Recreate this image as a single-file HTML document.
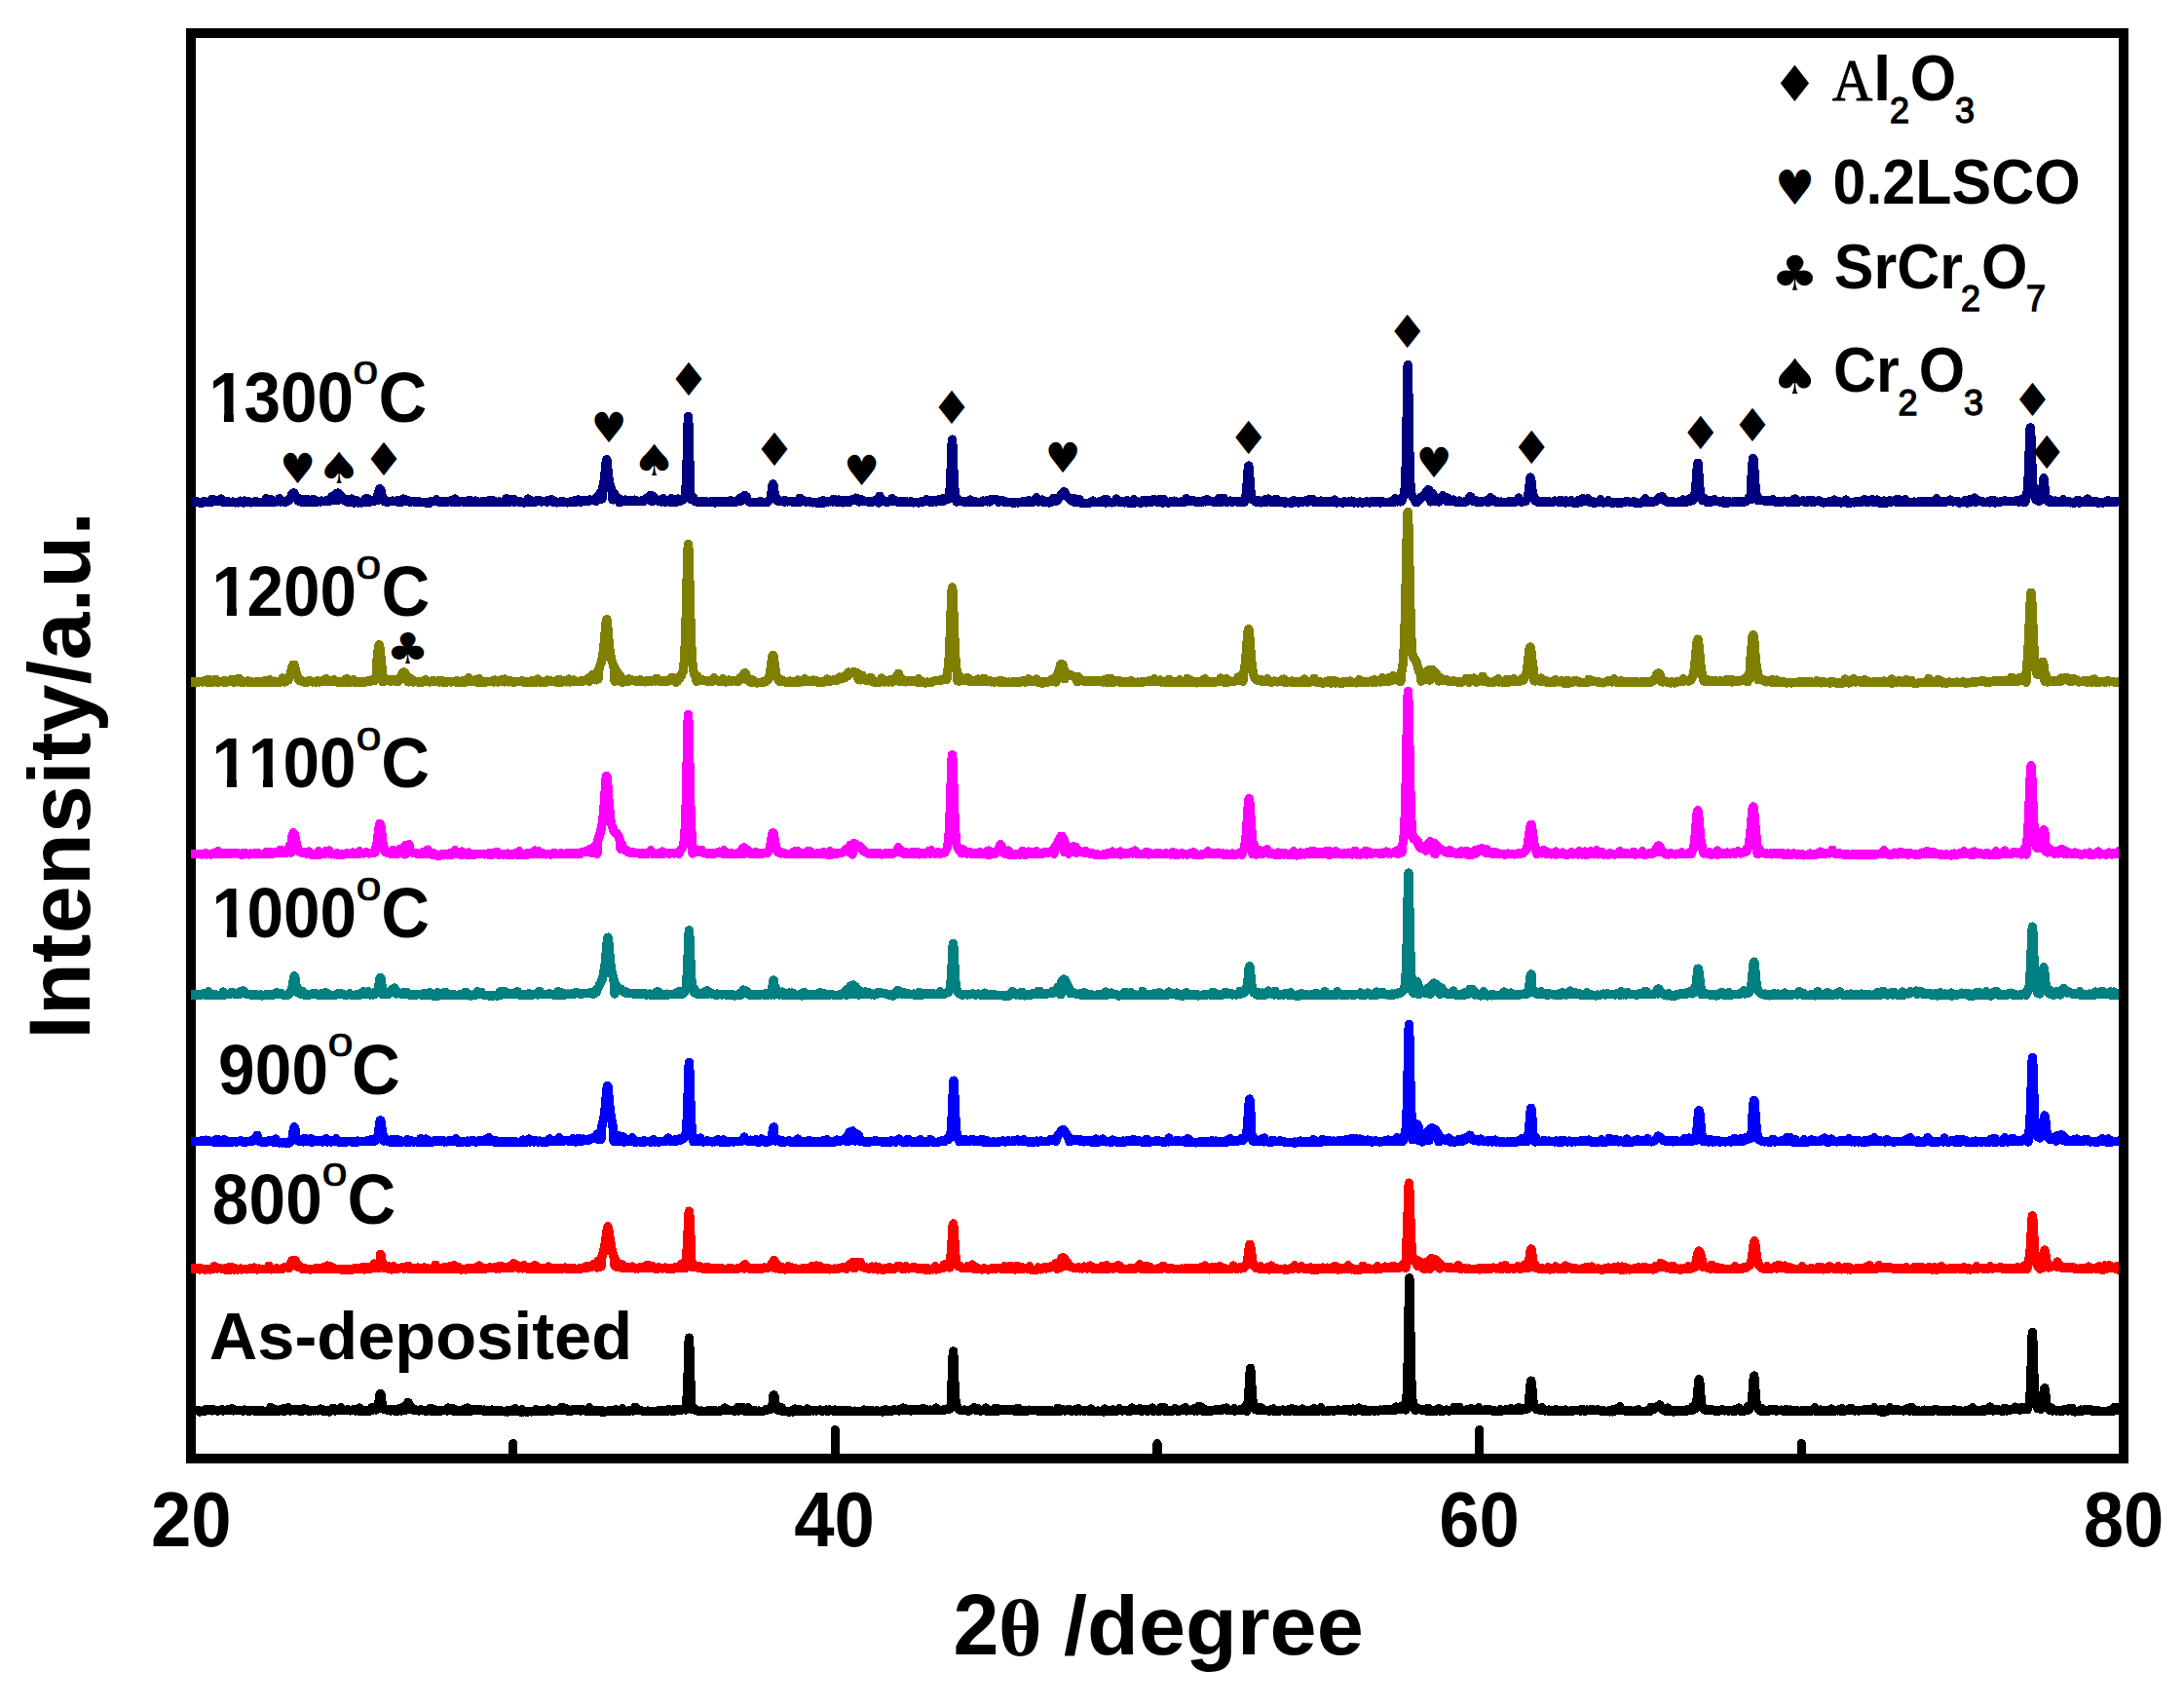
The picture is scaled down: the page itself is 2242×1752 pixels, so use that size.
<!DOCTYPE html>
<html lang="en"><head><meta charset="utf-8">
<title>XRD patterns</title>
<style>
html,body{margin:0;padding:0;background:#fff;}
body{width:2242px;height:1752px;overflow:hidden;}
svg{display:block;}
text{font-family:"Liberation Sans",sans-serif;font-weight:700;fill:#000;}
.sym{font-family:"DejaVu Sans",sans-serif;font-weight:400;font-size:100px;}
.reg{font-weight:400;}
.ser{font-family:"Liberation Serif",serif;font-weight:700;}
.serA{font-family:"Liberation Serif",serif;font-weight:400;font-size:57.2px;stroke:#000;stroke-width:0.9px;}
.lab{font-size:69px;}
.sup{font-size:39.7px;font-weight:400;stroke:#000;stroke-width:0.7px;}
.leg{font-size:61px;}
.sub{font-size:33.75px;font-weight:400;stroke:#000;stroke-width:1.3px;}
.bigO{font-size:62.6px;}
.tick{font-size:76px;text-anchor:middle;}
.ttl{font-size:87px;}
.ytl{font-size:88px;letter-spacing:0.3px;}
</style></head><body>
<svg width="2242" height="1752" viewBox="0 0 2242 1752">
<rect width="2242" height="1752" fill="#fff"/>
<g shape-rendering="crispEdges">
<path d="M2180,1497 L196,1497 L196,34 L2180,34" fill="none" stroke="#000" stroke-width="10" stroke-linejoin="miter"/>
<line x1="526.7" y1="1481.6" x2="526.7" y2="1495" stroke="#000" stroke-width="9.2" stroke-linecap="round"/>
<line x1="857.3" y1="1467.6" x2="857.3" y2="1495" stroke="#000" stroke-width="9.2" stroke-linecap="round"/>
<line x1="1188.0" y1="1481.6" x2="1188.0" y2="1495" stroke="#000" stroke-width="9.2" stroke-linecap="round"/>
<line x1="1518.7" y1="1467.6" x2="1518.7" y2="1495" stroke="#000" stroke-width="9.2" stroke-linecap="round"/>
<line x1="1849.3" y1="1481.6" x2="1849.3" y2="1495" stroke="#000" stroke-width="9.2" stroke-linecap="round"/>
</g>
<g id="curves" shape-rendering="crispEdges">
<path d="M196,1447.8 197,1447.8 198,1447.8 199,1447.8 200,1447.8 201,1447.8 202,1447.8 203,1447.8 204,1447.8 205,1448.9 206,1448.3 207,1448.6 208,1448.5 209,1448.3 210,1446.9 211,1448.1 212,1446.4 213,1446.7 214,1447.8 215,1447.2 216,1446.7 217,1446.6 218,1447.9 219,1446.8 220,1447.6 221,1447.7 222,1447.7 223,1448.1 224,1447.9 225,1447.9 226,1447.6 227,1447.6 228,1446.9 229,1447.9 230,1447.6 231,1447.5 232,1447.7 233,1447.0 234,1446.9 235,1447.8 236,1447.3 237,1446.7 238,1445.7 239,1447.9 240,1447.8 241,1446.9 242,1447.3 243,1447.7 244,1447.3 245,1447.2 246,1447.7 247,1447.3 248,1447.9 249,1447.8 250,1448.0 251,1447.0 252,1447.7 253,1447.3 254,1447.9 255,1448.0 256,1448.2 257,1448.0 258,1447.5 259,1447.7 260,1447.7 261,1448.0 262,1448.3 263,1448.2 264,1447.7 265,1448.5 266,1448.0 267,1447.5 268,1448.4 269,1447.5 270,1448.3 271,1448.2 272,1448.6 273,1448.3 274,1448.4 275,1447.8 276,1448.6 277,1448.5 278,1444.4 279,1448.3 280,1448.4 281,1448.4 282,1446.6 283,1448.1 284,1447.0 285,1448.0 286,1448.3 287,1447.1 288,1447.7 289,1447.8 290,1447.9 291,1445.7 292,1448.2 293,1447.9 294,1447.7 295,1447.3 296,1444.8 297,1447.8 298,1448.0 299,1447.8 300,1447.5 301,1446.2 302,1447.6 303,1447.1 304,1447.7 305,1446.8 306,1446.3 307,1447.9 308,1448.2 309,1447.9 310,1448.4 311,1448.2 312,1445.6 313,1447.8 314,1447.6 315,1447.5 316,1447.1 317,1448.4 318,1447.4 319,1447.9 320,1447.4 321,1447.9 322,1447.7 323,1447.5 324,1447.9 325,1447.3 326,1447.9 327,1447.5 328,1447.8 329,1446.0 330,1446.3 331,1448.0 332,1448.0 333,1448.2 334,1447.6 335,1447.9 336,1447.7 337,1448.0 338,1448.9 339,1448.0 340,1448.1 341,1447.8 342,1445.3 343,1447.6 344,1448.0 345,1447.5 346,1447.1 347,1447.5 348,1446.8 349,1447.3 350,1444.6 351,1447.1 352,1446.4 353,1447.3 354,1447.3 355,1447.3 356,1447.6 357,1446.6 358,1447.3 359,1447.9 360,1447.6 361,1447.8 362,1447.5 363,1446.6 364,1447.7 365,1448.0 366,1447.7 367,1447.7 368,1448.1 369,1444.9 370,1448.4 371,1448.0 372,1447.8 373,1447.8 374,1448.7 375,1448.5 376,1448.0 377,1447.2 378,1448.6 379,1448.1 380,1447.2 381,1446.7 382,1444.4 383,1447.0 384,1446.8 385,1446.1 386,1446.9 387,1446.3 388,1445.6 389,1438.5 390,1431.3 390.5,1430.4 391,1431.4 392,1438.8 393,1445.8 394,1446.1 395,1446.7 396,1446.2 397,1447.0 398,1446.3 399,1447.2 400,1447.1 401,1448.0 402,1447.8 403,1446.7 404,1446.3 405,1448.0 406,1448.2 407,1448.6 408,1448.5 409,1447.9 410,1445.5 411,1447.0 412,1448.0 413,1447.4 414,1447.2 415,1443.4 416,1447.2 417,1444.1 418,1441.9 419,1439.3 420,1446.3 421,1443.0 422,1444.9 423,1445.3 424,1446.4 425,1447.3 426,1446.7 427,1447.2 428,1447.8 429,1447.4 430,1448.0 431,1447.7 432,1446.8 433,1447.6 434,1447.4 435,1447.8 436,1447.7 437,1448.1 438,1448.6 439,1447.5 440,1447.8 441,1447.5 442,1445.3 443,1448.3 444,1448.5 445,1447.9 446,1448.1 447,1447.0 448,1448.3 449,1448.1 450,1447.7 451,1448.1 452,1448.0 453,1447.9 454,1447.8 455,1447.4 456,1447.6 457,1447.8 458,1447.6 459,1447.9 460,1445.1 461,1447.3 462,1447.7 463,1447.3 464,1447.4 465,1445.4 466,1448.3 467,1447.6 468,1448.1 469,1448.3 470,1448.0 471,1448.3 472,1447.6 473,1448.2 474,1448.2 475,1448.1 476,1448.0 477,1446.1 478,1448.4 479,1448.2 480,1444.9 481,1448.3 482,1448.3 483,1447.3 484,1447.8 485,1447.9 486,1446.5 487,1447.0 488,1446.4 489,1447.7 490,1447.8 491,1447.5 492,1447.7 493,1446.8 494,1447.5 495,1447.4 496,1447.9 497,1447.1 498,1447.4 499,1448.5 500,1447.8 501,1447.9 502,1448.6 503,1448.5 504,1448.2 505,1447.0 506,1448.6 507,1448.3 508,1448.4 509,1448.1 510,1447.6 511,1448.2 512,1448.1 513,1447.9 514,1448.6 515,1448.1 516,1448.6 517,1448.7 518,1448.7 519,1448.9 520,1448.5 521,1448.9 522,1447.3 523,1448.3 524,1448.8 525,1448.6 526,1448.1 527,1446.4 528,1447.8 529,1445.6 530,1448.6 531,1448.5 532,1448.1 533,1448.9 534,1447.6 535,1449.1 536,1446.6 537,1449.0 538,1448.8 539,1448.6 540,1449.0 541,1448.6 542,1449.1 543,1448.5 544,1448.8 545,1448.8 546,1448.9 547,1448.3 548,1448.3 549,1448.5 550,1446.8 551,1448.7 552,1447.6 553,1447.4 554,1448.1 555,1448.2 556,1447.7 557,1448.1 558,1447.8 559,1448.1 560,1448.2 561,1448.3 562,1447.7 563,1445.9 564,1447.2 565,1446.9 566,1448.5 567,1447.8 568,1447.9 569,1447.8 570,1447.6 571,1447.8 572,1447.5 573,1447.5 574,1446.6 575,1447.5 576,1445.8 577,1444.2 578,1446.9 579,1447.1 580,1447.6 581,1445.5 582,1448.0 583,1448.3 584,1447.7 585,1447.5 586,1447.9 587,1448.0 588,1446.8 589,1447.6 590,1447.1 591,1446.6 592,1447.1 593,1446.8 594,1447.4 595,1447.3 596,1447.9 597,1446.9 598,1447.5 599,1447.1 600,1447.6 601,1447.9 602,1448.2 603,1447.9 604,1447.7 605,1444.8 606,1448.4 607,1448.2 608,1447.7 609,1447.5 610,1448.3 611,1448.2 612,1447.9 613,1448.6 614,1447.9 615,1448.4 616,1448.0 617,1449.1 618,1447.9 619,1448.6 620,1449.2 621,1448.5 622,1448.7 623,1448.2 624,1448.3 625,1448.2 626,1447.3 627,1448.3 628,1448.2 629,1448.5 630,1448.0 631,1447.7 632,1446.6 633,1448.6 634,1448.5 635,1448.1 636,1447.9 637,1448.1 638,1447.3 639,1445.6 640,1448.4 641,1448.4 642,1448.5 643,1448.2 644,1448.5 645,1448.0 646,1448.3 647,1447.7 648,1447.7 649,1447.6 650,1448.0 651,1447.1 652,1444.2 653,1447.3 654,1447.8 655,1447.1 656,1446.9 657,1447.5 658,1447.5 659,1448.0 660,1448.4 661,1448.6 662,1448.4 663,1448.5 664,1448.7 665,1448.1 666,1448.3 667,1448.6 668,1448.5 669,1448.7 670,1448.6 671,1448.4 672,1448.4 673,1448.2 674,1448.3 675,1448.1 676,1447.7 677,1448.2 678,1447.8 679,1448.5 680,1448.5 681,1447.5 682,1447.4 683,1448.0 684,1447.7 685,1448.4 686,1447.8 687,1446.4 688,1447.6 689,1447.8 690,1448.2 691,1448.2 692,1446.7 693,1447.9 694,1447.6 695,1447.6 696,1446.7 697,1447.5 698,1447.0 699,1446.6 700,1447.0 701,1445.9 702,1445.7 703,1445.1 704,1447.0 705,1437.2 706,1415.7 707,1379.0 707.4,1373.1 708,1385.4 709,1421.9 710,1446.4 711,1443.9 712,1445.6 713,1445.7 714,1447.4 715,1447.8 716,1447.5 717,1448.4 718,1448.4 719,1448.5 720,1448.1 721,1448.5 722,1448.2 723,1448.7 724,1448.5 725,1448.6 726,1448.0 727,1448.2 728,1448.1 729,1448.4 730,1448.0 731,1448.0 732,1448.0 733,1448.2 734,1447.6 735,1448.4 736,1448.5 737,1448.2 738,1448.1 739,1448.3 740,1448.0 741,1447.8 742,1446.5 743,1447.3 744,1445.1 745,1447.3 746,1447.8 747,1446.5 748,1447.6 749,1447.7 750,1447.3 751,1447.8 752,1447.2 753,1447.9 754,1447.3 755,1448.1 756,1447.5 757,1444.8 758,1448.0 759,1445.3 760,1447.5 761,1446.1 762,1444.3 763,1445.9 764,1447.5 765,1448.4 766,1447.8 767,1448.1 768,1444.6 769,1448.1 770,1447.7 771,1448.2 772,1448.1 773,1447.7 774,1447.9 775,1447.7 776,1448.0 777,1448.5 778,1448.3 779,1448.1 780,1448.5 781,1448.4 782,1448.7 783,1448.3 784,1448.1 785,1447.6 786,1446.7 787,1447.3 788,1447.1 789,1446.8 790,1446.1 791,1446.1 792,1443.4 793,1445.0 794,1432.4 794.4,1431.7 795,1433.4 796,1440.3 797,1444.9 798,1446.6 799,1447.6 800,1447.2 801,1447.5 802,1444.5 803,1448.2 804,1448.2 805,1447.6 806,1448.0 807,1448.3 808,1448.7 809,1449.0 810,1448.8 811,1449.1 812,1448.6 813,1448.6 814,1448.9 815,1446.4 816,1446.0 817,1448.3 818,1448.4 819,1448.8 820,1448.3 821,1446.6 822,1448.5 823,1448.0 824,1448.7 825,1448.5 826,1448.3 827,1448.6 828,1446.5 829,1445.9 830,1448.4 831,1448.1 832,1448.0 833,1447.8 834,1447.7 835,1447.9 836,1447.7 837,1447.6 838,1448.0 839,1447.5 840,1447.4 841,1447.5 842,1447.0 843,1448.1 844,1447.8 845,1447.9 846,1447.7 847,1447.8 848,1447.1 849,1448.2 850,1447.8 851,1448.1 852,1447.0 853,1447.7 854,1447.6 855,1447.4 856,1448.1 857,1447.1 858,1447.7 859,1448.3 860,1447.7 861,1447.7 862,1448.1 863,1447.2 864,1448.4 865,1448.2 866,1447.8 867,1447.7 868,1447.9 869,1448.0 870,1448.0 871,1448.1 872,1448.0 873,1448.0 874,1448.6 875,1448.3 876,1448.5 877,1448.3 878,1448.1 879,1448.8 880,1448.2 881,1448.2 882,1448.2 883,1448.2 884,1448.6 885,1448.3 886,1448.4 887,1447.0 888,1448.6 889,1448.6 890,1447.2 891,1448.7 892,1448.1 893,1448.7 894,1448.6 895,1447.6 896,1448.0 897,1448.3 898,1448.4 899,1448.0 900,1448.2 901,1447.9 902,1448.4 903,1448.8 904,1448.8 905,1448.1 906,1448.9 907,1448.3 908,1448.8 909,1446.4 910,1448.1 911,1447.9 912,1448.3 913,1448.5 914,1448.1 915,1448.2 916,1448.0 917,1447.6 918,1446.7 919,1447.7 920,1447.6 921,1447.7 922,1447.1 923,1447.9 924,1446.8 925,1446.3 926,1446.6 927,1444.9 928,1447.3 929,1447.4 930,1447.5 931,1446.1 932,1447.8 933,1446.7 934,1447.2 935,1448.0 936,1446.5 937,1447.7 938,1446.8 939,1446.7 940,1447.4 941,1447.5 942,1447.7 943,1446.3 944,1447.5 945,1447.3 946,1446.4 947,1445.6 948,1447.3 949,1445.9 950,1447.8 951,1446.9 952,1447.7 953,1447.8 954,1447.5 955,1447.0 956,1447.6 957,1447.6 958,1447.3 959,1447.2 960,1447.4 961,1445.1 962,1447.1 963,1447.4 964,1447.4 965,1447.4 966,1447.4 967,1447.6 968,1447.0 969,1446.8 970,1447.1 971,1446.5 972,1446.0 973,1446.1 974,1446.1 975,1443.6 976,1445.3 977,1421.8 978,1393.3 978.5,1386.9 979,1393.1 980,1421.8 981,1438.5 982,1443.9 983,1444.5 984,1446.4 985,1447.0 986,1447.3 987,1447.8 988,1447.5 989,1447.6 990,1447.1 991,1447.7 992,1447.5 993,1448.1 994,1448.2 995,1447.7 996,1447.2 997,1446.8 998,1446.9 999,1445.9 1000,1444.8 1001,1446.0 1002,1447.5 1003,1447.4 1004,1445.8 1005,1447.6 1006,1448.1 1007,1447.8 1008,1447.9 1009,1447.4 1010,1447.1 1011,1447.9 1012,1444.9 1013,1448.4 1014,1448.3 1015,1448.5 1016,1447.9 1017,1448.1 1018,1448.1 1019,1448.3 1020,1447.3 1021,1448.2 1022,1445.3 1023,1445.3 1024,1448.4 1025,1448.1 1026,1446.7 1027,1446.4 1028,1447.8 1029,1447.6 1030,1447.6 1031,1446.7 1032,1446.9 1033,1447.2 1034,1447.2 1035,1446.9 1036,1446.4 1037,1447.4 1038,1446.9 1039,1447.2 1040,1447.0 1041,1447.0 1042,1448.1 1043,1448.6 1044,1448.2 1045,1445.2 1046,1448.4 1047,1447.9 1048,1447.6 1049,1447.9 1050,1448.3 1051,1447.6 1052,1448.1 1053,1447.9 1054,1447.5 1055,1447.9 1056,1447.1 1057,1447.3 1058,1447.5 1059,1447.4 1060,1447.5 1061,1447.4 1062,1447.7 1063,1447.6 1064,1447.8 1065,1447.4 1066,1448.3 1067,1448.6 1068,1447.4 1069,1448.6 1070,1448.7 1071,1447.7 1072,1448.5 1073,1448.2 1074,1447.7 1075,1448.3 1076,1448.5 1077,1448.6 1078,1447.7 1079,1448.0 1080,1447.9 1081,1448.5 1082,1448.5 1083,1448.3 1084,1447.8 1085,1448.3 1086,1445.2 1087,1447.6 1088,1448.4 1089,1447.7 1090,1446.2 1091,1447.7 1092,1447.8 1093,1448.0 1094,1447.5 1095,1447.1 1096,1447.2 1097,1446.3 1098,1447.4 1099,1447.9 1100,1448.0 1101,1447.9 1102,1447.4 1103,1447.0 1104,1447.9 1105,1447.4 1106,1448.1 1107,1445.8 1108,1447.4 1109,1448.0 1110,1447.8 1111,1447.2 1112,1447.8 1113,1448.2 1114,1447.8 1115,1447.7 1116,1447.8 1117,1447.7 1118,1448.4 1119,1447.5 1120,1445.9 1121,1448.2 1122,1448.8 1123,1448.4 1124,1448.6 1125,1448.4 1126,1448.8 1127,1448.1 1128,1448.5 1129,1448.2 1130,1448.5 1131,1448.1 1132,1448.7 1133,1448.9 1134,1446.1 1135,1448.3 1136,1448.5 1137,1448.7 1138,1447.6 1139,1448.3 1140,1448.7 1141,1448.7 1142,1446.9 1143,1447.1 1144,1448.6 1145,1448.0 1146,1448.3 1147,1447.2 1148,1447.6 1149,1445.8 1150,1446.8 1151,1447.7 1152,1447.9 1153,1447.8 1154,1447.8 1155,1447.8 1156,1447.2 1157,1448.0 1158,1448.3 1159,1448.0 1160,1447.7 1161,1448.1 1162,1445.0 1163,1447.3 1164,1447.7 1165,1447.5 1166,1446.9 1167,1447.3 1168,1447.4 1169,1447.5 1170,1445.4 1171,1448.0 1172,1447.9 1173,1448.0 1174,1447.7 1175,1446.6 1176,1446.7 1177,1447.9 1178,1448.2 1179,1447.0 1180,1446.8 1181,1447.5 1182,1447.4 1183,1445.1 1184,1448.1 1185,1448.1 1186,1447.4 1187,1447.7 1188,1448.1 1189,1447.8 1190,1448.2 1191,1448.1 1192,1444.4 1193,1447.7 1194,1446.9 1195,1444.4 1196,1448.2 1197,1447.2 1198,1447.8 1199,1448.0 1200,1448.2 1201,1448.2 1202,1448.0 1203,1447.3 1204,1448.0 1205,1447.8 1206,1445.6 1207,1446.4 1208,1448.1 1209,1448.3 1210,1448.2 1211,1447.7 1212,1447.4 1213,1446.6 1214,1447.7 1215,1447.3 1216,1445.7 1217,1444.5 1218,1448.0 1219,1447.5 1220,1447.1 1221,1447.7 1222,1447.2 1223,1447.4 1224,1447.4 1225,1446.0 1226,1447.9 1227,1447.5 1228,1447.8 1229,1447.9 1230,1443.5 1231,1447.1 1232,1447.7 1233,1443.9 1234,1445.2 1235,1448.0 1236,1447.8 1237,1448.3 1238,1447.0 1239,1448.3 1240,1448.5 1241,1448.2 1242,1447.7 1243,1448.0 1244,1447.7 1245,1447.9 1246,1447.5 1247,1447.7 1248,1446.8 1249,1447.0 1250,1447.5 1251,1446.3 1252,1447.3 1253,1447.6 1254,1447.4 1255,1446.8 1256,1446.7 1257,1445.2 1258,1446.0 1259,1444.9 1260,1447.4 1261,1447.0 1262,1447.8 1263,1447.5 1264,1447.3 1265,1447.2 1266,1447.9 1267,1445.8 1268,1448.0 1269,1447.4 1270,1447.5 1271,1447.4 1272,1447.0 1273,1447.1 1274,1447.4 1275,1446.5 1276,1446.9 1277,1444.8 1278,1445.8 1279,1445.8 1280,1448.3 1281,1440.0 1282,1428.0 1283,1409.7 1283.6,1404.2 1284,1406.9 1285,1424.6 1286,1437.8 1287,1441.2 1288,1446.3 1289,1446.7 1290,1447.1 1291,1447.3 1292,1446.6 1293,1446.9 1294,1444.3 1295,1447.5 1296,1447.6 1297,1447.7 1298,1447.0 1299,1447.5 1300,1447.6 1301,1447.7 1302,1447.7 1303,1448.3 1304,1448.0 1305,1446.7 1306,1447.4 1307,1445.9 1308,1448.3 1309,1448.0 1310,1447.7 1311,1447.3 1312,1448.1 1313,1447.4 1314,1447.7 1315,1447.9 1316,1447.3 1317,1447.1 1318,1448.0 1319,1448.0 1320,1447.9 1321,1447.9 1322,1448.3 1323,1446.6 1324,1448.1 1325,1448.0 1326,1445.5 1327,1447.6 1328,1448.0 1329,1446.4 1330,1448.3 1331,1448.1 1332,1448.5 1333,1448.0 1334,1448.6 1335,1448.7 1336,1448.3 1337,1446.1 1338,1448.3 1339,1448.6 1340,1448.4 1341,1447.4 1342,1447.4 1343,1447.7 1344,1448.4 1345,1447.9 1346,1448.6 1347,1448.5 1348,1448.3 1349,1445.5 1350,1447.7 1351,1448.2 1352,1447.9 1353,1448.0 1354,1447.9 1355,1447.7 1356,1444.8 1357,1448.1 1358,1447.7 1359,1447.9 1360,1448.5 1361,1448.3 1362,1448.1 1363,1448.3 1364,1448.5 1365,1448.1 1366,1447.4 1367,1447.7 1368,1447.7 1369,1448.3 1370,1448.0 1371,1447.8 1372,1447.7 1373,1447.8 1374,1446.9 1375,1447.4 1376,1447.4 1377,1447.3 1378,1447.8 1379,1447.0 1380,1446.9 1381,1446.8 1382,1447.8 1383,1447.3 1384,1446.8 1385,1447.7 1386,1448.2 1387,1447.8 1388,1447.7 1389,1445.9 1390,1447.9 1391,1447.7 1392,1448.0 1393,1447.0 1394,1447.9 1395,1444.9 1396,1447.6 1397,1447.0 1398,1447.3 1399,1448.0 1400,1448.7 1401,1446.8 1402,1448.7 1403,1448.1 1404,1447.6 1405,1448.4 1406,1448.6 1407,1447.4 1408,1447.9 1409,1447.6 1410,1447.6 1411,1448.2 1412,1447.3 1413,1447.6 1414,1447.5 1415,1448.0 1416,1447.6 1417,1447.1 1418,1447.7 1419,1447.6 1420,1447.4 1421,1446.7 1422,1447.0 1423,1447.4 1424,1447.5 1425,1446.7 1426,1447.4 1427,1447.3 1428,1447.2 1429,1446.9 1430,1446.8 1431,1446.6 1432,1447.3 1433,1443.9 1434,1446.7 1435,1445.3 1436,1446.0 1437,1445.8 1438,1446.0 1439,1443.1 1440,1444.9 1441,1444.9 1442,1446.3 1443,1447.1 1444,1434.8 1445,1409.7 1446,1348.3 1446.8,1311.7 1447,1314.6 1448,1376.1 1449,1423.7 1450,1438.5 1451,1442.0 1452,1443.6 1453,1447.5 1454,1445.0 1455,1445.4 1456,1445.7 1457,1446.1 1458,1446.5 1459,1447.0 1460,1447.3 1461,1447.0 1462,1447.8 1463,1447.6 1464,1448.1 1465,1448.4 1466,1445.3 1467,1448.2 1468,1448.3 1469,1447.7 1470,1447.7 1471,1448.2 1472,1447.4 1473,1447.2 1474,1448.0 1475,1447.9 1476,1447.2 1477,1445.4 1478,1448.0 1479,1448.0 1480,1447.4 1481,1448.0 1482,1447.9 1483,1447.7 1484,1447.6 1485,1447.1 1486,1447.7 1487,1448.0 1488,1447.6 1489,1447.9 1490,1447.5 1491,1447.6 1492,1446.8 1493,1444.2 1494,1446.5 1495,1447.7 1496,1447.8 1497,1447.1 1498,1444.3 1499,1446.3 1500,1447.1 1501,1447.5 1502,1447.2 1503,1447.2 1504,1447.4 1505,1447.2 1506,1446.8 1507,1447.3 1508,1447.6 1509,1446.1 1510,1445.8 1511,1447.8 1512,1446.9 1513,1447.6 1514,1447.0 1515,1447.8 1516,1447.7 1517,1447.7 1518,1444.7 1519,1447.6 1520,1447.8 1521,1447.3 1522,1447.6 1523,1447.7 1524,1447.1 1525,1447.5 1526,1446.5 1527,1447.3 1528,1446.7 1529,1447.6 1530,1447.0 1531,1447.6 1532,1447.5 1533,1448.3 1534,1447.5 1535,1448.2 1536,1448.4 1537,1448.7 1538,1448.0 1539,1447.6 1540,1446.6 1541,1447.8 1542,1448.1 1543,1447.8 1544,1447.2 1545,1447.4 1546,1446.7 1547,1446.6 1548,1447.2 1549,1447.2 1550,1446.7 1551,1445.8 1552,1447.5 1553,1447.1 1554,1447.7 1555,1447.0 1556,1447.7 1557,1447.7 1558,1447.8 1559,1444.5 1560,1447.8 1561,1447.7 1562,1447.1 1563,1445.6 1564,1446.7 1565,1446.5 1566,1446.8 1567,1446.6 1568,1445.4 1569,1445.1 1570,1432.9 1571,1420.9 1571.7,1417.1 1572,1417.4 1573,1426.7 1574,1438.9 1575,1443.6 1576,1444.9 1577,1446.4 1578,1446.5 1579,1445.1 1580,1446.8 1581,1447.6 1582,1447.6 1583,1444.5 1584,1447.1 1585,1447.7 1586,1447.9 1587,1447.8 1588,1447.5 1589,1447.9 1590,1447.1 1591,1447.8 1592,1448.2 1593,1448.0 1594,1447.6 1595,1448.3 1596,1448.5 1597,1446.6 1598,1448.3 1599,1447.3 1600,1448.3 1601,1448.5 1602,1448.0 1603,1448.2 1604,1447.8 1605,1448.6 1606,1448.6 1607,1447.0 1608,1448.5 1609,1448.1 1610,1448.2 1611,1448.2 1612,1448.1 1613,1448.2 1614,1447.9 1615,1447.9 1616,1447.7 1617,1447.4 1618,1447.5 1619,1447.5 1620,1447.6 1621,1447.5 1622,1448.1 1623,1447.2 1624,1446.1 1625,1447.5 1626,1448.1 1627,1447.3 1628,1447.9 1629,1447.0 1630,1447.4 1631,1447.3 1632,1447.0 1633,1447.1 1634,1446.7 1635,1446.9 1636,1447.4 1637,1447.4 1638,1447.5 1639,1447.6 1640,1446.9 1641,1447.6 1642,1447.3 1643,1447.2 1644,1448.2 1645,1447.9 1646,1447.8 1647,1448.3 1648,1448.3 1649,1448.4 1650,1448.7 1651,1448.4 1652,1447.7 1653,1448.9 1654,1448.1 1655,1448.9 1656,1446.8 1657,1448.5 1658,1448.1 1659,1447.6 1660,1447.4 1661,1447.5 1662,1444.5 1663,1443.7 1664,1447.5 1665,1447.2 1666,1447.3 1667,1447.6 1668,1448.1 1669,1447.4 1670,1448.2 1671,1448.0 1672,1448.3 1673,1447.3 1674,1447.5 1675,1448.5 1676,1448.5 1677,1448.4 1678,1448.0 1679,1447.7 1680,1448.2 1681,1447.7 1682,1446.8 1683,1448.3 1684,1448.3 1685,1448.6 1686,1448.6 1687,1448.3 1688,1448.2 1689,1448.8 1690,1448.3 1691,1447.6 1692,1448.0 1693,1448.0 1694,1448.1 1695,1444.3 1696,1446.5 1697,1446.5 1698,1446.2 1699,1445.5 1700,1444.8 1701,1444.0 1702,1443.0 1703,1442.8 1704,1441.9 1705,1444.7 1706,1445.6 1707,1446.9 1708,1447.1 1709,1448.0 1710,1447.6 1711,1448.0 1712,1445.1 1713,1448.2 1714,1448.2 1715,1448.2 1716,1448.8 1717,1448.1 1718,1448.9 1719,1447.8 1720,1448.4 1721,1448.1 1722,1448.4 1723,1448.7 1724,1447.8 1725,1447.6 1726,1448.0 1727,1448.4 1728,1447.3 1729,1448.2 1730,1447.9 1731,1448.3 1732,1447.8 1733,1446.4 1734,1447.8 1735,1447.0 1736,1447.7 1737,1447.0 1738,1443.4 1739,1444.8 1740,1446.0 1741,1441.7 1742,1437.5 1743,1425.7 1744,1415.9 1744.2,1415.7 1745,1420.3 1746,1433.4 1747,1441.9 1748,1445.3 1749,1445.7 1750,1446.9 1751,1447.2 1752,1447.4 1753,1447.6 1754,1446.7 1755,1446.8 1756,1447.7 1757,1447.7 1758,1447.1 1759,1447.4 1760,1447.9 1761,1447.4 1762,1448.4 1763,1447.9 1764,1448.1 1765,1447.7 1766,1447.9 1767,1446.9 1768,1446.9 1769,1447.2 1770,1447.7 1771,1447.9 1772,1447.5 1773,1447.8 1774,1448.0 1775,1447.7 1776,1447.9 1777,1447.6 1778,1447.9 1779,1448.1 1780,1448.4 1781,1446.6 1782,1448.0 1783,1447.7 1784,1447.5 1785,1444.9 1786,1447.3 1787,1448.4 1788,1447.6 1789,1448.4 1790,1448.0 1791,1447.6 1792,1447.9 1793,1447.5 1794,1443.8 1795,1447.0 1796,1445.8 1797,1443.6 1798,1440.2 1799,1431.2 1800,1416.0 1800.6,1412.0 1801,1413.9 1802,1428.5 1803,1440.0 1804,1442.7 1805,1446.3 1806,1446.5 1807,1448.0 1808,1447.9 1809,1445.8 1810,1448.2 1811,1447.4 1812,1447.5 1813,1447.3 1814,1448.1 1815,1447.3 1816,1448.1 1817,1446.9 1818,1447.5 1819,1447.2 1820,1447.2 1821,1446.5 1822,1447.5 1823,1448.1 1824,1447.0 1825,1447.6 1826,1447.6 1827,1447.3 1828,1447.2 1829,1447.1 1830,1447.9 1831,1448.1 1832,1447.1 1833,1448.0 1834,1448.1 1835,1447.0 1836,1447.7 1837,1448.2 1838,1447.0 1839,1448.1 1840,1447.9 1841,1448.2 1842,1448.1 1843,1448.0 1844,1448.1 1845,1447.5 1846,1448.4 1847,1448.3 1848,1448.6 1849,1448.1 1850,1448.6 1851,1447.5 1852,1448.2 1853,1448.0 1854,1448.4 1855,1447.3 1856,1448.3 1857,1447.9 1858,1447.9 1859,1448.1 1860,1448.1 1861,1446.8 1862,1447.4 1863,1444.7 1864,1448.2 1865,1448.3 1866,1447.8 1867,1447.8 1868,1448.0 1869,1447.0 1870,1448.2 1871,1447.7 1872,1447.7 1873,1448.3 1874,1447.3 1875,1448.5 1876,1448.5 1877,1448.3 1878,1448.6 1879,1448.6 1880,1446.0 1881,1447.6 1882,1448.5 1883,1448.4 1884,1448.1 1885,1447.5 1886,1447.8 1887,1447.9 1888,1447.0 1889,1448.0 1890,1448.1 1891,1445.7 1892,1447.9 1893,1447.7 1894,1448.1 1895,1447.7 1896,1447.8 1897,1446.8 1898,1447.7 1899,1446.1 1900,1445.4 1901,1447.0 1902,1447.8 1903,1447.6 1904,1448.1 1905,1447.8 1906,1447.3 1907,1447.7 1908,1448.0 1909,1447.7 1910,1447.5 1911,1447.8 1912,1447.3 1913,1447.7 1914,1446.8 1915,1447.4 1916,1447.4 1917,1447.6 1918,1446.8 1919,1446.4 1920,1447.7 1921,1446.7 1922,1447.2 1923,1447.1 1924,1444.8 1925,1447.3 1926,1447.0 1927,1447.3 1928,1447.7 1929,1448.2 1930,1448.6 1931,1448.9 1932,1446.3 1933,1449.0 1934,1449.2 1935,1448.2 1936,1448.4 1937,1448.2 1938,1448.1 1939,1447.2 1940,1444.7 1941,1447.7 1942,1446.2 1943,1447.6 1944,1446.7 1945,1446.9 1946,1447.0 1947,1447.7 1948,1446.5 1949,1447.6 1950,1447.3 1951,1447.6 1952,1447.4 1953,1447.8 1954,1448.0 1955,1447.5 1956,1447.8 1957,1446.5 1958,1445.4 1959,1447.7 1960,1447.8 1961,1448.1 1962,1444.2 1963,1445.0 1964,1448.0 1965,1448.0 1966,1447.7 1967,1447.9 1968,1448.7 1969,1447.7 1970,1448.4 1971,1448.6 1972,1448.5 1973,1448.0 1974,1448.6 1975,1448.6 1976,1447.1 1977,1448.2 1978,1448.0 1979,1448.0 1980,1448.0 1981,1448.3 1982,1447.8 1983,1447.9 1984,1448.2 1985,1446.9 1986,1446.8 1987,1447.4 1988,1446.8 1989,1448.1 1990,1447.3 1991,1448.4 1992,1447.6 1993,1448.4 1994,1448.4 1995,1448.3 1996,1447.6 1997,1448.1 1998,1448.0 1999,1447.8 2000,1447.8 2001,1448.4 2002,1448.0 2003,1447.5 2004,1447.8 2005,1448.0 2006,1446.8 2007,1448.2 2008,1447.8 2009,1448.5 2010,1448.5 2011,1448.5 2012,1447.5 2013,1448.1 2014,1448.1 2015,1448.7 2016,1448.6 2017,1448.3 2018,1447.5 2019,1448.3 2020,1448.3 2021,1446.9 2022,1448.3 2023,1448.1 2024,1448.1 2025,1444.6 2026,1448.4 2027,1447.1 2028,1447.4 2029,1448.5 2030,1448.3 2031,1447.2 2032,1448.2 2033,1447.7 2034,1447.6 2035,1448.1 2036,1448.0 2037,1446.2 2038,1447.9 2039,1447.5 2040,1447.8 2041,1446.5 2042,1446.3 2043,1444.0 2044,1446.6 2045,1447.7 2046,1448.0 2047,1447.6 2048,1447.1 2049,1447.5 2050,1447.6 2051,1446.5 2052,1447.1 2053,1447.3 2054,1447.2 2055,1448.2 2056,1448.2 2057,1448.0 2058,1445.3 2059,1446.1 2060,1448.0 2061,1446.7 2062,1447.3 2063,1447.5 2064,1447.0 2065,1446.8 2066,1445.9 2067,1445.9 2068,1445.7 2069,1444.1 2070,1446.4 2071,1445.4 2072,1446.2 2073,1447.0 2074,1447.1 2075,1445.9 2076,1444.4 2077,1446.0 2078,1446.9 2079,1445.8 2080,1446.0 2081,1446.8 2082,1443.3 2083,1441.7 2084,1432.9 2085,1408.1 2086,1372.4 2086.4,1367.2 2087,1378.3 2088,1414.7 2089,1435.5 2090,1441.7 2091,1441.3 2092,1445.8 2093,1445.0 2094,1445.4 2095,1446.4 2096,1443.5 2097,1439.3 2098,1429.1 2098.9,1425.0 2099,1424.6 2100,1432.4 2101,1441.2 2102,1444.9 2103,1445.9 2104,1447.3 2105,1446.6 2106,1444.9 2107,1448.0 2108,1446.5 2109,1447.1 2110,1447.6 2111,1448.0 2112,1447.6 2113,1447.7 2114,1448.1 2115,1447.9 2116,1448.1 2117,1448.0 2118,1448.0 2119,1446.7 2120,1447.4 2121,1447.8 2122,1447.1 2123,1447.9 2124,1446.8 2125,1445.2 2126,1447.6 2127,1445.2 2128,1448.4 2129,1448.8 2130,1448.9 2131,1448.7 2132,1448.3 2133,1448.8 2134,1448.7 2135,1448.4 2136,1447.0 2137,1448.2 2138,1447.4 2139,1446.9 2140,1447.5 2141,1447.1 2142,1447.4 2143,1447.3 2144,1447.1 2145,1446.3 2146,1447.2 2147,1447.5 2148,1448.2 2149,1447.8 2150,1448.2 2151,1447.4 2152,1448.3 2153,1448.3 2154,1447.7 2155,1448.1 2156,1448.5 2157,1448.2 2158,1448.2 2159,1448.5 2160,1448.3 2161,1448.4 2162,1448.3 2163,1448.2 2164,1448.1 2165,1447.5 2166,1447.5 2167,1448.2 2168,1448.3 2169,1448.2 2170,1444.8 2171,1446.9 2172,1447.2 2173,1446.8 2174,1444.3 2175,1447.7 2176,1446.6 2177,1447.8 2178,1447.8 2179,1447.8 2180,1447.8" fill="none" stroke="#000000" stroke-width="9.3" stroke-linejoin="round" stroke-linecap="butt"/>
<path d="M196,1302.1 197,1302.1 198,1302.1 199,1302.1 200,1302.1 201,1302.1 202,1302.1 203,1302.1 204,1302.1 205,1302.8 206,1301.6 207,1302.5 208,1302.4 209,1302.5 210,1303.0 211,1303.1 212,1302.8 213,1302.8 214,1302.9 215,1302.5 216,1303.0 217,1302.7 218,1302.7 219,1302.6 220,1299.5 221,1300.4 222,1301.4 223,1301.9 224,1301.4 225,1301.8 226,1301.7 227,1301.9 228,1302.5 229,1302.6 230,1302.5 231,1301.8 232,1303.2 233,1302.8 234,1302.9 235,1303.0 236,1300.3 237,1303.0 238,1300.7 239,1301.8 240,1303.0 241,1303.0 242,1302.1 243,1302.7 244,1302.9 245,1302.8 246,1302.6 247,1302.0 248,1303.0 249,1302.5 250,1302.3 251,1302.8 252,1302.3 253,1302.7 254,1302.9 255,1302.4 256,1301.9 257,1302.3 258,1302.0 259,1302.7 260,1302.1 261,1301.1 262,1301.5 263,1302.6 264,1302.9 265,1302.7 266,1302.0 267,1302.8 268,1302.7 269,1302.3 270,1302.8 271,1302.7 272,1302.6 273,1302.1 274,1301.7 275,1302.9 276,1299.2 277,1302.3 278,1302.9 279,1302.8 280,1302.4 281,1302.7 282,1302.6 283,1302.2 284,1301.8 285,1302.4 286,1302.6 287,1302.5 288,1302.5 289,1302.1 290,1302.3 291,1301.5 292,1301.1 293,1300.3 294,1300.4 295,1300.4 296,1301.6 297,1301.4 298,1297.3 299,1296.4 300,1293.5 301,1293.9 302,1293.5 302.2,1293.5 303,1293.4 304,1294.7 305,1300.1 306,1300.3 307,1298.7 308,1300.1 309,1300.9 310,1302.1 311,1301.7 312,1302.6 313,1302.5 314,1302.1 315,1302.7 316,1302.3 317,1302.6 318,1302.9 319,1303.0 320,1302.5 321,1302.6 322,1302.8 323,1302.3 324,1302.1 325,1301.1 326,1302.3 327,1302.2 328,1302.4 329,1302.3 330,1302.1 331,1301.2 332,1302.2 333,1301.8 334,1302.4 335,1302.2 336,1298.9 337,1302.4 338,1301.0 339,1302.6 340,1300.0 341,1302.4 342,1301.4 343,1302.1 344,1302.0 345,1302.8 346,1302.8 347,1302.6 348,1302.4 349,1302.8 350,1302.4 351,1303.2 352,1303.3 353,1303.4 354,1303.0 355,1302.4 356,1303.4 357,1303.6 358,1303.1 359,1303.2 360,1302.8 361,1302.6 362,1303.1 363,1302.7 364,1302.7 365,1301.4 366,1301.8 367,1302.4 368,1301.7 369,1302.2 370,1302.1 371,1302.6 372,1302.0 373,1300.3 374,1303.0 375,1301.7 376,1302.6 377,1302.7 378,1300.6 379,1302.1 380,1302.3 381,1302.1 382,1300.8 383,1299.5 384,1297.1 385,1301.2 386,1300.4 387,1298.8 388,1299.9 389,1301.5 390,1301.1 390.5,1287.6 391,1288.2 392,1300.8 393,1296.1 394,1301.1 395,1301.1 396,1300.9 397,1299.6 398,1302.1 399,1299.5 400,1301.5 401,1302.7 402,1303.1 403,1302.8 404,1299.8 405,1302.3 406,1302.5 407,1302.7 408,1302.3 409,1301.5 410,1301.7 411,1301.8 412,1301.4 413,1300.7 414,1301.3 415,1302.2 416,1301.9 417,1301.7 418,1299.6 419,1301.9 420,1299.7 421,1302.1 422,1302.3 423,1302.6 424,1302.7 425,1301.5 426,1301.9 427,1301.6 428,1302.3 429,1301.2 430,1301.9 431,1301.8 432,1302.1 433,1302.3 434,1302.3 435,1301.1 436,1300.9 437,1302.5 438,1302.1 439,1302.5 440,1302.0 441,1302.2 442,1302.3 443,1302.7 444,1302.6 445,1302.7 446,1302.6 447,1298.2 448,1302.4 449,1302.6 450,1301.5 451,1302.0 452,1301.5 453,1302.3 454,1301.6 455,1301.7 456,1302.2 457,1300.2 458,1301.7 459,1301.5 460,1302.2 461,1300.1 462,1302.0 463,1302.3 464,1302.2 465,1298.9 466,1302.2 467,1299.1 468,1302.0 469,1301.9 470,1302.4 471,1300.9 472,1302.6 473,1302.9 474,1302.9 475,1302.9 476,1302.5 477,1302.9 478,1302.9 479,1302.7 480,1301.7 481,1302.3 482,1301.9 483,1302.5 484,1302.7 485,1301.8 486,1302.0 487,1301.4 488,1301.1 489,1302.3 490,1301.6 491,1302.2 492,1298.9 493,1302.3 494,1302.6 495,1302.3 496,1301.8 497,1301.7 498,1301.9 499,1302.0 500,1301.8 501,1301.2 502,1301.0 503,1300.9 504,1301.7 505,1301.8 506,1301.8 507,1301.3 508,1300.5 509,1302.1 510,1302.0 511,1301.3 512,1299.4 513,1302.1 514,1301.2 515,1299.7 516,1301.3 517,1301.3 518,1301.8 519,1301.1 520,1300.7 521,1301.7 522,1301.8 523,1300.3 524,1300.7 525,1298.4 526,1301.3 527,1296.6 528,1298.5 529,1298.0 530,1298.1 531,1300.9 532,1300.3 533,1301.9 534,1299.6 535,1301.1 536,1301.9 537,1301.7 538,1298.8 539,1300.4 540,1301.6 541,1301.9 542,1302.1 543,1300.3 544,1302.6 545,1300.7 546,1301.9 547,1302.3 548,1301.8 549,1298.5 550,1302.6 551,1299.7 552,1302.2 553,1302.5 554,1302.0 555,1302.1 556,1301.2 557,1301.5 558,1302.4 559,1301.4 560,1302.3 561,1302.5 562,1302.2 563,1300.0 564,1302.8 565,1302.1 566,1301.3 567,1302.6 568,1302.7 569,1301.9 570,1302.2 571,1301.9 572,1302.3 573,1302.2 574,1301.6 575,1302.3 576,1302.0 577,1301.8 578,1302.1 579,1301.8 580,1301.1 581,1301.9 582,1302.2 583,1302.1 584,1302.4 585,1302.1 586,1301.6 587,1301.2 588,1302.6 589,1301.5 590,1302.6 591,1302.5 592,1302.5 593,1302.7 594,1302.3 595,1301.7 596,1302.2 597,1301.8 598,1301.5 599,1301.0 600,1300.7 601,1301.1 602,1299.4 603,1300.6 604,1300.9 605,1300.8 606,1300.4 607,1300.2 608,1299.0 609,1297.6 610,1299.1 611,1297.6 612,1297.5 613,1301.1 614,1294.2 615,1293.6 616,1293.2 617,1300.0 618,1289.0 619,1286.4 620,1282.4 621,1277.4 622,1270.0 623,1262.7 624,1258.7 625,1262.7 626,1270.3 627,1276.6 628,1282.6 629,1286.7 630,1289.1 631,1299.4 632,1293.3 633,1300.3 634,1295.9 635,1297.3 636,1298.1 637,1298.0 638,1301.6 639,1298.1 640,1300.3 641,1300.5 642,1301.2 643,1300.9 644,1301.5 645,1300.7 646,1301.5 647,1301.4 648,1301.3 649,1299.9 650,1301.1 651,1301.4 652,1302.0 653,1301.7 654,1301.6 655,1301.9 656,1300.9 657,1301.1 658,1300.8 659,1300.3 660,1301.5 661,1300.7 662,1299.5 663,1301.3 664,1300.7 665,1298.2 666,1301.3 667,1301.8 668,1301.4 669,1301.6 670,1299.8 671,1301.7 672,1302.0 673,1302.1 674,1302.5 675,1302.2 676,1300.4 677,1301.6 678,1301.8 679,1301.3 680,1301.9 681,1301.4 682,1301.7 683,1301.1 684,1301.9 685,1302.0 686,1301.4 687,1302.2 688,1301.8 689,1302.1 690,1302.2 691,1302.2 692,1301.1 693,1301.6 694,1300.9 695,1300.1 696,1301.3 697,1301.3 698,1301.4 699,1300.5 700,1297.0 701,1297.7 702,1301.7 703,1301.8 704,1294.4 705,1285.4 706,1266.5 707,1245.8 707.4,1243.1 708,1248.9 709,1270.8 710,1300.6 711,1296.4 712,1298.9 713,1298.9 714,1300.3 715,1300.8 716,1300.8 717,1301.3 718,1299.6 719,1301.4 720,1300.4 721,1302.1 722,1302.1 723,1301.7 724,1302.1 725,1300.6 726,1302.5 727,1300.8 728,1302.7 729,1301.9 730,1302.7 731,1302.3 732,1302.0 733,1302.2 734,1301.5 735,1302.4 736,1301.9 737,1302.0 738,1301.6 739,1301.9 740,1302.0 741,1302.6 742,1302.0 743,1302.7 744,1302.8 745,1302.6 746,1302.7 747,1302.8 748,1301.9 749,1302.1 750,1302.6 751,1301.6 752,1302.8 753,1302.3 754,1302.8 755,1302.6 756,1302.1 757,1301.9 758,1301.9 759,1301.9 760,1301.6 761,1301.8 762,1300.8 763,1298.7 764,1302.0 765,1297.5 766,1301.4 767,1301.2 768,1301.7 769,1301.2 770,1302.1 771,1301.7 772,1302.6 773,1302.7 774,1301.2 775,1301.4 776,1302.3 777,1302.0 778,1301.7 779,1302.1 780,1302.0 781,1302.2 782,1301.8 783,1302.1 784,1300.9 785,1301.7 786,1301.4 787,1301.4 788,1301.6 789,1300.6 790,1300.9 791,1300.2 792,1298.3 793,1295.8 794,1300.0 794.4,1293.5 795,1294.0 796,1301.9 797,1299.1 798,1297.8 799,1302.0 800,1302.5 801,1302.2 802,1300.3 803,1302.8 804,1301.7 805,1302.4 806,1303.0 807,1302.3 808,1302.0 809,1299.7 810,1302.8 811,1300.3 812,1302.1 813,1301.8 814,1302.6 815,1302.2 816,1301.7 817,1302.6 818,1302.4 819,1302.4 820,1302.8 821,1302.6 822,1302.6 823,1302.7 824,1301.8 825,1302.0 826,1302.2 827,1302.1 828,1301.8 829,1302.4 830,1302.5 831,1302.1 832,1302.5 833,1299.8 834,1301.9 835,1302.2 836,1301.6 837,1302.7 838,1299.0 839,1301.8 840,1301.8 841,1302.3 842,1299.7 843,1302.2 844,1301.7 845,1301.9 846,1302.4 847,1302.4 848,1301.9 849,1302.9 850,1301.6 851,1302.9 852,1302.7 853,1302.2 854,1302.6 855,1302.6 856,1302.8 857,1302.1 858,1302.4 859,1302.4 860,1302.1 861,1301.6 862,1301.9 863,1301.3 864,1300.9 865,1301.6 866,1300.6 867,1300.6 868,1300.6 869,1302.2 870,1301.5 871,1298.7 872,1298.5 873,1296.9 874,1296.9 875,1300.3 876,1295.4 876.8,1296.2 877,1301.9 878,1295.4 879,1296.0 880,1296.8 881,1297.7 882,1297.3 883,1295.3 884,1299.6 885,1300.4 886,1300.6 887,1300.8 888,1301.2 889,1300.7 890,1301.7 891,1302.0 892,1301.9 893,1302.0 894,1301.5 895,1300.0 896,1302.2 897,1302.4 898,1301.8 899,1300.1 900,1301.9 901,1302.9 902,1302.4 903,1301.0 904,1302.8 905,1302.8 906,1303.1 907,1302.7 908,1303.1 909,1302.0 910,1302.8 911,1302.4 912,1301.7 913,1300.5 914,1302.2 915,1302.5 916,1302.5 917,1302.5 918,1301.9 919,1302.0 920,1301.5 921,1299.9 922,1299.2 923,1299.2 924,1300.2 925,1301.5 926,1302.2 927,1302.0 928,1302.2 929,1302.3 930,1299.5 931,1301.7 932,1301.6 933,1302.1 934,1301.4 935,1301.3 936,1301.2 937,1300.8 938,1301.9 939,1300.7 940,1301.5 941,1301.4 942,1302.4 943,1302.0 944,1301.8 945,1302.6 946,1301.9 947,1302.9 948,1301.5 949,1303.0 950,1303.4 951,1303.3 952,1301.5 953,1303.1 954,1303.3 955,1302.7 956,1302.4 957,1302.7 958,1302.9 959,1302.4 960,1299.7 961,1302.9 962,1302.3 963,1301.7 964,1302.5 965,1301.8 966,1301.3 967,1301.5 968,1301.2 969,1297.9 970,1300.8 971,1300.1 972,1297.5 973,1298.4 974,1299.8 975,1301.0 976,1289.9 977,1275.8 978,1258.7 978.5,1256.0 979,1258.7 980,1275.8 981,1289.7 982,1296.2 983,1298.1 984,1299.6 985,1299.4 986,1299.6 987,1301.3 988,1301.3 989,1301.2 990,1301.5 991,1301.7 992,1300.9 993,1299.5 994,1299.7 995,1301.1 996,1301.4 997,1299.8 998,1297.9 999,1302.0 1000,1301.0 1001,1301.5 1002,1302.4 1003,1301.0 1004,1302.6 1005,1302.1 1006,1302.6 1007,1302.6 1008,1303.0 1009,1302.7 1010,1301.6 1011,1302.3 1012,1302.5 1013,1302.5 1014,1303.1 1015,1302.3 1016,1302.7 1017,1302.0 1018,1302.4 1019,1301.9 1020,1301.7 1021,1301.7 1022,1302.4 1023,1301.4 1024,1301.8 1025,1301.8 1026,1301.8 1027,1301.7 1028,1302.4 1029,1302.4 1030,1302.3 1031,1299.8 1032,1302.3 1033,1301.7 1034,1301.0 1035,1302.5 1036,1302.5 1037,1299.3 1038,1301.0 1039,1302.4 1040,1302.8 1041,1302.4 1042,1303.0 1043,1299.4 1044,1302.2 1045,1302.6 1046,1300.1 1047,1302.0 1048,1300.9 1049,1302.0 1050,1301.2 1051,1302.1 1052,1301.8 1053,1301.6 1054,1301.5 1055,1302.5 1056,1300.6 1057,1299.8 1058,1302.3 1059,1303.2 1060,1303.3 1061,1303.6 1062,1303.5 1063,1302.9 1064,1303.3 1065,1301.8 1066,1300.9 1067,1302.8 1068,1302.8 1069,1302.9 1070,1302.1 1071,1301.7 1072,1301.9 1073,1300.4 1074,1302.0 1075,1301.5 1076,1301.0 1077,1301.2 1078,1300.0 1079,1300.3 1080,1300.8 1081,1300.8 1082,1299.9 1083,1299.6 1084,1296.6 1085,1302.5 1086,1297.2 1087,1296.9 1088,1301.3 1089,1300.7 1090,1291.0 1091,1299.8 1092,1290.9 1093,1292.4 1094,1299.3 1095,1296.3 1096,1296.2 1097,1299.0 1098,1299.7 1099,1300.3 1100,1300.3 1101,1300.4 1102,1301.5 1103,1301.6 1104,1301.2 1105,1301.3 1106,1301.6 1107,1300.6 1108,1301.8 1109,1301.9 1110,1301.4 1111,1302.0 1112,1301.8 1113,1300.1 1114,1301.8 1115,1301.1 1116,1302.0 1117,1301.4 1118,1301.8 1119,1299.0 1120,1301.8 1121,1300.1 1122,1302.4 1123,1301.9 1124,1301.7 1125,1301.7 1126,1302.2 1127,1301.7 1128,1301.7 1129,1301.5 1130,1302.7 1131,1299.7 1132,1302.6 1133,1302.1 1134,1302.3 1135,1301.8 1136,1298.8 1137,1302.3 1138,1300.8 1139,1301.9 1140,1301.4 1141,1300.8 1142,1302.1 1143,1301.1 1144,1301.8 1145,1300.4 1146,1300.1 1147,1301.6 1148,1298.5 1149,1299.3 1150,1302.2 1151,1301.6 1152,1301.4 1153,1302.2 1154,1302.5 1155,1302.4 1156,1302.7 1157,1302.8 1158,1302.7 1159,1302.7 1160,1301.9 1161,1301.5 1162,1302.1 1163,1302.3 1164,1302.3 1165,1301.8 1166,1302.1 1167,1301.8 1168,1300.6 1169,1301.6 1170,1297.6 1171,1302.0 1172,1302.1 1173,1301.4 1174,1302.5 1175,1299.2 1176,1301.6 1177,1302.8 1178,1299.8 1179,1302.4 1180,1301.4 1181,1300.6 1182,1302.8 1183,1302.3 1184,1302.5 1185,1302.5 1186,1302.7 1187,1302.5 1188,1302.2 1189,1301.9 1190,1302.2 1191,1302.3 1192,1302.1 1193,1302.0 1194,1299.3 1195,1301.5 1196,1301.2 1197,1301.6 1198,1301.2 1199,1302.4 1200,1302.2 1201,1302.0 1202,1301.8 1203,1301.7 1204,1302.1 1205,1302.4 1206,1302.8 1207,1302.7 1208,1302.2 1209,1302.2 1210,1302.4 1211,1302.4 1212,1302.3 1213,1301.9 1214,1302.4 1215,1302.5 1216,1302.1 1217,1302.2 1218,1301.9 1219,1302.3 1220,1301.9 1221,1302.0 1222,1301.3 1223,1302.3 1224,1302.2 1225,1301.6 1226,1301.7 1227,1301.9 1228,1301.6 1229,1302.3 1230,1301.6 1231,1301.6 1232,1301.9 1233,1302.4 1234,1300.3 1235,1302.3 1236,1302.2 1237,1298.9 1238,1302.6 1239,1302.4 1240,1302.2 1241,1302.9 1242,1302.6 1243,1302.8 1244,1302.2 1245,1300.2 1246,1302.5 1247,1301.7 1248,1302.2 1249,1301.9 1250,1302.2 1251,1302.3 1252,1299.4 1253,1302.5 1254,1301.3 1255,1302.7 1256,1302.1 1257,1302.6 1258,1302.0 1259,1302.8 1260,1302.2 1261,1302.6 1262,1302.3 1263,1302.0 1264,1302.4 1265,1302.1 1266,1299.1 1267,1300.4 1268,1301.5 1269,1302.2 1270,1302.3 1271,1301.8 1272,1301.8 1273,1300.6 1274,1301.8 1275,1301.1 1276,1301.8 1277,1300.4 1278,1300.4 1279,1299.1 1280,1296.2 1281,1290.9 1282,1282.8 1283,1277.3 1283.1,1277.9 1284,1281.5 1285,1287.9 1286,1295.2 1287,1298.7 1288,1300.1 1289,1301.3 1290,1301.6 1291,1301.1 1292,1302.1 1293,1301.8 1294,1299.6 1295,1302.4 1296,1301.8 1297,1301.8 1298,1302.2 1299,1302.1 1300,1302.7 1301,1302.5 1302,1300.2 1303,1302.9 1304,1301.9 1305,1298.9 1306,1302.7 1307,1302.4 1308,1302.5 1309,1301.5 1310,1302.5 1311,1302.1 1312,1302.3 1313,1302.4 1314,1302.4 1315,1302.2 1316,1302.2 1317,1302.8 1318,1303.0 1319,1302.1 1320,1302.8 1321,1303.1 1322,1302.7 1323,1302.9 1324,1302.0 1325,1302.2 1326,1302.5 1327,1302.2 1328,1300.3 1329,1298.6 1330,1300.3 1331,1301.0 1332,1302.1 1333,1300.5 1334,1302.0 1335,1300.6 1336,1299.8 1337,1300.7 1338,1301.8 1339,1302.2 1340,1301.5 1341,1302.1 1342,1302.1 1343,1301.2 1344,1302.4 1345,1302.9 1346,1300.9 1347,1303.3 1348,1301.7 1349,1303.2 1350,1303.2 1351,1302.8 1352,1302.0 1353,1303.0 1354,1302.7 1355,1302.6 1356,1302.7 1357,1301.4 1358,1301.0 1359,1302.1 1360,1301.9 1361,1302.5 1362,1301.3 1363,1301.1 1364,1302.2 1365,1301.8 1366,1302.2 1367,1302.3 1368,1302.3 1369,1299.9 1370,1302.1 1371,1299.5 1372,1302.9 1373,1302.6 1374,1302.9 1375,1302.9 1376,1301.7 1377,1302.8 1378,1302.1 1379,1302.1 1380,1302.2 1381,1301.4 1382,1302.3 1383,1301.5 1384,1298.7 1385,1301.5 1386,1302.5 1387,1301.6 1388,1302.9 1389,1302.1 1390,1303.1 1391,1303.3 1392,1303.4 1393,1302.6 1394,1303.0 1395,1303.4 1396,1302.3 1397,1303.1 1398,1301.8 1399,1299.2 1400,1301.5 1401,1302.1 1402,1302.0 1403,1302.0 1404,1301.6 1405,1301.9 1406,1302.3 1407,1302.6 1408,1302.6 1409,1302.5 1410,1302.2 1411,1302.2 1412,1302.7 1413,1300.9 1414,1299.7 1415,1301.6 1416,1301.8 1417,1302.3 1418,1301.8 1419,1301.9 1420,1301.3 1421,1301.8 1422,1299.9 1423,1301.2 1424,1300.4 1425,1300.8 1426,1301.7 1427,1301.8 1428,1301.4 1429,1301.4 1430,1299.3 1431,1300.4 1432,1301.6 1433,1301.1 1434,1300.3 1435,1300.6 1436,1301.4 1437,1300.6 1438,1299.7 1439,1298.7 1440,1299.6 1441,1297.8 1442,1295.8 1443,1301.5 1444,1275.5 1445,1249.2 1446,1218.3 1446.4,1214.1 1447,1222.6 1448,1255.2 1449,1278.8 1450,1290.8 1451,1294.0 1452,1294.2 1453,1294.0 1454,1293.2 1454.5,1293.7 1455,1299.3 1456,1293.8 1457,1295.8 1458,1295.4 1459,1297.1 1460,1297.7 1461,1302.1 1462,1297.2 1463,1302.4 1464,1296.2 1465,1294.9 1466,1298.9 1467,1293.7 1468,1302.2 1469,1291.6 1470,1292.4 1470.4,1292.7 1471,1291.9 1472,1292.4 1473,1293.2 1474,1299.4 1475,1293.8 1476,1295.4 1477,1301.1 1478,1302.0 1479,1297.7 1480,1298.9 1481,1299.5 1482,1300.2 1483,1300.3 1484,1300.3 1485,1301.0 1486,1301.3 1487,1301.4 1488,1301.1 1489,1300.8 1490,1301.1 1491,1301.5 1492,1301.5 1493,1301.6 1494,1301.6 1495,1301.3 1496,1301.5 1497,1298.5 1498,1301.9 1499,1302.1 1500,1301.5 1501,1302.0 1502,1301.7 1503,1301.6 1504,1302.0 1505,1302.0 1506,1302.3 1507,1302.2 1508,1302.1 1509,1302.2 1510,1302.2 1511,1302.3 1512,1302.3 1513,1302.8 1514,1302.7 1515,1302.8 1516,1302.5 1517,1302.1 1518,1302.0 1519,1303.0 1520,1301.5 1521,1301.7 1522,1302.3 1523,1302.1 1524,1302.2 1525,1301.6 1526,1302.2 1527,1302.1 1528,1302.0 1529,1302.1 1530,1302.2 1531,1301.8 1532,1301.8 1533,1301.0 1534,1301.7 1535,1301.4 1536,1302.0 1537,1301.7 1538,1301.4 1539,1302.1 1540,1302.2 1541,1299.7 1542,1302.2 1543,1301.9 1544,1301.5 1545,1298.5 1546,1301.7 1547,1302.5 1548,1301.9 1549,1302.2 1550,1302.0 1551,1301.8 1552,1301.4 1553,1301.9 1554,1302.3 1555,1302.0 1556,1301.8 1557,1301.8 1558,1299.5 1559,1301.7 1560,1302.3 1561,1302.1 1562,1302.0 1563,1300.4 1564,1301.7 1565,1298.1 1566,1301.3 1567,1301.5 1568,1299.6 1569,1301.7 1570,1291.5 1571,1284.2 1571.7,1282.0 1572,1281.9 1573,1288.4 1574,1297.8 1575,1298.1 1576,1297.9 1577,1301.5 1578,1300.8 1579,1301.0 1580,1302.1 1581,1301.7 1582,1302.0 1583,1302.3 1584,1302.0 1585,1302.3 1586,1302.5 1587,1302.1 1588,1302.8 1589,1300.8 1590,1301.7 1591,1303.0 1592,1302.5 1593,1301.9 1594,1302.6 1595,1301.6 1596,1302.1 1597,1299.9 1598,1301.8 1599,1301.2 1600,1302.3 1601,1302.6 1602,1302.1 1603,1302.1 1604,1302.1 1605,1301.7 1606,1302.2 1607,1299.1 1608,1301.9 1609,1301.9 1610,1301.5 1611,1301.8 1612,1301.1 1613,1301.6 1614,1302.3 1615,1302.5 1616,1301.7 1617,1302.7 1618,1302.1 1619,1302.3 1620,1302.7 1621,1302.4 1622,1302.5 1623,1302.4 1624,1302.0 1625,1301.5 1626,1302.0 1627,1301.9 1628,1300.8 1629,1300.2 1630,1302.2 1631,1302.0 1632,1302.1 1633,1302.6 1634,1300.0 1635,1301.6 1636,1302.4 1637,1302.3 1638,1302.3 1639,1302.3 1640,1302.1 1641,1302.0 1642,1302.5 1643,1303.0 1644,1303.0 1645,1302.9 1646,1303.1 1647,1302.0 1648,1302.6 1649,1301.5 1650,1302.8 1651,1301.0 1652,1301.9 1653,1302.6 1654,1301.7 1655,1302.1 1656,1302.5 1657,1300.8 1658,1302.1 1659,1302.6 1660,1302.8 1661,1300.0 1662,1302.0 1663,1302.9 1664,1303.0 1665,1299.9 1666,1303.1 1667,1301.3 1668,1302.9 1669,1300.9 1670,1302.9 1671,1301.9 1672,1302.7 1673,1303.1 1674,1302.4 1675,1302.4 1676,1302.5 1677,1302.3 1678,1301.6 1679,1302.4 1680,1302.3 1681,1302.5 1682,1300.5 1683,1302.4 1684,1302.0 1685,1302.3 1686,1302.6 1687,1300.6 1688,1301.6 1689,1300.8 1690,1302.6 1691,1301.5 1692,1302.5 1693,1301.3 1694,1302.2 1695,1302.7 1696,1302.3 1697,1303.0 1698,1302.8 1699,1299.6 1700,1301.9 1701,1301.3 1702,1299.2 1703,1299.1 1704,1299.0 1705,1296.3 1706,1300.7 1707,1299.2 1708,1299.7 1709,1299.9 1710,1299.0 1711,1301.3 1712,1301.8 1713,1301.5 1714,1301.9 1715,1302.2 1716,1301.4 1717,1299.2 1718,1302.1 1719,1302.5 1720,1302.5 1721,1302.5 1722,1302.1 1723,1302.5 1724,1303.1 1725,1302.0 1726,1303.1 1727,1302.5 1728,1302.2 1729,1301.4 1730,1302.7 1731,1302.8 1732,1301.6 1733,1299.5 1734,1300.8 1735,1302.3 1736,1301.4 1737,1301.7 1738,1300.6 1739,1299.1 1740,1297.3 1741,1300.1 1742,1290.2 1743,1286.2 1744,1284.0 1744.2,1284.4 1745,1284.8 1746,1288.2 1747,1292.1 1748,1300.4 1749,1299.7 1750,1299.7 1751,1300.7 1752,1301.1 1753,1301.2 1754,1301.4 1755,1301.9 1756,1302.1 1757,1298.3 1758,1300.7 1759,1301.4 1760,1301.9 1761,1302.0 1762,1302.0 1763,1300.8 1764,1301.4 1765,1302.4 1766,1301.7 1767,1302.2 1768,1302.4 1769,1302.0 1770,1302.7 1771,1302.6 1772,1302.3 1773,1302.5 1774,1302.3 1775,1302.8 1776,1302.4 1777,1302.8 1778,1302.7 1779,1301.8 1780,1302.8 1781,1299.6 1782,1301.7 1783,1302.4 1784,1302.6 1785,1302.1 1786,1302.3 1787,1301.8 1788,1302.0 1789,1302.1 1790,1300.8 1791,1301.3 1792,1301.3 1793,1300.7 1794,1299.4 1795,1299.6 1796,1298.9 1797,1296.6 1798,1293.3 1799,1286.3 1800,1278.3 1801,1273.8 1802,1278.0 1803,1286.7 1804,1293.8 1805,1297.9 1806,1297.9 1807,1300.4 1808,1301.1 1809,1301.7 1810,1302.0 1811,1301.8 1812,1302.0 1813,1301.8 1814,1299.7 1815,1302.3 1816,1301.5 1817,1302.3 1818,1302.0 1819,1302.0 1820,1301.5 1821,1301.3 1822,1301.7 1823,1299.3 1824,1301.9 1825,1298.5 1826,1301.8 1827,1301.1 1828,1299.1 1829,1301.8 1830,1301.6 1831,1301.4 1832,1298.9 1833,1301.9 1834,1302.0 1835,1301.8 1836,1302.0 1837,1300.6 1838,1301.5 1839,1302.6 1840,1301.7 1841,1302.8 1842,1302.5 1843,1302.6 1844,1302.8 1845,1302.6 1846,1302.2 1847,1302.7 1848,1302.6 1849,1302.5 1850,1299.8 1851,1300.8 1852,1301.8 1853,1302.3 1854,1302.3 1855,1302.2 1856,1302.2 1857,1302.5 1858,1302.2 1859,1301.8 1860,1302.6 1861,1302.1 1862,1302.5 1863,1302.3 1864,1302.4 1865,1302.5 1866,1300.7 1867,1301.9 1868,1302.1 1869,1302.1 1870,1300.4 1871,1301.8 1872,1302.8 1873,1302.1 1874,1302.1 1875,1302.5 1876,1302.4 1877,1302.4 1878,1299.4 1879,1301.3 1880,1301.6 1881,1301.4 1882,1302.0 1883,1302.4 1884,1301.7 1885,1302.7 1886,1302.7 1887,1299.8 1888,1302.2 1889,1302.0 1890,1302.7 1891,1302.9 1892,1302.2 1893,1301.0 1894,1302.2 1895,1302.4 1896,1302.9 1897,1300.2 1898,1302.5 1899,1303.1 1900,1301.9 1901,1302.0 1902,1302.2 1903,1302.6 1904,1302.2 1905,1302.2 1906,1302.0 1907,1301.1 1908,1302.3 1909,1301.9 1910,1301.7 1911,1302.4 1912,1301.8 1913,1301.7 1914,1301.1 1915,1301.5 1916,1302.8 1917,1300.9 1918,1302.3 1919,1298.4 1920,1301.7 1921,1302.6 1922,1301.8 1923,1301.5 1924,1301.7 1925,1302.7 1926,1302.5 1927,1301.7 1928,1301.8 1929,1298.5 1930,1301.7 1931,1301.5 1932,1301.5 1933,1301.1 1934,1301.2 1935,1301.5 1936,1300.8 1937,1301.5 1938,1301.8 1939,1300.4 1940,1301.1 1941,1301.6 1942,1301.4 1943,1301.9 1944,1302.0 1945,1301.4 1946,1302.0 1947,1302.2 1948,1302.1 1949,1301.3 1950,1302.1 1951,1301.9 1952,1301.6 1953,1301.2 1954,1302.1 1955,1302.5 1956,1301.8 1957,1300.7 1958,1302.6 1959,1302.1 1960,1302.3 1961,1302.4 1962,1302.2 1963,1302.3 1964,1302.0 1965,1300.6 1966,1302.3 1967,1302.3 1968,1302.0 1969,1300.6 1970,1301.1 1971,1301.9 1972,1302.7 1973,1300.8 1974,1302.5 1975,1302.5 1976,1302.4 1977,1302.1 1978,1302.0 1979,1301.2 1980,1302.3 1981,1300.7 1982,1302.7 1983,1302.1 1984,1303.1 1985,1302.7 1986,1300.6 1987,1302.9 1988,1303.2 1989,1303.1 1990,1302.3 1991,1300.7 1992,1302.7 1993,1299.7 1994,1302.6 1995,1301.2 1996,1302.7 1997,1302.1 1998,1302.2 1999,1302.5 2000,1302.2 2001,1302.3 2002,1301.5 2003,1302.3 2004,1302.0 2005,1302.0 2006,1301.8 2007,1302.4 2008,1301.5 2009,1301.7 2010,1301.8 2011,1302.0 2012,1301.8 2013,1302.1 2014,1301.9 2015,1302.4 2016,1300.5 2017,1301.5 2018,1302.5 2019,1302.8 2020,1302.9 2021,1301.8 2022,1303.0 2023,1303.0 2024,1302.7 2025,1302.7 2026,1302.2 2027,1302.3 2028,1302.5 2029,1299.8 2030,1302.2 2031,1301.1 2032,1301.7 2033,1301.3 2034,1301.6 2035,1302.1 2036,1301.6 2037,1302.2 2038,1302.0 2039,1302.4 2040,1302.1 2041,1302.5 2042,1302.1 2043,1299.8 2044,1301.7 2045,1302.1 2046,1301.9 2047,1301.3 2048,1301.7 2049,1301.4 2050,1301.3 2051,1301.8 2052,1301.8 2053,1300.5 2054,1300.7 2055,1302.2 2056,1302.1 2057,1301.9 2058,1301.5 2059,1301.2 2060,1302.3 2061,1302.3 2062,1301.8 2063,1301.9 2064,1302.5 2065,1302.2 2066,1301.8 2067,1302.7 2068,1302.7 2069,1302.1 2070,1301.8 2071,1300.8 2072,1302.1 2073,1301.5 2074,1302.7 2075,1302.6 2076,1301.1 2077,1302.2 2078,1299.1 2079,1301.1 2080,1300.8 2081,1302.4 2082,1297.7 2083,1291.5 2084,1285.2 2085,1268.1 2086,1250.0 2086.4,1247.8 2087,1252.6 2088,1271.8 2089,1287.2 2090,1295.5 2091,1298.2 2092,1299.8 2093,1300.1 2094,1302.4 2095,1299.4 2096,1301.6 2097,1301.4 2098,1286.2 2098.9,1283.4 2099,1283.1 2100,1287.9 2101,1294.5 2102,1298.1 2103,1301.0 2104,1300.0 2105,1300.2 2106,1299.9 2107,1299.7 2108,1299.7 2109,1299.1 2110,1298.4 2111,1297.6 2112,1295.1 2113,1300.8 2114,1298.6 2115,1299.4 2116,1299.6 2117,1301.3 2118,1301.2 2119,1301.5 2120,1301.2 2121,1300.8 2122,1301.6 2123,1300.2 2124,1301.6 2125,1301.1 2126,1300.8 2127,1301.2 2128,1300.7 2129,1302.1 2130,1301.7 2131,1302.1 2132,1302.0 2133,1302.8 2134,1302.7 2135,1302.0 2136,1302.2 2137,1301.3 2138,1302.1 2139,1301.7 2140,1302.2 2141,1302.2 2142,1301.8 2143,1301.5 2144,1299.9 2145,1302.3 2146,1302.2 2147,1302.3 2148,1302.0 2149,1301.6 2150,1301.7 2151,1301.3 2152,1302.5 2153,1302.8 2154,1302.6 2155,1299.4 2156,1302.6 2157,1303.0 2158,1302.7 2159,1303.1 2160,1302.9 2161,1298.9 2162,1301.4 2163,1301.9 2164,1301.1 2165,1298.4 2166,1300.9 2167,1301.4 2168,1301.1 2169,1301.4 2170,1301.6 2171,1301.8 2172,1302.2 2173,1299.5 2174,1302.9 2175,1302.8 2176,1303.3 2177,1303.1 2178,1302.1 2179,1302.1 2180,1302.1" fill="none" stroke="#ff0000" stroke-width="9.3" stroke-linejoin="round" stroke-linecap="butt"/>
<path d="M196,1171.8 197,1171.8 198,1171.8 199,1171.8 200,1171.8 201,1171.8 202,1171.8 203,1171.8 204,1171.8 205,1171.3 206,1171.6 207,1171.6 208,1170.2 209,1171.5 210,1171.5 211,1171.4 212,1170.1 213,1171.2 214,1170.7 215,1170.9 216,1171.5 217,1171.7 218,1171.7 219,1171.8 220,1172.2 221,1170.1 222,1172.3 223,1172.5 224,1169.8 225,1172.2 226,1171.1 227,1172.6 228,1171.4 229,1172.2 230,1169.4 231,1172.1 232,1172.4 233,1172.1 234,1171.9 235,1172.3 236,1171.8 237,1172.2 238,1171.7 239,1171.5 240,1171.9 241,1171.4 242,1171.4 243,1172.1 244,1171.5 245,1171.8 246,1171.6 247,1170.9 248,1171.9 249,1171.9 250,1171.9 251,1172.1 252,1172.1 253,1171.9 254,1171.3 255,1171.4 256,1171.5 257,1171.2 258,1170.5 259,1170.9 260,1171.0 261,1169.0 262,1168.5 263,1167.1 264,1165.3 265,1169.7 266,1171.3 267,1171.7 268,1172.0 269,1172.2 270,1172.0 271,1172.2 272,1171.6 273,1171.9 274,1171.9 275,1171.7 276,1170.6 277,1171.8 278,1171.5 279,1170.3 280,1172.1 281,1171.5 282,1172.4 283,1169.0 284,1171.6 285,1172.8 286,1172.5 287,1172.9 288,1172.2 289,1172.9 290,1172.9 291,1172.9 292,1172.5 293,1173.0 294,1173.3 295,1172.3 296,1172.2 297,1172.9 298,1172.4 299,1171.1 300,1168.4 301,1160.9 302,1156.8 302.2,1156.7 303,1159.1 304,1165.8 305,1169.4 306,1170.9 307,1171.4 308,1171.6 309,1171.3 310,1171.4 311,1171.9 312,1171.8 313,1168.2 314,1171.6 315,1171.5 316,1171.7 317,1171.0 318,1171.9 319,1168.4 320,1172.2 321,1171.4 322,1170.5 323,1171.8 324,1171.8 325,1170.4 326,1171.8 327,1170.7 328,1171.1 329,1170.4 330,1171.6 331,1172.0 332,1170.4 333,1171.0 334,1171.8 335,1168.5 336,1171.9 337,1171.8 338,1171.5 339,1171.5 340,1172.0 341,1170.8 342,1171.5 343,1171.2 344,1171.4 345,1168.7 346,1171.7 347,1171.8 348,1172.5 349,1172.6 350,1172.1 351,1172.6 352,1171.9 353,1171.4 354,1172.4 355,1172.3 356,1172.0 357,1171.7 358,1171.3 359,1171.5 360,1171.4 361,1171.8 362,1172.2 363,1172.3 364,1171.8 365,1171.9 366,1172.5 367,1171.1 368,1171.6 369,1171.6 370,1171.7 371,1171.5 372,1171.3 373,1171.7 374,1171.6 375,1171.4 376,1171.6 377,1170.7 378,1171.4 379,1170.8 380,1171.6 381,1169.7 382,1171.0 383,1171.2 384,1171.3 385,1171.1 386,1170.4 387,1169.3 388,1165.4 389,1158.6 390,1150.9 390.5,1149.7 391,1150.9 392,1158.3 393,1164.7 394,1171.1 395,1167.9 396,1170.5 397,1170.9 398,1171.6 399,1171.6 400,1171.6 401,1172.5 402,1169.5 403,1172.2 404,1172.4 405,1172.3 406,1172.5 407,1169.2 408,1172.6 409,1172.3 410,1172.5 411,1170.7 412,1171.4 413,1172.1 414,1171.6 415,1171.6 416,1172.0 417,1172.1 418,1169.8 419,1172.0 420,1171.3 421,1172.0 422,1170.9 423,1171.7 424,1172.0 425,1172.0 426,1171.6 427,1171.6 428,1172.1 429,1172.2 430,1172.3 431,1172.0 432,1168.5 433,1172.3 434,1171.8 435,1172.1 436,1172.3 437,1169.0 438,1172.5 439,1172.4 440,1170.9 441,1172.0 442,1172.2 443,1172.0 444,1172.0 445,1171.1 446,1171.5 447,1170.8 448,1170.8 449,1171.0 450,1170.8 451,1171.0 452,1171.0 453,1171.7 454,1171.6 455,1170.4 456,1171.9 457,1171.3 458,1171.9 459,1171.6 460,1171.4 461,1170.7 462,1171.8 463,1171.7 464,1171.1 465,1171.4 466,1171.8 467,1171.1 468,1168.8 469,1172.0 470,1170.9 471,1171.7 472,1172.2 473,1171.6 474,1172.2 475,1171.5 476,1171.6 477,1171.7 478,1171.5 479,1172.3 480,1170.9 481,1171.7 482,1171.9 483,1171.8 484,1170.7 485,1171.4 486,1170.4 487,1171.8 488,1172.0 489,1171.9 490,1171.3 491,1171.1 492,1171.5 493,1170.6 494,1171.2 495,1171.2 496,1171.2 497,1171.3 498,1171.1 499,1169.1 500,1170.9 501,1171.4 502,1167.8 503,1171.5 504,1171.4 505,1170.8 506,1170.2 507,1171.9 508,1172.1 509,1170.8 510,1172.2 511,1171.9 512,1172.3 513,1172.5 514,1171.6 515,1172.3 516,1171.9 517,1171.3 518,1171.8 519,1172.3 520,1171.9 521,1172.0 522,1172.3 523,1172.3 524,1171.2 525,1172.1 526,1172.4 527,1172.5 528,1171.7 529,1172.5 530,1172.1 531,1172.6 532,1172.6 533,1172.4 534,1172.4 535,1171.9 536,1172.1 537,1170.0 538,1172.5 539,1172.0 540,1172.1 541,1171.9 542,1171.6 543,1169.1 544,1172.0 545,1171.5 546,1171.6 547,1171.4 548,1171.9 549,1170.3 550,1171.6 551,1171.7 552,1172.0 553,1172.0 554,1171.0 555,1171.7 556,1171.8 557,1172.1 558,1171.8 559,1172.0 560,1171.1 561,1172.2 562,1171.5 563,1171.8 564,1168.9 565,1171.5 566,1170.4 567,1171.4 568,1171.1 569,1170.5 570,1171.0 571,1171.5 572,1171.1 573,1171.6 574,1167.8 575,1170.9 576,1170.5 577,1170.3 578,1171.5 579,1170.4 580,1170.8 581,1170.6 582,1170.7 583,1170.9 584,1170.8 585,1170.9 586,1170.9 587,1171.4 588,1168.8 589,1171.5 590,1171.4 591,1171.9 592,1171.3 593,1168.6 594,1171.2 595,1171.7 596,1169.1 597,1171.4 598,1170.9 599,1169.1 600,1170.5 601,1170.5 602,1170.3 603,1169.9 604,1170.2 605,1169.9 606,1169.1 607,1168.4 608,1168.8 609,1167.6 610,1167.8 611,1167.2 612,1166.4 613,1164.2 614,1163.9 615,1169.6 616,1169.8 617,1169.1 618,1155.4 619,1151.1 620,1146.3 621,1138.5 622,1127.8 623,1116.8 623.6,1114.5 624,1115.4 625,1125.4 626,1136.6 627,1144.8 628,1149.9 629,1154.7 630,1171.2 631,1168.8 632,1171.5 633,1171.0 634,1165.3 635,1171.3 636,1167.1 637,1171.7 638,1169.3 639,1166.8 640,1167.1 641,1172.2 642,1170.6 643,1170.7 644,1170.9 645,1169.3 646,1171.3 647,1171.3 648,1171.8 649,1167.6 650,1171.6 651,1172.1 652,1171.5 653,1172.1 654,1171.3 655,1171.8 656,1171.6 657,1172.0 658,1171.4 659,1172.2 660,1171.8 661,1170.5 662,1171.9 663,1171.6 664,1171.7 665,1171.4 666,1171.8 667,1171.9 668,1171.9 669,1172.0 670,1171.9 671,1169.5 672,1172.0 673,1171.3 674,1171.7 675,1171.8 676,1172.1 677,1172.1 678,1171.8 679,1171.6 680,1171.5 681,1171.3 682,1170.9 683,1171.4 684,1170.1 685,1170.7 686,1168.1 687,1171.0 688,1171.4 689,1170.6 690,1171.2 691,1171.1 692,1171.3 693,1169.7 694,1170.8 695,1171.1 696,1170.7 697,1169.0 698,1169.1 699,1169.9 700,1168.6 701,1169.0 702,1167.9 703,1166.7 704,1164.1 705,1153.8 706,1128.0 707,1094.8 707.4,1090.2 708,1100.2 709,1134.9 710,1157.2 711,1164.9 712,1171.8 713,1169.2 714,1169.9 715,1169.7 716,1169.2 717,1171.4 718,1171.4 719,1168.0 720,1171.7 721,1170.5 722,1171.9 723,1171.5 724,1171.6 725,1171.8 726,1170.9 727,1171.6 728,1171.2 729,1171.6 730,1171.4 731,1172.0 732,1171.3 733,1171.9 734,1171.9 735,1171.0 736,1171.5 737,1169.4 738,1170.9 739,1172.0 740,1171.6 741,1172.4 742,1172.2 743,1169.9 744,1170.9 745,1172.1 746,1172.5 747,1172.5 748,1172.0 749,1171.9 750,1171.9 751,1171.5 752,1171.4 753,1172.1 754,1171.8 755,1171.2 756,1171.3 757,1171.8 758,1171.5 759,1171.3 760,1171.1 761,1171.4 762,1169.7 763,1169.5 764,1167.0 765,1170.2 766,1169.4 767,1170.8 768,1171.5 769,1171.4 770,1171.4 771,1170.1 772,1170.9 773,1171.4 774,1171.5 775,1171.7 776,1169.5 777,1171.9 778,1172.1 779,1172.2 780,1172.1 781,1171.1 782,1168.9 783,1171.5 784,1170.1 785,1171.5 786,1172.4 787,1172.3 788,1171.2 789,1171.6 790,1171.3 791,1170.4 792,1167.8 793,1162.5 794,1157.3 794.4,1156.7 795,1168.4 796,1170.9 797,1168.4 798,1170.1 799,1170.4 800,1171.0 801,1172.1 802,1172.0 803,1172.2 804,1170.9 805,1171.4 806,1172.1 807,1171.5 808,1171.5 809,1171.0 810,1171.5 811,1171.1 812,1172.1 813,1171.7 814,1172.5 815,1172.3 816,1172.7 817,1172.3 818,1170.7 819,1168.9 820,1172.5 821,1172.1 822,1172.2 823,1172.0 824,1172.2 825,1171.8 826,1171.7 827,1172.3 828,1171.3 829,1170.9 830,1172.3 831,1170.7 832,1171.7 833,1171.6 834,1172.2 835,1171.9 836,1172.5 837,1172.4 838,1171.2 839,1172.6 840,1172.2 841,1171.3 842,1171.7 843,1171.3 844,1172.2 845,1170.5 846,1171.7 847,1171.9 848,1172.1 849,1169.5 850,1172.2 851,1172.6 852,1172.6 853,1172.4 854,1171.3 855,1172.2 856,1172.5 857,1172.1 858,1171.8 859,1169.9 860,1171.4 861,1171.1 862,1170.7 863,1170.9 864,1170.7 865,1170.2 866,1170.7 867,1168.6 868,1168.1 869,1167.2 870,1171.7 871,1164.3 872,1162.3 873,1161.5 874,1161.3 875,1160.9 875.4,1161.2 876,1170.9 877,1168.5 878,1170.9 879,1163.7 880,1165.5 881,1164.6 882,1167.9 883,1171.2 884,1170.1 885,1170.6 886,1171.5 887,1171.9 888,1172.2 889,1171.8 890,1172.3 891,1172.4 892,1171.8 893,1172.0 894,1171.4 895,1171.5 896,1171.6 897,1171.8 898,1171.7 899,1170.4 900,1171.6 901,1171.7 902,1171.5 903,1171.2 904,1171.6 905,1172.0 906,1171.9 907,1172.1 908,1172.1 909,1171.9 910,1172.2 911,1171.6 912,1172.1 913,1171.7 914,1172.2 915,1170.7 916,1171.4 917,1171.4 918,1171.5 919,1172.1 920,1171.1 921,1170.8 922,1169.4 923,1169.0 924,1169.8 925,1171.3 926,1171.8 927,1172.6 928,1172.7 929,1172.5 930,1172.2 931,1172.2 932,1169.3 933,1171.3 934,1171.9 935,1171.6 936,1171.9 937,1171.8 938,1172.2 939,1172.2 940,1172.3 941,1171.8 942,1172.1 943,1172.0 944,1170.2 945,1169.9 946,1172.7 947,1172.1 948,1171.9 949,1172.4 950,1172.1 951,1172.7 952,1172.7 953,1171.0 954,1171.8 955,1169.6 956,1170.0 957,1171.6 958,1172.6 959,1172.6 960,1172.2 961,1172.6 962,1172.3 963,1172.4 964,1171.8 965,1171.9 966,1171.1 967,1171.8 968,1171.2 969,1170.9 970,1171.2 971,1170.4 972,1168.7 973,1169.9 974,1169.1 975,1168.0 976,1163.3 977,1150.2 978,1126.5 979,1109.1 980,1126.2 981,1150.5 982,1163.2 983,1167.3 984,1169.6 985,1171.7 986,1170.8 987,1170.4 988,1171.0 989,1170.5 990,1169.3 991,1171.5 992,1170.9 993,1170.7 994,1170.2 995,1171.2 996,1170.6 997,1170.4 998,1169.2 999,1171.1 1000,1171.2 1001,1170.3 1002,1170.4 1003,1171.0 1004,1170.2 1005,1171.6 1006,1171.6 1007,1171.5 1008,1169.2 1009,1172.0 1010,1171.0 1011,1171.8 1012,1172.3 1013,1170.7 1014,1171.3 1015,1172.0 1016,1172.3 1017,1172.2 1018,1172.2 1019,1172.2 1020,1171.8 1021,1172.1 1022,1172.2 1023,1172.2 1024,1172.1 1025,1171.6 1026,1172.0 1027,1171.6 1028,1171.3 1029,1170.9 1030,1171.7 1031,1171.5 1032,1172.0 1033,1171.6 1034,1171.1 1035,1170.8 1036,1171.8 1037,1171.2 1038,1171.4 1039,1171.5 1040,1170.7 1041,1171.2 1042,1170.5 1043,1170.4 1044,1169.9 1045,1171.0 1046,1171.2 1047,1171.3 1048,1171.1 1049,1171.2 1050,1171.1 1051,1169.8 1052,1171.5 1053,1171.5 1054,1171.3 1055,1171.8 1056,1172.2 1057,1172.2 1058,1171.8 1059,1172.7 1060,1171.9 1061,1172.2 1062,1172.0 1063,1171.6 1064,1171.0 1065,1172.1 1066,1171.9 1067,1171.4 1068,1171.0 1069,1171.0 1070,1171.5 1071,1171.5 1072,1171.2 1073,1171.3 1074,1171.3 1075,1171.4 1076,1171.5 1077,1170.4 1078,1170.6 1079,1169.3 1080,1170.4 1081,1170.3 1082,1169.7 1083,1169.5 1084,1171.2 1085,1167.7 1086,1165.3 1087,1164.1 1088,1162.9 1089,1161.5 1090,1160.2 1091,1159.6 1092,1159.8 1093,1161.6 1094,1163.2 1095,1164.4 1096,1166.7 1097,1168.3 1098,1171.8 1099,1168.5 1100,1170.0 1101,1170.0 1102,1169.5 1103,1170.1 1104,1170.5 1105,1169.9 1106,1169.4 1107,1170.4 1108,1171.0 1109,1169.5 1110,1170.6 1111,1171.4 1112,1171.8 1113,1171.9 1114,1170.9 1115,1171.6 1116,1171.8 1117,1171.0 1118,1171.4 1119,1171.4 1120,1170.5 1121,1172.3 1122,1171.4 1123,1171.9 1124,1171.3 1125,1169.1 1126,1172.2 1127,1171.1 1128,1172.0 1129,1171.6 1130,1170.6 1131,1171.1 1132,1169.1 1133,1171.4 1134,1171.6 1135,1171.8 1136,1171.9 1137,1171.4 1138,1171.5 1139,1172.0 1140,1171.7 1141,1172.2 1142,1170.1 1143,1171.6 1144,1170.8 1145,1171.5 1146,1171.9 1147,1172.0 1148,1172.5 1149,1172.2 1150,1171.7 1151,1171.6 1152,1172.1 1153,1171.1 1154,1171.8 1155,1172.1 1156,1171.5 1157,1170.7 1158,1170.7 1159,1170.6 1160,1171.6 1161,1171.7 1162,1170.1 1163,1171.2 1164,1169.8 1165,1171.6 1166,1170.1 1167,1171.5 1168,1171.3 1169,1170.7 1170,1171.5 1171,1171.2 1172,1172.0 1173,1172.1 1174,1172.0 1175,1172.3 1176,1171.3 1177,1169.2 1178,1172.1 1179,1170.5 1180,1172.0 1181,1171.9 1182,1171.5 1183,1171.4 1184,1171.3 1185,1171.4 1186,1170.9 1187,1171.0 1188,1171.3 1189,1170.8 1190,1171.5 1191,1171.6 1192,1171.7 1193,1171.8 1194,1172.1 1195,1172.2 1196,1172.0 1197,1172.0 1198,1171.1 1199,1171.9 1200,1168.1 1201,1171.7 1202,1171.3 1203,1171.7 1204,1171.6 1205,1171.7 1206,1171.5 1207,1170.6 1208,1171.6 1209,1171.1 1210,1170.8 1211,1171.6 1212,1171.5 1213,1171.7 1214,1171.1 1215,1171.4 1216,1171.9 1217,1172.1 1218,1171.9 1219,1168.6 1220,1169.5 1221,1172.3 1222,1172.4 1223,1172.4 1224,1172.0 1225,1172.6 1226,1172.4 1227,1172.6 1228,1172.9 1229,1172.2 1230,1172.8 1231,1172.8 1232,1171.7 1233,1172.5 1234,1172.5 1235,1171.9 1236,1172.4 1237,1172.2 1238,1171.6 1239,1171.7 1240,1172.3 1241,1172.4 1242,1172.1 1243,1172.1 1244,1170.8 1245,1171.0 1246,1172.3 1247,1171.9 1248,1170.9 1249,1172.4 1250,1171.6 1251,1172.3 1252,1171.3 1253,1172.2 1254,1172.2 1255,1172.1 1256,1171.9 1257,1172.0 1258,1171.2 1259,1172.1 1260,1171.9 1261,1169.9 1262,1171.8 1263,1168.5 1264,1171.6 1265,1171.2 1266,1171.8 1267,1171.1 1268,1171.6 1269,1170.3 1270,1171.5 1271,1170.9 1272,1170.8 1273,1169.6 1274,1168.9 1275,1170.2 1276,1170.3 1277,1169.3 1278,1168.4 1279,1166.4 1280,1161.0 1281,1149.2 1282,1133.0 1282.7,1128.0 1283,1128.8 1284,1142.6 1285,1166.7 1286,1170.7 1287,1167.6 1288,1171.7 1289,1169.7 1290,1170.3 1291,1171.1 1292,1170.4 1293,1170.4 1294,1171.2 1295,1169.0 1296,1171.4 1297,1171.9 1298,1168.0 1299,1171.6 1300,1171.6 1301,1171.8 1302,1172.0 1303,1172.2 1304,1171.4 1305,1170.5 1306,1172.1 1307,1171.3 1308,1170.5 1309,1171.2 1310,1171.5 1311,1171.6 1312,1171.6 1313,1171.4 1314,1170.6 1315,1171.2 1316,1171.2 1317,1171.9 1318,1171.9 1319,1172.0 1320,1172.4 1321,1172.4 1322,1172.5 1323,1172.3 1324,1172.4 1325,1172.8 1326,1172.6 1327,1172.5 1328,1173.0 1329,1171.9 1330,1173.1 1331,1172.5 1332,1172.3 1333,1171.7 1334,1172.4 1335,1171.1 1336,1171.7 1337,1171.8 1338,1172.4 1339,1171.7 1340,1172.0 1341,1172.3 1342,1171.7 1343,1172.6 1344,1172.7 1345,1172.6 1346,1172.5 1347,1172.5 1348,1169.7 1349,1169.8 1350,1171.8 1351,1172.1 1352,1172.1 1353,1172.1 1354,1172.1 1355,1171.2 1356,1172.2 1357,1169.8 1358,1171.4 1359,1170.0 1360,1171.1 1361,1170.7 1362,1170.6 1363,1171.2 1364,1171.0 1365,1170.8 1366,1171.4 1367,1171.5 1368,1171.4 1369,1171.0 1370,1171.5 1371,1171.4 1372,1171.2 1373,1171.1 1374,1171.7 1375,1171.1 1376,1171.5 1377,1170.2 1378,1171.5 1379,1171.6 1380,1171.6 1381,1171.2 1382,1169.8 1383,1170.7 1384,1171.6 1385,1171.3 1386,1171.4 1387,1171.5 1388,1168.2 1389,1171.6 1390,1171.4 1391,1171.6 1392,1168.7 1393,1171.2 1394,1171.2 1395,1171.7 1396,1169.0 1397,1171.5 1398,1171.6 1399,1170.0 1400,1170.9 1401,1170.9 1402,1171.5 1403,1171.0 1404,1169.9 1405,1171.4 1406,1170.3 1407,1170.9 1408,1172.1 1409,1172.0 1410,1171.7 1411,1171.7 1412,1170.7 1413,1171.8 1414,1171.7 1415,1171.7 1416,1172.0 1417,1171.4 1418,1171.6 1419,1171.9 1420,1171.2 1421,1171.1 1422,1170.5 1423,1171.5 1424,1171.8 1425,1170.1 1426,1171.2 1427,1171.8 1428,1171.1 1429,1170.6 1430,1171.7 1431,1171.7 1432,1170.5 1433,1171.4 1434,1167.8 1435,1171.0 1436,1169.4 1437,1170.4 1438,1171.6 1439,1169.4 1440,1171.4 1441,1167.3 1442,1164.0 1443,1160.3 1444,1145.1 1445,1107.5 1446,1058.3 1446.4,1051.7 1447,1066.1 1448,1116.3 1449,1146.6 1450,1169.8 1451,1159.7 1452,1158.1 1453,1155.6 1454,1154.0 1454.5,1153.7 1455,1154.0 1456,1156.3 1457,1170.9 1458,1162.9 1459,1165.3 1460,1172.0 1461,1164.8 1462,1171.0 1463,1164.9 1464,1163.4 1465,1162.1 1466,1161.3 1467,1170.5 1468,1159.2 1469,1158.3 1470,1157.4 1470.4,1158.1 1471,1158.2 1472,1158.5 1473,1159.6 1474,1160.5 1475,1161.9 1476,1163.2 1477,1171.7 1478,1171.1 1479,1169.6 1480,1168.0 1481,1169.0 1482,1169.2 1483,1169.5 1484,1170.2 1485,1170.3 1486,1170.6 1487,1168.0 1488,1170.6 1489,1172.0 1490,1170.9 1491,1170.7 1492,1172.1 1493,1171.9 1494,1171.9 1495,1171.7 1496,1171.8 1497,1169.5 1498,1171.4 1499,1171.4 1500,1171.7 1501,1171.1 1502,1170.8 1503,1168.3 1504,1170.1 1505,1168.3 1506,1167.1 1507,1167.5 1508,1166.6 1509,1165.1 1510,1168.1 1511,1169.4 1512,1169.7 1513,1170.2 1514,1170.8 1515,1170.7 1516,1169.5 1517,1170.9 1518,1171.5 1519,1170.1 1520,1169.0 1521,1170.6 1522,1170.9 1523,1171.4 1524,1171.7 1525,1171.3 1526,1171.2 1527,1171.9 1528,1170.2 1529,1171.1 1530,1170.8 1531,1171.6 1532,1172.1 1533,1171.6 1534,1171.4 1535,1170.0 1536,1172.1 1537,1171.2 1538,1171.3 1539,1172.0 1540,1171.6 1541,1171.9 1542,1172.2 1543,1171.5 1544,1172.3 1545,1172.2 1546,1172.6 1547,1172.2 1548,1171.7 1549,1172.5 1550,1172.3 1551,1171.4 1552,1172.2 1553,1171.7 1554,1172.5 1555,1172.1 1556,1172.5 1557,1171.7 1558,1171.9 1559,1170.9 1560,1171.5 1561,1171.7 1562,1168.8 1563,1171.5 1564,1171.3 1565,1170.1 1566,1170.6 1567,1170.2 1568,1171.3 1569,1164.0 1570,1154.0 1571,1141.2 1571.7,1137.2 1572,1137.8 1573,1148.8 1574,1169.2 1575,1166.9 1576,1172.0 1577,1167.8 1578,1171.2 1579,1170.5 1580,1171.3 1581,1171.4 1582,1171.7 1583,1171.6 1584,1171.6 1585,1170.3 1586,1171.4 1587,1171.0 1588,1171.2 1589,1171.8 1590,1171.1 1591,1171.5 1592,1171.3 1593,1171.4 1594,1171.7 1595,1171.3 1596,1171.9 1597,1170.9 1598,1171.0 1599,1172.0 1600,1171.9 1601,1171.7 1602,1170.7 1603,1172.2 1604,1170.7 1605,1171.7 1606,1170.5 1607,1171.4 1608,1171.8 1609,1172.0 1610,1171.5 1611,1171.1 1612,1171.4 1613,1172.0 1614,1172.0 1615,1171.2 1616,1171.3 1617,1171.9 1618,1171.7 1619,1171.4 1620,1171.6 1621,1171.3 1622,1171.8 1623,1170.9 1624,1171.5 1625,1171.0 1626,1171.1 1627,1171.6 1628,1170.8 1629,1171.6 1630,1171.4 1631,1170.0 1632,1170.4 1633,1172.0 1634,1171.4 1635,1172.2 1636,1171.4 1637,1171.9 1638,1171.4 1639,1171.8 1640,1172.2 1641,1171.9 1642,1171.8 1643,1170.8 1644,1169.7 1645,1172.4 1646,1171.7 1647,1172.1 1648,1172.4 1649,1171.7 1650,1171.4 1651,1171.7 1652,1168.2 1653,1171.8 1654,1170.9 1655,1171.4 1656,1171.5 1657,1171.4 1658,1169.2 1659,1170.9 1660,1171.8 1661,1171.8 1662,1171.9 1663,1170.7 1664,1171.3 1665,1171.7 1666,1172.1 1667,1172.0 1668,1172.0 1669,1172.4 1670,1169.0 1671,1172.2 1672,1172.5 1673,1172.2 1674,1172.3 1675,1172.4 1676,1171.7 1677,1171.3 1678,1171.0 1679,1170.1 1680,1171.3 1681,1169.8 1682,1171.2 1683,1170.7 1684,1170.8 1685,1171.4 1686,1171.0 1687,1171.6 1688,1171.8 1689,1171.4 1690,1170.5 1691,1168.5 1692,1171.3 1693,1171.1 1694,1171.3 1695,1171.9 1696,1171.8 1697,1171.4 1698,1170.9 1699,1169.6 1700,1169.1 1701,1167.7 1702,1166.2 1703,1166.8 1704,1167.1 1705,1168.7 1706,1168.9 1707,1170.4 1708,1170.5 1709,1171.0 1710,1171.4 1711,1170.3 1712,1170.9 1713,1171.4 1714,1170.3 1715,1170.6 1716,1170.7 1717,1171.9 1718,1171.8 1719,1171.4 1720,1170.3 1721,1170.6 1722,1171.3 1723,1171.6 1724,1171.7 1725,1171.5 1726,1171.1 1727,1170.7 1728,1171.4 1729,1171.1 1730,1168.2 1731,1171.4 1732,1171.8 1733,1170.2 1734,1168.0 1735,1171.6 1736,1168.9 1737,1171.2 1738,1171.1 1739,1170.5 1740,1168.6 1741,1170.7 1742,1158.7 1743,1147.6 1744,1139.5 1744.2,1139.6 1745,1143.5 1746,1154.9 1747,1163.9 1748,1171.4 1749,1170.0 1750,1169.9 1751,1171.4 1752,1169.2 1753,1170.9 1754,1172.0 1755,1171.6 1756,1169.7 1757,1171.6 1758,1172.0 1759,1171.3 1760,1170.5 1761,1171.9 1762,1171.2 1763,1171.5 1764,1170.8 1765,1172.0 1766,1172.0 1767,1171.5 1768,1171.7 1769,1171.8 1770,1171.8 1771,1172.0 1772,1171.5 1773,1171.8 1774,1171.1 1775,1171.2 1776,1170.7 1777,1171.9 1778,1171.5 1779,1171.1 1780,1171.7 1781,1168.3 1782,1171.8 1783,1170.9 1784,1171.7 1785,1170.4 1786,1171.4 1787,1168.6 1788,1168.2 1789,1171.4 1790,1170.4 1791,1168.0 1792,1170.0 1793,1168.7 1794,1169.4 1795,1168.6 1796,1167.8 1797,1164.3 1798,1168.0 1799,1145.5 1800,1132.4 1800.6,1129.4 1801,1130.5 1802,1143.1 1803,1156.1 1804,1164.0 1805,1168.5 1806,1169.8 1807,1170.2 1808,1171.1 1809,1170.9 1810,1171.3 1811,1171.9 1812,1171.7 1813,1171.4 1814,1171.6 1815,1172.1 1816,1172.3 1817,1172.2 1818,1172.0 1819,1171.9 1820,1169.3 1821,1171.8 1822,1171.9 1823,1171.7 1824,1171.8 1825,1171.5 1826,1171.6 1827,1171.6 1828,1171.7 1829,1170.9 1830,1171.3 1831,1170.3 1832,1171.2 1833,1170.6 1834,1167.7 1835,1171.3 1836,1171.8 1837,1167.2 1838,1170.7 1839,1169.9 1840,1171.9 1841,1172.5 1842,1172.0 1843,1169.4 1844,1172.3 1845,1172.5 1846,1172.2 1847,1172.7 1848,1172.5 1849,1172.4 1850,1171.9 1851,1172.1 1852,1169.8 1853,1172.7 1854,1171.2 1855,1172.1 1856,1172.0 1857,1171.6 1858,1171.2 1859,1169.9 1860,1171.0 1861,1171.4 1862,1170.4 1863,1171.7 1864,1171.1 1865,1171.4 1866,1171.3 1867,1171.0 1868,1171.6 1869,1170.8 1870,1171.1 1871,1168.9 1872,1168.9 1873,1167.9 1874,1171.0 1875,1172.0 1876,1172.2 1877,1172.1 1878,1171.9 1879,1171.5 1880,1168.9 1881,1171.5 1882,1171.4 1883,1171.7 1884,1171.5 1885,1171.9 1886,1171.9 1887,1171.2 1888,1171.5 1889,1170.9 1890,1171.6 1891,1170.9 1892,1171.0 1893,1171.8 1894,1171.0 1895,1170.9 1896,1171.7 1897,1170.9 1898,1168.8 1899,1171.5 1900,1171.7 1901,1171.9 1902,1170.8 1903,1170.8 1904,1171.9 1905,1171.5 1906,1171.2 1907,1170.7 1908,1172.0 1909,1171.1 1910,1171.8 1911,1171.5 1912,1172.3 1913,1171.1 1914,1171.3 1915,1172.2 1916,1170.7 1917,1170.4 1918,1171.9 1919,1171.7 1920,1169.5 1921,1171.8 1922,1168.9 1923,1171.5 1924,1167.7 1925,1170.3 1926,1171.6 1927,1171.6 1928,1171.5 1929,1171.0 1930,1170.6 1931,1171.7 1932,1171.2 1933,1171.8 1934,1171.3 1935,1171.9 1936,1171.2 1937,1169.4 1938,1171.8 1939,1171.1 1940,1171.1 1941,1171.3 1942,1171.9 1943,1171.8 1944,1171.9 1945,1172.0 1946,1171.2 1947,1171.7 1948,1171.7 1949,1171.7 1950,1171.6 1951,1171.4 1952,1171.5 1953,1171.2 1954,1171.8 1955,1171.3 1956,1169.9 1957,1171.6 1958,1171.1 1959,1171.4 1960,1168.1 1961,1167.7 1962,1170.0 1963,1171.7 1964,1171.2 1965,1171.2 1966,1171.2 1967,1171.8 1968,1172.2 1969,1170.4 1970,1171.9 1971,1171.9 1972,1172.2 1973,1171.9 1974,1171.3 1975,1172.2 1976,1171.6 1977,1171.3 1978,1171.3 1979,1167.5 1980,1170.7 1981,1171.5 1982,1172.0 1983,1172.3 1984,1171.6 1985,1172.1 1986,1172.1 1987,1172.0 1988,1171.5 1989,1172.4 1990,1172.0 1991,1171.3 1992,1171.4 1993,1171.4 1994,1171.6 1995,1172.0 1996,1168.0 1997,1170.4 1998,1171.1 1999,1172.0 2000,1172.2 2001,1171.1 2002,1171.1 2003,1171.1 2004,1170.1 2005,1171.6 2006,1171.9 2007,1172.5 2008,1171.7 2009,1172.1 2010,1169.3 2011,1171.4 2012,1172.2 2013,1172.0 2014,1171.4 2015,1169.5 2016,1171.3 2017,1171.2 2018,1170.8 2019,1172.4 2020,1171.6 2021,1172.0 2022,1172.5 2023,1172.6 2024,1172.1 2025,1172.6 2026,1172.5 2027,1171.6 2028,1171.1 2029,1172.5 2030,1172.0 2031,1171.5 2032,1171.8 2033,1172.0 2034,1172.0 2035,1171.9 2036,1171.3 2037,1171.6 2038,1172.0 2039,1171.7 2040,1172.0 2041,1171.4 2042,1172.3 2043,1171.1 2044,1169.3 2045,1169.1 2046,1172.0 2047,1172.0 2048,1168.4 2049,1172.2 2050,1171.3 2051,1171.3 2052,1171.7 2053,1171.7 2054,1172.1 2055,1171.7 2056,1172.1 2057,1172.0 2058,1167.6 2059,1170.7 2060,1169.2 2061,1171.9 2062,1171.7 2063,1171.0 2064,1171.1 2065,1168.6 2066,1170.9 2067,1168.6 2068,1171.2 2069,1171.1 2070,1171.6 2071,1170.6 2072,1170.8 2073,1171.6 2074,1171.3 2075,1170.4 2076,1171.2 2077,1170.0 2078,1170.6 2079,1168.0 2080,1169.8 2081,1167.5 2082,1172.0 2083,1161.6 2084,1148.6 2085,1120.8 2086,1089.7 2086.4,1085.5 2087,1094.5 2088,1127.4 2089,1151.1 2090,1162.8 2091,1165.9 2092,1166.7 2093,1167.2 2094,1167.9 2095,1166.9 2096,1165.0 2097,1159.2 2098,1149.8 2098.9,1145.6 2099,1144.9 2100,1151.4 2101,1161.3 2102,1166.8 2103,1167.9 2104,1169.3 2105,1168.7 2106,1169.2 2107,1168.6 2108,1167.8 2109,1167.8 2110,1167.0 2111,1171.2 2112,1165.6 2113,1165.5 2114,1165.2 2115,1165.1 2116,1169.6 2117,1165.1 2118,1170.4 2119,1167.1 2120,1168.1 2121,1170.1 2122,1171.8 2123,1170.1 2124,1170.6 2125,1170.8 2126,1171.4 2127,1170.3 2128,1171.7 2129,1169.7 2130,1171.5 2131,1171.6 2132,1169.1 2133,1171.7 2134,1171.5 2135,1171.1 2136,1171.7 2137,1171.1 2138,1170.9 2139,1169.9 2140,1171.0 2141,1170.4 2142,1169.3 2143,1170.7 2144,1171.5 2145,1171.4 2146,1172.0 2147,1171.5 2148,1171.7 2149,1171.3 2150,1172.0 2151,1172.3 2152,1171.9 2153,1172.2 2154,1171.1 2155,1170.7 2156,1171.6 2157,1171.5 2158,1168.7 2159,1171.8 2160,1171.6 2161,1171.2 2162,1172.0 2163,1171.8 2164,1168.9 2165,1172.3 2166,1171.7 2167,1172.5 2168,1171.1 2169,1171.4 2170,1171.8 2171,1171.2 2172,1171.2 2173,1171.3 2174,1171.2 2175,1171.0 2176,1171.2 2177,1171.2 2178,1171.7 2179,1171.7 2180,1171.7" fill="none" stroke="#0000ff" stroke-width="9.3" stroke-linejoin="round" stroke-linecap="butt"/>
<path d="M196,1021.0 197,1021.0 198,1021.0 199,1021.0 200,1021.0 201,1021.0 202,1021.0 203,1021.0 204,1021.0 205,1021.6 206,1021.4 207,1020.7 208,1020.1 209,1019.6 210,1020.4 211,1021.4 212,1021.5 213,1021.5 214,1017.8 215,1021.5 216,1021.5 217,1020.1 218,1021.8 219,1021.7 220,1021.6 221,1021.0 222,1021.0 223,1021.2 224,1021.7 225,1021.2 226,1021.3 227,1021.0 228,1020.3 229,1017.9 230,1021.2 231,1021.0 232,1020.6 233,1020.7 234,1020.8 235,1020.7 236,1020.5 237,1019.0 238,1018.3 239,1019.2 240,1019.9 241,1020.4 242,1019.3 243,1020.2 244,1019.9 245,1019.6 246,1020.5 247,1017.5 248,1018.2 249,1017.0 250,1017.1 251,1018.6 252,1019.5 253,1019.9 254,1020.7 255,1020.5 256,1020.3 257,1020.2 258,1021.2 259,1021.5 260,1021.6 261,1020.7 262,1021.5 263,1020.6 264,1021.0 265,1021.6 266,1021.3 267,1020.9 268,1021.9 269,1021.9 270,1021.7 271,1021.3 272,1021.0 273,1021.7 274,1021.6 275,1020.6 276,1021.6 277,1021.5 278,1020.5 279,1021.1 280,1020.3 281,1020.9 282,1019.9 283,1020.8 284,1018.6 285,1020.6 286,1019.8 287,1020.6 288,1019.6 289,1019.5 290,1021.1 291,1021.3 292,1021.6 293,1021.3 294,1021.7 295,1021.0 296,1020.9 297,1019.2 298,1018.7 299,1018.1 300,1013.1 301,1007.6 302,1001.9 302.2,1002.0 303,1004.4 304,1011.7 305,1016.2 306,1018.6 307,1019.4 308,1020.1 309,1016.9 310,1020.2 311,1017.6 312,1021.0 313,1020.4 314,1020.9 315,1021.0 316,1021.0 317,1020.6 318,1020.9 319,1020.8 320,1020.0 321,1020.5 322,1019.9 323,1020.7 324,1020.4 325,1020.1 326,1020.2 327,1021.2 328,1020.9 329,1020.4 330,1019.5 331,1021.4 332,1020.9 333,1021.6 334,1018.6 335,1021.8 336,1019.8 337,1021.6 338,1021.3 339,1021.1 340,1021.2 341,1021.2 342,1021.2 343,1021.4 344,1021.4 345,1020.9 346,1020.7 347,1019.6 348,1019.2 349,1020.1 350,1019.6 351,1020.3 352,1020.4 353,1021.0 354,1021.1 355,1021.2 356,1021.3 357,1021.0 358,1020.6 359,1019.7 360,1020.9 361,1021.1 362,1021.4 363,1021.3 364,1021.4 365,1021.2 366,1020.9 367,1021.4 368,1021.6 369,1021.0 370,1019.8 371,1020.4 372,1020.7 373,1017.8 374,1020.6 375,1019.5 376,1019.7 377,1020.6 378,1017.5 379,1020.5 380,1021.0 381,1020.8 382,1020.4 383,1021.0 384,1018.5 385,1020.4 386,1019.2 387,1018.4 388,1015.8 389,1010.6 390,1004.4 390.5,1003.4 391,1004.4 392,1010.7 393,1020.9 394,1019.0 395,1019.3 396,1020.2 397,1020.6 398,1020.1 399,1020.3 400,1018.4 401,1018.3 402,1015.8 403,1016.8 404,1015.6 405,1014.0 406,1015.8 407,1020.1 408,1017.6 409,1019.0 410,1019.6 411,1019.9 412,1020.6 413,1020.6 414,1018.8 415,1020.8 416,1020.6 417,1020.4 418,1018.7 419,1019.5 420,1021.1 421,1020.9 422,1021.0 423,1020.4 424,1021.3 425,1021.4 426,1020.3 427,1021.2 428,1020.5 429,1020.7 430,1020.6 431,1020.6 432,1020.5 433,1021.3 434,1020.3 435,1019.6 436,1021.5 437,1021.5 438,1020.0 439,1021.5 440,1020.7 441,1018.5 442,1021.5 443,1021.5 444,1022.0 445,1022.0 446,1021.0 447,1022.1 448,1022.2 449,1018.6 450,1022.1 451,1020.5 452,1021.5 453,1021.4 454,1021.1 455,1021.2 456,1018.4 457,1021.3 458,1018.8 459,1021.6 460,1021.7 461,1021.5 462,1020.9 463,1021.7 464,1021.6 465,1021.7 466,1020.5 467,1021.1 468,1021.3 469,1021.6 470,1021.3 471,1021.3 472,1020.6 473,1021.0 474,1021.0 475,1019.9 476,1020.8 477,1021.1 478,1018.3 479,1021.2 480,1020.9 481,1020.8 482,1021.8 483,1021.1 484,1021.9 485,1021.3 486,1021.6 487,1021.0 488,1020.4 489,1021.2 490,1017.7 491,1019.4 492,1020.6 493,1020.2 494,1018.3 495,1020.5 496,1020.9 497,1021.1 498,1021.8 499,1021.4 500,1021.5 501,1021.6 502,1021.9 503,1022.2 504,1022.1 505,1022.2 506,1021.9 507,1021.9 508,1021.7 509,1021.3 510,1021.9 511,1020.6 512,1021.9 513,1018.0 514,1021.5 515,1020.4 516,1019.5 517,1017.2 518,1019.2 519,1020.3 520,1020.6 521,1019.0 522,1020.5 523,1019.2 524,1020.6 525,1020.1 526,1019.9 527,1020.1 528,1020.7 529,1020.5 530,1020.4 531,1017.4 532,1019.5 533,1020.9 534,1021.1 535,1021.0 536,1021.1 537,1020.6 538,1021.1 539,1021.0 540,1020.9 541,1020.4 542,1021.3 543,1019.7 544,1020.5 545,1021.2 546,1020.5 547,1021.0 548,1020.7 549,1020.1 550,1020.1 551,1020.7 552,1020.9 553,1020.8 554,1017.3 555,1020.4 556,1020.8 557,1020.4 558,1020.3 559,1020.6 560,1020.5 561,1020.3 562,1020.4 563,1020.5 564,1019.5 565,1020.8 566,1020.7 567,1020.8 568,1020.3 569,1021.1 570,1020.5 571,1021.1 572,1021.5 573,1017.5 574,1021.2 575,1021.0 576,1018.5 577,1021.2 578,1020.7 579,1019.6 580,1020.9 581,1020.3 582,1020.7 583,1020.1 584,1020.6 585,1020.6 586,1020.3 587,1019.7 588,1020.5 589,1020.1 590,1019.9 591,1018.9 592,1019.7 593,1019.0 594,1019.4 595,1019.8 596,1020.1 597,1020.0 598,1019.7 599,1019.9 600,1019.2 601,1019.2 602,1019.3 603,1019.8 604,1019.7 605,1019.5 606,1018.8 607,1019.0 608,1018.3 609,1020.6 610,1017.5 611,1017.2 612,1018.6 613,1015.5 614,1013.8 615,1012.2 616,1009.8 617,1008.3 618,1005.4 619,1002.0 620,996.4 621,990.4 622,980.7 623,968.6 624,962.1 625,968.6 626,980.5 627,990.0 628,997.1 629,1001.5 630,1005.1 631,1020.1 632,1010.1 633,1012.1 634,1013.5 635,1013.6 636,1015.3 637,1015.7 638,1015.5 639,1017.3 640,1017.7 641,1017.4 642,1018.8 643,1018.2 644,1019.4 645,1019.2 646,1019.7 647,1019.4 648,1019.7 649,1019.2 650,1019.4 651,1020.2 652,1020.2 653,1020.1 654,1020.0 655,1019.8 656,1020.5 657,1019.8 658,1019.6 659,1020.5 660,1020.7 661,1020.8 662,1019.8 663,1021.0 664,1021.0 665,1020.7 666,1020.8 667,1020.0 668,1021.2 669,1020.2 670,1021.4 671,1020.4 672,1021.0 673,1021.1 674,1017.9 675,1021.5 676,1017.9 677,1021.5 678,1021.2 679,1021.4 680,1021.7 681,1020.2 682,1021.0 683,1020.7 684,1020.2 685,1021.4 686,1020.9 687,1020.3 688,1020.7 689,1020.6 690,1020.4 691,1020.5 692,1020.1 693,1020.6 694,1020.8 695,1019.7 696,1020.5 697,1017.5 698,1020.6 699,1020.6 700,1019.7 701,1019.9 702,1018.1 703,1017.9 704,1014.6 705,1005.0 706,983.9 707,958.3 707.4,954.9 708,962.5 709,989.2 710,1007.4 711,1014.4 712,1018.2 713,1015.0 714,1019.3 715,1020.0 716,1020.1 717,1020.3 718,1020.6 719,1020.5 720,1019.8 721,1019.5 722,1020.1 723,1018.0 724,1019.5 725,1020.2 726,1016.6 727,1019.9 728,1019.8 729,1019.0 730,1019.0 731,1020.6 732,1020.0 733,1020.4 734,1020.8 735,1021.2 736,1020.0 737,1021.1 738,1020.6 739,1020.2 740,1020.5 741,1021.1 742,1020.4 743,1020.4 744,1020.6 745,1020.9 746,1021.0 747,1021.2 748,1021.0 749,1021.2 750,1020.7 751,1021.4 752,1021.6 753,1021.1 754,1021.9 755,1021.5 756,1021.7 757,1021.5 758,1021.2 759,1019.8 760,1021.2 761,1021.0 762,1020.4 763,1016.1 764,1019.5 765,1016.6 766,1016.9 767,1020.1 768,1018.9 769,1020.7 770,1021.4 771,1020.5 772,1020.9 773,1020.5 774,1021.0 775,1021.6 776,1020.5 777,1021.5 778,1020.6 779,1021.5 780,1021.3 781,1020.7 782,1020.7 783,1020.7 784,1021.1 785,1020.5 786,1019.6 787,1021.2 788,1021.4 789,1020.9 790,1020.5 791,1019.9 792,1021.0 793,1012.0 794,1006.0 794.4,1006.6 795,1021.1 796,1013.2 797,1017.5 798,1019.7 799,1020.9 800,1020.9 801,1020.8 802,1020.5 803,1018.1 804,1021.1 805,1021.5 806,1021.7 807,1021.5 808,1020.8 809,1021.4 810,1018.9 811,1020.7 812,1021.6 813,1018.9 814,1021.8 815,1019.7 816,1021.3 817,1021.7 818,1021.7 819,1021.3 820,1021.1 821,1021.6 822,1021.6 823,1022.0 824,1019.1 825,1019.0 826,1018.7 827,1021.7 828,1020.3 829,1020.6 830,1021.0 831,1021.4 832,1020.8 833,1021.7 834,1021.5 835,1021.4 836,1020.6 837,1021.3 838,1021.1 839,1021.4 840,1021.1 841,1020.9 842,1018.5 843,1021.1 844,1020.8 845,1021.2 846,1019.7 847,1020.6 848,1021.3 849,1020.5 850,1020.6 851,1021.2 852,1020.6 853,1020.8 854,1020.7 855,1021.1 856,1021.3 857,1021.5 858,1021.3 859,1021.7 860,1021.4 861,1020.9 862,1021.2 863,1021.0 864,1021.0 865,1020.3 866,1019.5 867,1018.5 868,1016.8 869,1021.3 870,1015.5 871,1014.4 872,1020.7 873,1012.1 874,1018.4 875,1011.2 875.4,1011.1 876,1011.0 877,1020.4 878,1012.5 879,1013.5 880,1020.1 881,1015.7 882,1021.2 883,1017.0 884,1020.4 885,1019.3 886,1019.0 887,1020.0 888,1020.1 889,1017.9 890,1019.7 891,1020.7 892,1019.7 893,1019.1 894,1020.7 895,1020.9 896,1020.2 897,1020.9 898,1021.1 899,1020.1 900,1020.3 901,1018.4 902,1019.2 903,1019.2 904,1019.5 905,1018.9 906,1019.5 907,1019.3 908,1019.4 909,1020.1 910,1020.3 911,1020.4 912,1021.0 913,1021.4 914,1020.9 915,1021.8 916,1022.0 917,1022.0 918,1020.5 919,1021.0 920,1020.8 921,1016.6 922,1017.1 923,1016.9 924,1018.6 925,1018.5 926,1020.2 927,1020.8 928,1018.7 929,1019.7 930,1020.2 931,1020.1 932,1019.7 933,1020.7 934,1020.8 935,1020.7 936,1020.5 937,1020.5 938,1020.1 939,1021.3 940,1020.9 941,1021.2 942,1021.5 943,1021.8 944,1018.3 945,1021.8 946,1020.9 947,1021.1 948,1019.7 949,1020.5 950,1020.0 951,1020.3 952,1019.9 953,1020.2 954,1019.9 955,1020.5 956,1020.3 957,1019.3 958,1020.5 959,1020.7 960,1020.6 961,1020.8 962,1020.5 963,1020.5 964,1020.3 965,1017.6 966,1020.5 967,1020.3 968,1020.0 969,1020.3 970,1020.0 971,1019.6 972,1018.5 973,1018.7 974,1017.7 975,1015.4 976,1009.1 977,993.5 978,971.3 978.5,968.6 979,972.6 980,993.2 981,1009.4 982,1015.7 983,1017.3 984,1019.1 985,1020.1 986,1020.2 987,1020.3 988,1021.1 989,1020.2 990,1020.2 991,1020.6 992,1020.4 993,1021.0 994,1020.4 995,1020.9 996,1020.7 997,1020.4 998,1020.1 999,1020.0 1000,1020.5 1001,1021.0 1002,1020.9 1003,1020.4 1004,1020.0 1005,1020.7 1006,1020.9 1007,1020.7 1008,1021.3 1009,1021.3 1010,1020.5 1011,1019.1 1012,1020.9 1013,1020.7 1014,1021.2 1015,1020.8 1016,1021.2 1017,1020.4 1018,1020.5 1019,1020.6 1020,1021.5 1021,1021.5 1022,1021.1 1023,1021.7 1024,1021.4 1025,1021.6 1026,1021.4 1027,1021.5 1028,1021.5 1029,1021.8 1030,1021.8 1031,1022.3 1032,1022.2 1033,1022.0 1034,1022.3 1035,1022.1 1036,1021.9 1037,1021.0 1038,1020.4 1039,1017.7 1040,1020.4 1041,1018.5 1042,1020.7 1043,1020.9 1044,1020.9 1045,1020.5 1046,1021.1 1047,1021.4 1048,1021.0 1049,1018.2 1050,1021.2 1051,1021.8 1052,1020.5 1053,1020.9 1054,1021.4 1055,1020.8 1056,1020.4 1057,1020.4 1058,1021.1 1059,1020.1 1060,1019.7 1061,1020.2 1062,1020.5 1063,1020.8 1064,1020.5 1065,1020.6 1066,1017.3 1067,1019.8 1068,1017.6 1069,1020.8 1070,1019.5 1071,1019.9 1072,1020.5 1073,1020.5 1074,1019.9 1075,1020.1 1076,1019.3 1077,1019.3 1078,1019.1 1079,1019.6 1080,1017.8 1081,1019.2 1082,1018.7 1083,1016.9 1084,1017.7 1085,1016.8 1086,1012.9 1087,1013.8 1088,1012.0 1089,1020.7 1090,1007.4 1091,1005.6 1092,1005.1 1093,1005.4 1094,1007.4 1095,1009.4 1096,1012.1 1097,1013.4 1098,1015.9 1099,1019.8 1100,1018.4 1101,1019.3 1102,1018.7 1103,1019.8 1104,1019.6 1105,1020.6 1106,1020.5 1107,1020.7 1108,1020.0 1109,1020.5 1110,1021.2 1111,1020.9 1112,1021.1 1113,1018.4 1114,1020.4 1115,1021.3 1116,1021.2 1117,1020.4 1118,1021.2 1119,1020.6 1120,1021.2 1121,1020.9 1122,1021.3 1123,1021.5 1124,1021.2 1125,1021.4 1126,1021.0 1127,1020.7 1128,1021.4 1129,1021.2 1130,1021.4 1131,1020.8 1132,1021.4 1133,1021.5 1134,1021.0 1135,1018.1 1136,1021.2 1137,1020.7 1138,1019.9 1139,1019.9 1140,1020.8 1141,1019.0 1142,1020.7 1143,1020.7 1144,1020.3 1145,1020.9 1146,1020.8 1147,1021.4 1148,1022.0 1149,1021.8 1150,1021.9 1151,1021.3 1152,1021.0 1153,1021.0 1154,1018.6 1155,1018.2 1156,1021.5 1157,1021.3 1158,1020.3 1159,1021.3 1160,1020.7 1161,1018.8 1162,1021.0 1163,1021.2 1164,1021.5 1165,1020.9 1166,1021.1 1167,1021.5 1168,1021.6 1169,1021.7 1170,1020.7 1171,1021.5 1172,1021.6 1173,1017.4 1174,1021.2 1175,1020.5 1176,1021.2 1177,1020.5 1178,1021.4 1179,1021.1 1180,1021.0 1181,1021.4 1182,1021.5 1183,1020.2 1184,1021.6 1185,1019.8 1186,1021.2 1187,1021.3 1188,1020.8 1189,1021.5 1190,1018.5 1191,1021.5 1192,1021.0 1193,1020.0 1194,1021.0 1195,1021.5 1196,1020.5 1197,1021.6 1198,1021.1 1199,1020.9 1200,1017.9 1201,1020.3 1202,1020.1 1203,1020.3 1204,1020.0 1205,1020.1 1206,1020.3 1207,1021.0 1208,1019.0 1209,1021.4 1210,1021.7 1211,1021.9 1212,1020.4 1213,1020.4 1214,1022.3 1215,1022.0 1216,1019.5 1217,1021.4 1218,1018.7 1219,1020.7 1220,1021.7 1221,1021.5 1222,1021.0 1223,1020.6 1224,1020.7 1225,1021.3 1226,1021.1 1227,1021.3 1228,1021.1 1229,1020.8 1230,1022.0 1231,1021.8 1232,1021.3 1233,1021.2 1234,1021.6 1235,1021.8 1236,1020.9 1237,1021.7 1238,1021.3 1239,1020.9 1240,1020.5 1241,1020.8 1242,1020.6 1243,1021.3 1244,1021.4 1245,1018.3 1246,1021.1 1247,1020.7 1248,1019.8 1249,1021.3 1250,1021.3 1251,1021.2 1252,1020.8 1253,1020.9 1254,1021.2 1255,1020.7 1256,1020.9 1257,1020.5 1258,1018.3 1259,1020.4 1260,1020.1 1261,1020.5 1262,1020.1 1263,1019.3 1264,1020.8 1265,1020.9 1266,1020.9 1267,1020.4 1268,1020.6 1269,1020.9 1270,1020.9 1271,1020.2 1272,1019.4 1273,1017.3 1274,1020.0 1275,1019.3 1276,1019.2 1277,1019.0 1278,1018.1 1279,1016.5 1280,1012.2 1281,1005.8 1282,994.7 1282.7,991.9 1283,991.9 1284,1001.6 1285,1011.5 1286,1016.4 1287,1018.9 1288,1018.4 1289,1020.1 1290,1021.1 1291,1021.2 1292,1018.8 1293,1021.5 1294,1019.7 1295,1021.4 1296,1018.9 1297,1021.4 1298,1020.7 1299,1021.1 1300,1020.7 1301,1019.8 1302,1017.0 1303,1019.2 1304,1018.2 1305,1019.9 1306,1020.3 1307,1020.7 1308,1020.9 1309,1017.2 1310,1020.6 1311,1020.8 1312,1020.8 1313,1021.1 1314,1021.0 1315,1020.7 1316,1020.2 1317,1021.0 1318,1020.9 1319,1020.5 1320,1019.2 1321,1020.6 1322,1021.1 1323,1021.4 1324,1021.2 1325,1018.6 1326,1021.4 1327,1021.1 1328,1021.0 1329,1021.8 1330,1022.0 1331,1022.0 1332,1021.1 1333,1022.0 1334,1022.0 1335,1020.6 1336,1019.6 1337,1021.3 1338,1021.8 1339,1021.8 1340,1021.5 1341,1020.6 1342,1021.6 1343,1021.4 1344,1021.4 1345,1021.1 1346,1021.3 1347,1021.4 1348,1020.7 1349,1021.3 1350,1019.8 1351,1021.5 1352,1020.7 1353,1020.1 1354,1021.5 1355,1020.7 1356,1021.1 1357,1020.8 1358,1021.5 1359,1020.0 1360,1017.5 1361,1020.9 1362,1021.4 1363,1021.0 1364,1021.4 1365,1021.1 1366,1021.4 1367,1021.4 1368,1020.2 1369,1020.4 1370,1021.1 1371,1020.3 1372,1021.2 1373,1017.5 1374,1020.3 1375,1020.8 1376,1020.9 1377,1021.2 1378,1021.1 1379,1020.9 1380,1020.5 1381,1020.9 1382,1020.5 1383,1021.3 1384,1020.9 1385,1020.8 1386,1020.4 1387,1020.9 1388,1020.2 1389,1020.5 1390,1021.2 1391,1020.9 1392,1020.4 1393,1020.6 1394,1020.6 1395,1020.4 1396,1021.0 1397,1018.9 1398,1020.8 1399,1021.2 1400,1020.9 1401,1021.1 1402,1020.9 1403,1020.8 1404,1019.1 1405,1019.9 1406,1021.2 1407,1020.2 1408,1020.6 1409,1021.1 1410,1021.1 1411,1021.0 1412,1021.1 1413,1018.0 1414,1020.9 1415,1019.9 1416,1020.9 1417,1018.5 1418,1020.7 1419,1018.3 1420,1019.8 1421,1020.5 1422,1020.9 1423,1020.7 1424,1020.5 1425,1021.1 1426,1020.2 1427,1020.3 1428,1021.2 1429,1020.0 1430,1021.0 1431,1021.0 1432,1020.6 1433,1019.6 1434,1020.4 1435,1019.1 1436,1019.8 1437,1018.4 1438,1018.7 1439,1018.4 1440,1017.4 1441,1015.7 1442,1012.8 1443,1003.9 1444,977.2 1445,927.1 1445.9,896.0 1446,896.4 1447,937.3 1448,983.7 1449,1004.6 1450,1018.3 1451,1010.7 1452,1019.7 1453,1008.3 1454,1007.9 1455,1007.8 1456,1020.6 1457,1013.1 1458,1014.8 1459,1015.7 1460,1016.9 1461,1017.5 1462,1017.4 1463,1019.4 1464,1016.3 1465,1014.5 1466,1018.6 1467,1013.5 1468,1020.5 1469,1011.8 1470,1010.7 1471,1010.3 1472,1008.9 1472.3,1010.4 1473,1017.8 1474,1009.8 1475,1011.5 1476,1011.9 1477,1012.5 1478,1020.4 1479,1015.3 1480,1013.9 1481,1016.7 1482,1017.6 1483,1018.4 1484,1019.1 1485,1019.9 1486,1020.3 1487,1020.0 1488,1020.7 1489,1020.7 1490,1020.0 1491,1019.9 1492,1016.9 1493,1020.3 1494,1021.0 1495,1021.1 1496,1020.4 1497,1021.6 1498,1020.9 1499,1021.3 1500,1020.8 1501,1020.0 1502,1021.6 1503,1021.1 1504,1018.4 1505,1020.7 1506,1019.6 1507,1020.2 1508,1019.8 1509,1015.4 1510,1016.0 1511,1016.1 1512,1015.8 1513,1017.2 1514,1021.0 1515,1019.0 1516,1020.7 1517,1021.0 1518,1021.2 1519,1021.2 1520,1021.9 1521,1021.4 1522,1021.4 1523,1017.6 1524,1020.2 1525,1021.0 1526,1021.1 1527,1022.0 1528,1021.5 1529,1021.5 1530,1021.1 1531,1021.7 1532,1021.9 1533,1020.7 1534,1021.7 1535,1021.4 1536,1021.3 1537,1021.5 1538,1021.2 1539,1021.7 1540,1021.0 1541,1021.2 1542,1020.7 1543,1020.0 1544,1018.1 1545,1021.2 1546,1021.7 1547,1020.4 1548,1021.4 1549,1021.2 1550,1020.8 1551,1018.9 1552,1020.7 1553,1021.2 1554,1021.3 1555,1020.4 1556,1020.4 1557,1021.1 1558,1021.2 1559,1021.5 1560,1020.7 1561,1020.7 1562,1020.4 1563,1020.5 1564,1020.8 1565,1019.6 1566,1020.3 1567,1020.1 1568,1020.1 1569,1018.5 1570,1010.1 1571,1002.4 1571.7,1000.1 1572,999.9 1573,1018.2 1574,1018.2 1575,1016.9 1576,1019.5 1577,1019.9 1578,1020.2 1579,1020.0 1580,1020.3 1581,1020.2 1582,1017.7 1583,1020.8 1584,1020.7 1585,1020.2 1586,1020.9 1587,1019.3 1588,1021.0 1589,1020.8 1590,1021.0 1591,1020.0 1592,1020.6 1593,1020.7 1594,1020.9 1595,1020.4 1596,1020.9 1597,1021.3 1598,1021.2 1599,1020.5 1600,1021.0 1601,1019.5 1602,1021.1 1603,1020.9 1604,1018.5 1605,1020.9 1606,1020.9 1607,1020.1 1608,1021.0 1609,1019.4 1610,1020.8 1611,1020.4 1612,1017.0 1613,1020.1 1614,1020.3 1615,1020.7 1616,1020.5 1617,1018.5 1618,1020.1 1619,1020.4 1620,1020.2 1621,1019.8 1622,1020.1 1623,1021.3 1624,1020.9 1625,1020.7 1626,1021.2 1627,1021.4 1628,1021.2 1629,1018.7 1630,1021.7 1631,1021.4 1632,1021.4 1633,1021.3 1634,1021.1 1635,1021.6 1636,1021.2 1637,1021.8 1638,1022.0 1639,1021.3 1640,1021.1 1641,1021.4 1642,1021.2 1643,1021.1 1644,1020.5 1645,1020.6 1646,1020.1 1647,1020.8 1648,1020.9 1649,1020.9 1650,1019.7 1651,1020.7 1652,1020.4 1653,1020.5 1654,1020.4 1655,1020.6 1656,1020.2 1657,1020.6 1658,1020.9 1659,1020.7 1660,1019.8 1661,1020.7 1662,1020.3 1663,1021.2 1664,1017.8 1665,1018.2 1666,1020.8 1667,1020.9 1668,1020.5 1669,1020.9 1670,1018.9 1671,1018.6 1672,1019.7 1673,1020.5 1674,1020.6 1675,1020.8 1676,1020.4 1677,1020.2 1678,1020.5 1679,1021.0 1680,1021.1 1681,1020.9 1682,1020.7 1683,1019.7 1684,1020.7 1685,1019.5 1686,1020.3 1687,1020.0 1688,1017.7 1689,1020.7 1690,1017.3 1691,1020.3 1692,1020.2 1693,1020.5 1694,1020.5 1695,1020.2 1696,1020.7 1697,1020.8 1698,1020.2 1699,1019.5 1700,1019.0 1701,1015.8 1702,1020.1 1703,1014.8 1704,1018.3 1705,1019.3 1706,1019.8 1707,1019.6 1708,1021.1 1709,1021.3 1710,1021.5 1711,1021.8 1712,1021.9 1713,1019.8 1714,1021.4 1715,1021.9 1716,1022.3 1717,1021.8 1718,1022.4 1719,1022.2 1720,1021.1 1721,1021.7 1722,1021.4 1723,1021.1 1724,1020.1 1725,1020.8 1726,1019.9 1727,1020.8 1728,1020.8 1729,1020.1 1730,1020.6 1731,1019.4 1732,1020.0 1733,1018.4 1734,1019.6 1735,1019.5 1736,1016.9 1737,1019.9 1738,1019.5 1739,1018.9 1740,1013.7 1741,1011.2 1742,1002.2 1743,994.4 1743.3,994.1 1744,996.8 1745,1005.6 1746,1013.1 1747,1020.8 1748,1017.9 1749,1020.2 1750,1020.0 1751,1019.8 1752,1020.4 1753,1020.7 1754,1020.4 1755,1021.0 1756,1021.2 1757,1021.3 1758,1021.0 1759,1021.4 1760,1021.4 1761,1020.8 1762,1022.0 1763,1021.1 1764,1021.3 1765,1020.7 1766,1019.0 1767,1018.5 1768,1018.9 1769,1020.8 1770,1021.3 1771,1021.0 1772,1021.7 1773,1021.3 1774,1021.7 1775,1018.5 1776,1021.2 1777,1021.2 1778,1021.1 1779,1020.6 1780,1020.6 1781,1020.7 1782,1020.2 1783,1020.8 1784,1020.2 1785,1020.1 1786,1019.7 1787,1020.0 1788,1019.8 1789,1019.7 1790,1016.6 1791,1020.1 1792,1019.5 1793,1018.0 1794,1019.2 1795,1019.0 1796,1018.2 1797,1015.9 1798,1009.9 1799,1000.5 1800,989.4 1800.6,987.1 1801,988.0 1802,998.1 1803,1008.5 1804,1014.7 1805,1017.3 1806,1017.6 1807,1019.4 1808,1019.6 1809,1019.9 1810,1020.8 1811,1020.9 1812,1020.2 1813,1021.4 1814,1021.0 1815,1021.4 1816,1020.5 1817,1021.9 1818,1020.6 1819,1021.4 1820,1020.7 1821,1019.6 1822,1021.2 1823,1021.3 1824,1020.3 1825,1020.1 1826,1021.0 1827,1021.0 1828,1020.9 1829,1020.9 1830,1021.4 1831,1021.4 1832,1018.9 1833,1021.3 1834,1020.7 1835,1021.2 1836,1020.3 1837,1020.9 1838,1021.1 1839,1021.0 1840,1021.0 1841,1020.6 1842,1020.9 1843,1020.4 1844,1020.1 1845,1020.9 1846,1019.9 1847,1017.5 1848,1020.3 1849,1020.7 1850,1019.1 1851,1021.4 1852,1019.9 1853,1021.4 1854,1021.2 1855,1021.2 1856,1021.7 1857,1021.5 1858,1021.2 1859,1020.7 1860,1021.7 1861,1021.7 1862,1021.3 1863,1021.9 1864,1021.6 1865,1020.5 1866,1017.5 1867,1021.4 1868,1020.4 1869,1020.3 1870,1020.8 1871,1021.2 1872,1021.1 1873,1021.1 1874,1020.9 1875,1021.1 1876,1018.4 1877,1021.0 1878,1021.1 1879,1020.5 1880,1021.4 1881,1021.3 1882,1021.1 1883,1021.0 1884,1020.0 1885,1020.7 1886,1020.9 1887,1018.6 1888,1020.1 1889,1017.9 1890,1020.5 1891,1020.9 1892,1021.4 1893,1021.4 1894,1021.6 1895,1021.6 1896,1021.8 1897,1020.3 1898,1021.1 1899,1021.3 1900,1019.9 1901,1021.5 1902,1020.8 1903,1021.5 1904,1020.8 1905,1021.0 1906,1021.2 1907,1021.4 1908,1020.5 1909,1021.1 1910,1021.4 1911,1020.0 1912,1021.6 1913,1021.1 1914,1020.8 1915,1021.3 1916,1021.0 1917,1021.3 1918,1021.4 1919,1020.8 1920,1021.6 1921,1021.7 1922,1021.6 1923,1021.0 1924,1021.2 1925,1021.6 1926,1021.2 1927,1018.7 1928,1020.7 1929,1021.3 1930,1021.2 1931,1021.1 1932,1020.7 1933,1017.2 1934,1020.5 1935,1020.3 1936,1018.9 1937,1021.0 1938,1020.9 1939,1020.9 1940,1020.6 1941,1020.8 1942,1018.8 1943,1020.9 1944,1018.2 1945,1020.0 1946,1020.9 1947,1020.8 1948,1021.6 1949,1021.5 1950,1021.8 1951,1021.7 1952,1021.6 1953,1017.9 1954,1021.4 1955,1019.4 1956,1019.6 1957,1019.3 1958,1019.5 1959,1020.1 1960,1019.8 1961,1017.6 1962,1018.4 1963,1018.6 1964,1018.5 1965,1018.2 1966,1017.5 1967,1017.1 1968,1020.4 1969,1017.5 1970,1017.8 1971,1017.8 1972,1017.8 1973,1018.2 1974,1020.6 1975,1019.2 1976,1019.2 1977,1020.1 1978,1019.8 1979,1020.3 1980,1020.7 1981,1020.8 1982,1019.4 1983,1021.3 1984,1021.4 1985,1021.3 1986,1021.0 1987,1019.7 1988,1021.5 1989,1021.9 1990,1021.0 1991,1021.7 1992,1018.5 1993,1021.5 1994,1021.0 1995,1021.4 1996,1021.3 1997,1020.2 1998,1021.0 1999,1021.2 2000,1021.7 2001,1021.2 2002,1021.9 2003,1019.0 2004,1022.0 2005,1021.8 2006,1021.6 2007,1020.9 2008,1021.0 2009,1021.2 2010,1020.8 2011,1020.6 2012,1020.4 2013,1020.3 2014,1019.1 2015,1020.2 2016,1020.7 2017,1020.7 2018,1020.7 2019,1019.4 2020,1019.2 2021,1022.0 2022,1021.6 2023,1022.2 2024,1022.5 2025,1022.4 2026,1021.8 2027,1021.8 2028,1018.9 2029,1020.4 2030,1021.4 2031,1021.6 2032,1018.7 2033,1020.5 2034,1021.2 2035,1020.4 2036,1020.6 2037,1021.3 2038,1021.0 2039,1017.8 2040,1021.8 2041,1021.8 2042,1021.6 2043,1022.0 2044,1021.9 2045,1021.5 2046,1020.1 2047,1018.1 2048,1018.0 2049,1020.2 2050,1017.8 2051,1020.2 2052,1021.3 2053,1020.3 2054,1021.0 2055,1021.0 2056,1020.3 2057,1021.2 2058,1021.3 2059,1020.9 2060,1021.3 2061,1020.6 2062,1019.8 2063,1019.9 2064,1020.5 2065,1019.1 2066,1020.9 2067,1021.6 2068,1020.7 2069,1020.9 2070,1020.9 2071,1021.4 2072,1021.3 2073,1021.0 2074,1021.6 2075,1021.2 2076,1020.9 2077,1020.9 2078,1020.5 2079,1018.8 2080,1021.3 2081,1018.6 2082,1016.9 2083,1012.9 2084,1002.2 2085,979.8 2086,954.2 2086.4,951.1 2087,958.1 2088,984.8 2089,1004.7 2090,1013.5 2091,1015.8 2092,1019.6 2093,1016.9 2094,1020.0 2095,1013.6 2096,1008.8 2097,999.0 2098,992.8 2099,999.1 2100,1009.5 2101,1016.2 2102,1018.1 2103,1019.3 2104,1015.9 2105,1020.5 2106,1020.8 2107,1021.0 2108,1020.9 2109,1021.0 2110,1018.3 2111,1017.4 2112,1020.4 2113,1020.5 2114,1018.8 2115,1021.0 2116,1017.1 2117,1016.4 2118,1014.9 2118.8,1015.3 2119,1014.5 2120,1018.1 2121,1018.4 2122,1019.0 2123,1017.5 2124,1018.2 2125,1018.5 2126,1019.0 2127,1020.0 2128,1020.0 2129,1020.4 2130,1019.8 2131,1019.7 2132,1019.9 2133,1020.6 2134,1020.9 2135,1017.8 2136,1021.3 2137,1020.4 2138,1020.5 2139,1021.7 2140,1021.6 2141,1021.0 2142,1020.3 2143,1021.0 2144,1021.2 2145,1020.2 2146,1021.1 2147,1021.1 2148,1021.0 2149,1020.8 2150,1021.0 2151,1018.0 2152,1020.8 2153,1019.6 2154,1019.0 2155,1019.4 2156,1020.3 2157,1020.0 2158,1017.2 2159,1020.1 2160,1020.4 2161,1020.6 2162,1020.6 2163,1020.7 2164,1020.8 2165,1020.7 2166,1017.9 2167,1021.4 2168,1019.8 2169,1021.4 2170,1018.1 2171,1021.2 2172,1020.9 2173,1020.9 2174,1020.0 2175,1021.3 2176,1020.9 2177,1021.5 2178,1020.9 2179,1020.9 2180,1020.9" fill="none" stroke="#008080" stroke-width="9.3" stroke-linejoin="round" stroke-linecap="butt"/>
<path d="M196,876.5 197,876.5 198,876.5 199,876.5 200,876.5 201,876.5 202,876.5 203,876.5 204,876.5 205,876.9 206,876.7 207,876.2 208,877.0 209,876.5 210,876.4 211,875.8 212,877.0 213,876.6 214,876.2 215,876.4 216,877.1 217,877.1 218,876.8 219,875.7 220,876.6 221,876.3 222,876.7 223,876.5 224,873.6 225,876.6 226,876.1 227,876.3 228,875.4 229,876.1 230,876.5 231,875.6 232,875.9 233,876.2 234,875.5 235,876.3 236,876.2 237,875.8 238,876.0 239,875.6 240,875.6 241,876.0 242,875.3 243,875.3 244,876.1 245,875.9 246,876.5 247,877.0 248,876.2 249,877.3 250,877.1 251,875.6 252,876.4 253,875.9 254,876.4 255,876.7 256,877.0 257,876.1 258,876.4 259,876.2 260,876.0 261,876.5 262,876.0 263,876.0 264,875.7 265,875.8 266,876.2 267,876.7 268,876.4 269,876.3 270,876.6 271,876.3 272,876.4 273,874.5 274,875.4 275,876.2 276,876.1 277,874.3 278,875.9 279,875.6 280,875.3 281,876.1 282,875.8 283,874.7 284,875.2 285,875.3 286,874.7 287,874.5 288,872.3 289,875.4 290,875.0 291,875.8 292,874.2 293,875.2 294,875.3 295,874.8 296,873.1 297,868.9 298,866.9 299,875.1 300,857.7 301,854.8 301.3,854.9 302,855.6 303,858.8 304,864.0 305,868.3 306,871.2 307,873.7 308,874.5 309,874.4 310,875.6 311,874.8 312,874.5 313,875.1 314,876.1 315,876.3 316,876.7 317,874.0 318,875.6 319,876.9 320,876.0 321,877.1 322,877.5 323,876.9 324,876.4 325,876.2 326,877.2 327,873.6 328,876.5 329,876.9 330,876.5 331,876.8 332,876.4 333,874.8 334,873.8 335,876.0 336,875.8 337,875.5 338,873.1 339,875.7 340,876.7 341,876.9 342,876.3 343,876.9 344,876.9 345,876.6 346,875.9 347,877.2 348,876.8 349,877.3 350,877.3 351,877.1 352,877.3 353,876.9 354,876.5 355,876.1 356,875.5 357,876.7 358,876.7 359,876.6 360,876.7 361,875.8 362,875.1 363,875.8 364,876.2 365,876.2 366,876.1 367,875.8 368,876.7 369,873.6 370,875.6 371,875.9 372,875.6 373,876.0 374,875.5 375,875.7 376,874.5 377,875.5 378,875.3 379,875.9 380,875.3 381,875.3 382,875.3 383,875.2 384,873.9 385,875.1 386,869.6 387,865.8 388,857.5 389,849.5 390,845.3 391,848.6 392,856.7 393,865.5 394,869.3 395,874.2 396,873.6 397,874.4 398,875.6 399,875.8 400,875.9 401,876.0 402,876.6 403,872.9 404,872.9 405,876.3 406,875.7 407,876.2 408,876.5 409,875.9 410,874.9 411,871.3 412,872.7 413,871.1 414,870.3 415,876.8 416,876.9 416.6,867.6 417,867.2 418,874.1 419,869.6 420,866.8 421,872.4 422,873.6 423,874.7 424,875.4 425,875.6 426,875.3 427,876.0 428,875.6 429,876.4 430,876.4 431,876.5 432,876.3 433,876.0 434,874.7 435,875.9 436,875.7 437,876.8 438,876.7 439,872.1 440,876.5 441,876.3 442,876.9 443,876.9 444,876.5 445,875.5 446,877.7 447,876.9 448,878.2 449,877.2 450,877.8 451,877.9 452,877.9 453,877.8 454,876.9 455,877.4 456,877.0 457,876.4 458,876.7 459,877.1 460,877.2 461,875.9 462,876.9 463,876.5 464,877.0 465,876.9 466,876.8 467,872.8 468,876.3 469,876.7 470,876.8 471,876.7 472,876.4 473,877.2 474,874.0 475,876.9 476,875.4 477,876.7 478,876.5 479,877.4 480,876.9 481,875.0 482,877.6 483,877.1 484,876.8 485,877.4 486,877.2 487,877.0 488,877.0 489,876.7 490,876.7 491,876.3 492,876.2 493,876.2 494,876.6 495,876.2 496,876.3 497,876.9 498,876.9 499,876.5 500,876.7 501,876.9 502,877.2 503,875.3 504,876.4 505,877.2 506,877.0 507,875.6 508,875.6 509,875.1 510,874.3 511,876.2 512,877.2 513,876.9 514,876.3 515,876.2 516,877.0 517,876.9 518,876.2 519,876.5 520,876.9 521,876.0 522,877.1 523,876.3 524,876.7 525,877.2 526,877.0 527,876.9 528,876.1 529,876.8 530,876.8 531,877.2 532,876.8 533,873.6 534,875.9 535,877.2 536,877.1 537,877.1 538,876.9 539,877.1 540,877.0 541,875.7 542,877.1 543,875.7 544,876.4 545,876.8 546,876.5 547,876.5 548,876.5 549,872.9 550,874.7 551,875.8 552,876.5 553,873.6 554,874.7 555,876.1 556,876.4 557,875.7 558,876.2 559,876.2 560,876.9 561,876.7 562,876.8 563,876.7 564,876.8 565,877.0 566,876.9 567,876.5 568,876.1 569,875.4 570,876.7 571,876.1 572,876.2 573,876.6 574,876.6 575,876.0 576,875.7 577,876.4 578,876.5 579,876.4 580,876.6 581,876.5 582,875.4 583,875.3 584,876.4 585,876.5 586,876.2 587,876.0 588,876.5 589,875.4 590,876.0 591,876.6 592,876.0 593,876.6 594,876.0 595,875.5 596,876.1 597,874.6 598,875.1 599,874.8 600,874.1 601,874.4 602,874.5 603,874.0 604,873.9 605,871.7 606,872.8 607,871.0 608,875.6 609,870.3 610,869.5 611,868.1 612,873.9 613,876.4 614,860.8 615,858.9 616,855.5 617,851.4 618,846.1 619,838.7 620,828.1 621,814.1 622,799.6 622.7,796.2 623,796.7 624,808.0 625,822.6 626,833.0 627,841.9 628,847.3 629,849.4 630,852.5 631,853.9 632,854.7 633,855.3 634,856.6 635,858.4 636,861.1 637,871.3 638,865.5 639,868.7 640,870.9 641,871.5 642,872.9 643,873.0 644,874.3 645,873.9 646,874.9 647,875.1 648,874.8 649,875.0 650,875.0 651,874.9 652,875.5 653,875.4 654,875.3 655,875.4 656,875.5 657,876.2 658,876.1 659,876.4 660,875.3 661,876.2 662,876.2 663,875.8 664,875.9 665,876.5 666,876.1 667,875.1 668,872.8 669,875.7 670,876.3 671,876.2 672,876.1 673,876.3 674,876.5 675,876.4 676,875.4 677,876.2 678,876.2 679,875.9 680,874.1 681,876.5 682,875.0 683,875.5 684,875.3 685,875.6 686,875.6 687,876.4 688,875.5 689,875.6 690,875.5 691,875.4 692,876.0 693,875.5 694,875.2 695,875.0 696,874.6 697,876.4 698,873.3 699,872.4 700,871.1 701,869.0 702,865.5 703,855.3 704,833.3 705,789.8 706,742.2 706.5,733.5 707,742.0 708,789.8 709,833.2 710,856.2 711,876.1 712,875.1 713,870.9 714,872.5 715,872.7 716,873.8 717,874.5 718,874.5 719,874.4 720,872.2 721,874.3 722,875.5 723,875.8 724,875.6 725,875.6 726,876.4 727,876.3 728,876.1 729,875.4 730,876.4 731,875.4 732,876.1 733,876.0 734,875.8 735,875.9 736,875.1 737,874.8 738,875.6 739,874.1 740,875.7 741,876.0 742,874.3 743,872.6 744,876.4 745,875.5 746,876.6 747,876.0 748,876.6 749,876.0 750,876.2 751,875.9 752,876.1 753,876.5 754,876.4 755,876.6 756,875.9 757,875.7 758,875.9 759,875.9 760,874.8 761,876.8 762,871.2 763,876.8 763.3,869.9 764,870.4 765,872.0 766,872.6 767,874.4 768,872.7 769,873.7 770,876.3 771,875.7 772,875.3 773,876.3 774,876.0 775,874.5 776,874.9 777,875.6 778,876.7 779,876.5 780,875.3 781,876.1 782,876.3 783,875.6 784,875.5 785,875.4 786,875.4 787,875.0 788,875.3 789,873.9 790,871.0 791,866.5 792,860.6 793,855.6 793.5,854.9 794,855.1 795,860.2 796,866.4 797,870.6 798,873.3 799,875.1 800,875.3 801,874.1 802,875.9 803,875.7 804,875.4 805,876.1 806,876.2 807,876.5 808,876.6 809,876.8 810,876.5 811,876.6 812,876.6 813,876.7 814,876.7 815,874.4 816,873.5 817,876.3 818,873.2 819,876.8 820,876.2 821,876.6 822,876.0 823,876.0 824,875.5 825,876.4 826,876.1 827,875.8 828,876.0 829,876.1 830,873.3 831,876.3 832,876.1 833,874.8 834,876.5 835,876.5 836,876.6 837,876.3 838,876.1 839,876.5 840,875.4 841,876.4 842,875.5 843,875.9 844,876.2 845,874.4 846,876.2 847,875.0 848,875.7 849,876.9 850,877.1 851,876.9 852,873.8 853,875.8 854,877.1 855,876.5 856,876.4 857,876.3 858,875.8 859,876.4 860,875.9 861,875.2 862,875.5 863,875.3 864,875.2 865,874.4 866,874.3 867,873.4 868,871.8 869,872.1 870,871.2 871,870.2 872,874.9 873,867.1 874,867.2 875,877.0 876,865.9 876.8,866.4 877,866.0 878,866.0 879,866.9 880,867.7 881,868.5 882,869.0 883,868.8 884,870.7 885,870.7 886,873.3 887,873.8 888,874.4 889,874.7 890,875.5 891,875.4 892,876.2 893,875.8 894,875.7 895,876.2 896,875.6 897,876.0 898,876.3 899,875.9 900,876.8 901,876.4 902,876.2 903,875.8 904,876.5 905,876.9 906,876.5 907,876.2 908,876.8 909,876.6 910,875.2 911,876.0 912,876.2 913,876.4 914,875.7 915,876.3 916,876.0 917,875.9 918,875.4 919,874.9 920,874.6 921,873.3 922,869.7 922.6,870.8 923,874.9 924,872.3 925,874.3 926,875.4 927,875.3 928,876.2 929,874.2 930,875.9 931,876.1 932,876.2 933,876.1 934,876.0 935,876.2 936,874.6 937,876.2 938,876.5 939,875.6 940,876.4 941,874.3 942,876.5 943,875.1 944,876.9 945,876.2 946,876.6 947,875.4 948,876.3 949,876.4 950,876.5 951,876.1 952,875.3 953,873.5 954,875.1 955,876.3 956,872.8 957,875.4 958,875.6 959,875.7 960,876.3 961,875.9 962,875.6 963,874.6 964,875.9 965,875.4 966,876.0 967,875.7 968,875.7 969,875.1 970,875.0 971,872.7 972,871.3 973,866.9 974,858.3 975,839.3 976,809.6 977,779.6 977.5,774.8 978,779.5 979,809.4 980,839.2 981,858.1 982,866.9 983,869.9 984,871.9 985,872.7 986,871.3 987,875.9 988,874.6 989,871.9 990,874.6 991,875.3 992,875.3 993,876.1 994,875.8 995,874.3 996,875.4 997,876.2 998,876.2 999,876.4 1000,875.3 1001,876.3 1002,876.4 1003,876.0 1004,875.7 1005,876.0 1006,874.8 1007,875.4 1008,876.3 1009,876.4 1010,876.5 1011,876.6 1012,875.6 1013,873.7 1014,877.2 1015,873.0 1016,877.3 1017,877.0 1018,876.3 1019,876.5 1020,876.8 1021,874.6 1022,875.6 1023,875.1 1024,874.3 1025,871.9 1026,868.9 1027,866.8 1028,868.8 1029,870.4 1030,874.4 1031,875.8 1032,876.2 1033,876.4 1034,876.9 1035,873.0 1036,874.2 1037,877.0 1038,876.8 1039,877.1 1040,876.5 1041,877.2 1042,877.2 1043,876.8 1044,876.2 1045,876.9 1046,876.7 1047,877.2 1048,877.1 1049,873.6 1050,876.7 1051,874.0 1052,877.4 1053,877.3 1054,877.1 1055,875.7 1056,874.1 1057,874.3 1058,876.5 1059,875.4 1060,876.1 1061,875.7 1062,876.1 1063,874.3 1064,873.8 1065,876.4 1066,875.5 1067,875.6 1068,876.1 1069,875.7 1070,876.0 1071,876.1 1072,875.2 1073,874.1 1074,875.2 1075,875.2 1076,875.4 1077,874.9 1078,874.8 1079,874.3 1080,872.7 1081,873.5 1082,876.2 1083,868.8 1084,869.6 1085,867.9 1086,864.5 1087,862.8 1088,860.5 1089,858.4 1089.7,858.5 1090,858.3 1091,859.6 1092,861.5 1093,874.8 1094,866.1 1095,868.1 1096,869.7 1097,876.2 1098,871.0 1099,870.4 1100,870.3 1101,869.6 1102,868.8 1103,869.6 1104,869.2 1105,875.6 1106,872.3 1107,872.5 1108,873.4 1109,873.5 1110,874.3 1111,874.8 1112,874.2 1113,875.4 1114,875.7 1115,873.8 1116,875.0 1117,875.6 1118,876.0 1119,876.4 1120,875.8 1121,876.6 1122,876.0 1123,876.9 1124,877.2 1125,876.9 1126,876.7 1127,877.3 1128,877.3 1129,877.2 1130,877.6 1131,877.4 1132,876.9 1133,877.7 1134,877.1 1135,877.1 1136,877.2 1137,875.8 1138,876.7 1139,876.5 1140,876.0 1141,876.6 1142,874.0 1143,876.4 1144,876.0 1145,876.6 1146,876.6 1147,876.4 1148,876.1 1149,876.9 1150,874.0 1151,876.9 1152,875.9 1153,876.3 1154,876.4 1155,875.6 1156,876.6 1157,875.4 1158,876.1 1159,875.3 1160,875.2 1161,874.8 1162,875.9 1163,875.9 1164,875.9 1165,872.9 1166,874.4 1167,876.2 1168,875.9 1169,876.1 1170,876.2 1171,876.4 1172,876.4 1173,876.2 1174,876.5 1175,876.6 1176,876.7 1177,874.3 1178,876.4 1179,876.9 1180,876.4 1181,875.5 1182,876.6 1183,876.5 1184,876.4 1185,876.5 1186,876.5 1187,875.8 1188,875.9 1189,876.6 1190,875.5 1191,876.5 1192,876.5 1193,876.5 1194,876.4 1195,876.4 1196,876.0 1197,876.6 1198,876.0 1199,876.7 1200,876.8 1201,876.6 1202,877.0 1203,876.3 1204,874.4 1205,876.9 1206,877.1 1207,875.6 1208,877.2 1209,877.0 1210,877.1 1211,876.7 1212,876.4 1213,875.5 1214,876.9 1215,876.5 1216,876.5 1217,876.8 1218,876.9 1219,877.0 1220,876.5 1221,876.1 1222,876.8 1223,876.7 1224,876.8 1225,874.4 1226,877.1 1227,876.8 1228,877.2 1229,876.9 1230,877.5 1231,877.6 1232,877.4 1233,877.1 1234,877.2 1235,876.6 1236,876.6 1237,876.7 1238,876.5 1239,876.8 1240,873.8 1241,875.9 1242,876.6 1243,876.2 1244,876.8 1245,875.9 1246,876.7 1247,875.7 1248,876.8 1249,876.3 1250,876.6 1251,875.1 1252,876.6 1253,876.5 1254,876.9 1255,876.7 1256,876.1 1257,877.1 1258,876.4 1259,877.3 1260,876.1 1261,876.9 1262,877.1 1263,877.4 1264,876.6 1265,876.1 1266,877.3 1267,877.5 1268,877.2 1269,877.1 1270,876.9 1271,876.1 1272,875.7 1273,875.4 1274,874.8 1275,877.3 1276,873.6 1277,871.2 1278,867.0 1279,858.9 1280,845.0 1281,830.2 1282,819.7 1282.2,819.5 1283,823.9 1284,839.3 1285,854.2 1286,876.8 1287,866.5 1288,872.9 1289,872.5 1290,877.2 1291,875.3 1292,872.2 1293,875.5 1294,876.0 1295,876.2 1296,875.7 1297,876.1 1298,875.7 1299,875.4 1300,872.2 1301,871.8 1302,876.0 1303,875.7 1304,875.4 1305,876.2 1306,875.9 1307,876.2 1308,876.9 1309,877.0 1310,877.0 1311,877.4 1312,875.1 1313,876.4 1314,877.5 1315,877.0 1316,876.4 1317,875.3 1318,877.0 1319,875.8 1320,876.8 1321,876.9 1322,876.7 1323,876.7 1324,877.2 1325,877.0 1326,876.5 1327,876.9 1328,873.7 1329,877.5 1330,877.8 1331,878.0 1332,877.5 1333,877.9 1334,877.6 1335,874.9 1336,877.0 1337,876.7 1338,876.0 1339,877.0 1340,876.3 1341,876.2 1342,874.6 1343,876.6 1344,875.9 1345,875.5 1346,873.8 1347,876.2 1348,876.0 1349,873.3 1350,876.4 1351,876.4 1352,876.4 1353,874.4 1354,875.0 1355,876.7 1356,876.8 1357,874.6 1358,876.1 1359,876.3 1360,876.7 1361,873.8 1362,876.6 1363,877.1 1364,873.2 1365,877.2 1366,874.2 1367,876.1 1368,876.3 1369,876.5 1370,873.8 1371,873.7 1372,876.2 1373,876.5 1374,874.9 1375,876.8 1376,876.7 1377,876.5 1378,876.9 1379,876.9 1380,875.8 1381,876.1 1382,875.1 1383,876.4 1384,876.6 1385,875.1 1386,876.1 1387,876.6 1388,877.0 1389,876.5 1390,875.6 1391,873.2 1392,876.8 1393,876.9 1394,876.7 1395,876.8 1396,877.0 1397,876.8 1398,876.9 1399,875.2 1400,876.5 1401,874.9 1402,873.2 1403,877.0 1404,876.1 1405,876.2 1406,874.6 1407,876.2 1408,876.1 1409,875.9 1410,875.4 1411,875.6 1412,875.5 1413,875.6 1414,875.4 1415,876.1 1416,876.3 1417,876.0 1418,876.4 1419,875.1 1420,876.3 1421,875.4 1422,874.6 1423,874.0 1424,875.8 1425,876.0 1426,875.1 1427,875.5 1428,876.1 1429,875.5 1430,875.8 1431,875.4 1432,874.3 1433,873.6 1434,874.3 1435,876.4 1436,872.2 1437,875.2 1438,870.6 1439,875.0 1440,866.0 1441,859.3 1442,844.1 1443,812.0 1444,761.4 1445,715.0 1445.4,709.4 1446,721.0 1447,771.7 1448,818.1 1449,846.2 1450,856.2 1451,860.9 1452,861.3 1453,861.2 1453.5,861.6 1454,862.1 1455,862.6 1456,866.6 1457,869.0 1458,869.3 1459,870.7 1460,870.9 1461,870.3 1462,868.6 1463,868.7 1464,873.2 1465,867.4 1466,866.8 1467,866.0 1468,863.7 1469,864.7 1470,864.5 1470.4,864.9 1471,865.0 1472,865.2 1473,876.6 1474,866.7 1475,873.7 1476,868.9 1477,870.0 1478,871.1 1479,872.2 1480,872.6 1481,872.9 1482,873.0 1483,874.3 1484,874.7 1485,875.0 1486,875.2 1487,875.6 1488,872.4 1489,874.9 1490,873.5 1491,875.5 1492,875.6 1493,875.9 1494,875.4 1495,876.1 1496,875.5 1497,876.0 1498,875.7 1499,876.1 1500,873.4 1501,876.0 1502,875.4 1503,875.7 1504,874.1 1505,875.5 1506,873.5 1507,877.5 1508,875.2 1509,876.3 1510,874.6 1511,877.6 1512,874.0 1513,876.4 1514,872.7 1515,876.1 1516,873.2 1517,871.9 1518,872.7 1519,873.4 1520,873.5 1521,870.8 1522,873.6 1523,873.7 1524,874.1 1525,875.3 1526,871.4 1527,875.7 1528,875.6 1529,875.5 1530,875.2 1531,876.1 1532,876.3 1533,876.2 1534,874.3 1535,876.3 1536,875.6 1537,876.6 1538,876.1 1539,876.1 1540,876.1 1541,876.7 1542,876.4 1543,876.4 1544,876.9 1545,877.0 1546,877.0 1547,876.3 1548,875.9 1549,876.3 1550,876.8 1551,876.2 1552,876.3 1553,876.4 1554,876.9 1555,876.8 1556,876.5 1557,876.5 1558,876.1 1559,876.0 1560,876.3 1561,876.2 1562,875.5 1563,875.7 1564,874.5 1565,874.4 1566,873.2 1567,872.1 1568,868.3 1569,861.2 1570,854.8 1571,848.1 1571.7,846.4 1572,846.4 1573,851.7 1574,859.3 1575,866.3 1576,870.7 1577,873.3 1578,876.7 1579,872.3 1580,875.4 1581,875.1 1582,875.9 1583,874.7 1584,875.6 1585,872.3 1586,875.8 1587,873.3 1588,876.7 1589,876.2 1590,876.1 1591,875.5 1592,876.8 1593,876.9 1594,876.5 1595,875.5 1596,876.9 1597,874.1 1598,877.0 1599,876.6 1600,875.3 1601,876.4 1602,876.7 1603,876.7 1604,874.9 1605,876.6 1606,876.9 1607,876.8 1608,876.9 1609,877.1 1610,877.0 1611,876.6 1612,876.7 1613,874.7 1614,876.9 1615,876.9 1616,875.2 1617,876.7 1618,876.6 1619,876.5 1620,876.9 1621,873.7 1622,876.3 1623,876.7 1624,877.0 1625,876.7 1626,875.5 1627,874.0 1628,877.2 1629,876.5 1630,877.0 1631,876.3 1632,876.2 1633,873.4 1634,876.6 1635,876.1 1636,875.6 1637,875.9 1638,876.5 1639,872.8 1640,876.8 1641,876.9 1642,874.6 1643,876.6 1644,876.4 1645,874.8 1646,876.8 1647,877.1 1648,876.8 1649,876.6 1650,877.0 1651,877.1 1652,877.2 1653,875.6 1654,876.2 1655,876.6 1656,876.8 1657,876.9 1658,876.7 1659,876.9 1660,876.4 1661,876.7 1662,876.6 1663,873.6 1664,876.6 1665,876.5 1666,876.2 1667,876.2 1668,876.1 1669,876.0 1670,875.8 1671,876.5 1672,876.4 1673,876.3 1674,876.5 1675,876.0 1676,875.4 1677,874.3 1678,877.0 1679,876.9 1680,876.7 1681,876.4 1682,876.7 1683,876.4 1684,876.3 1685,876.7 1686,873.7 1687,877.1 1688,875.8 1689,877.0 1690,876.9 1691,876.5 1692,876.0 1693,876.6 1694,875.5 1695,876.5 1696,876.5 1697,875.8 1698,874.1 1699,873.6 1700,871.7 1701,869.7 1702,868.4 1702.6,868.0 1703,874.9 1704,869.2 1705,871.3 1706,873.2 1707,874.6 1708,874.8 1709,875.4 1710,876.7 1711,876.0 1712,877.0 1713,876.9 1714,876.3 1715,875.7 1716,876.7 1717,876.7 1718,876.6 1719,876.4 1720,876.9 1721,876.1 1722,876.1 1723,876.7 1724,876.1 1725,876.1 1726,874.9 1727,875.8 1728,876.1 1729,876.3 1730,876.4 1731,876.3 1732,875.9 1733,876.1 1734,875.3 1735,875.7 1736,876.6 1737,874.1 1738,871.7 1739,867.2 1740,859.0 1741,846.9 1742,835.5 1742.8,831.9 1743,831.8 1744,839.1 1745,852.2 1746,862.9 1747,866.9 1748,872.0 1749,876.1 1750,874.9 1751,875.6 1752,875.4 1753,876.4 1754,874.9 1755,874.7 1756,876.1 1757,877.2 1758,876.7 1759,876.0 1760,875.0 1761,876.5 1762,876.9 1763,873.1 1764,876.9 1765,876.8 1766,876.8 1767,875.3 1768,876.8 1769,876.4 1770,876.7 1771,876.4 1772,876.7 1773,875.0 1774,875.3 1775,875.6 1776,876.5 1777,876.0 1778,875.5 1779,875.0 1780,875.9 1781,876.2 1782,875.1 1783,875.8 1784,873.6 1785,875.6 1786,874.3 1787,876.1 1788,874.9 1789,875.4 1790,875.1 1791,874.3 1792,874.4 1793,873.6 1794,869.6 1795,868.7 1796,861.7 1797,853.4 1798,840.8 1799,830.5 1799.7,827.9 1800,828.1 1801,836.2 1802,848.6 1803,858.4 1804,876.6 1805,870.2 1806,871.1 1807,873.3 1808,875.1 1809,875.0 1810,875.1 1811,875.4 1812,875.5 1813,876.3 1814,876.1 1815,876.6 1816,876.5 1817,876.4 1818,875.5 1819,876.8 1820,876.3 1821,875.6 1822,876.6 1823,876.1 1824,876.5 1825,876.3 1826,876.4 1827,875.2 1828,876.1 1829,875.4 1830,877.0 1831,877.0 1832,877.3 1833,876.6 1834,877.1 1835,875.9 1836,876.9 1837,876.8 1838,877.3 1839,877.0 1840,877.0 1841,876.7 1842,875.9 1843,876.5 1844,877.0 1845,876.9 1846,876.8 1847,877.2 1848,877.5 1849,876.2 1850,877.4 1851,877.9 1852,877.5 1853,877.6 1854,877.8 1855,877.1 1856,877.3 1857,877.6 1858,876.0 1859,877.3 1860,877.5 1861,877.3 1862,877.7 1863,876.9 1864,876.9 1865,877.1 1866,875.8 1867,876.4 1868,875.7 1869,874.1 1870,876.1 1871,875.9 1872,875.7 1873,876.0 1874,876.3 1875,876.1 1876,875.6 1877,875.4 1878,876.1 1879,875.8 1880,875.8 1881,872.2 1882,875.8 1883,875.5 1884,876.3 1885,875.8 1886,876.5 1887,876.7 1888,875.4 1889,876.4 1890,876.8 1891,876.2 1892,877.0 1893,877.0 1894,877.1 1895,877.5 1896,876.9 1897,876.8 1898,877.0 1899,877.3 1900,877.7 1901,877.6 1902,876.8 1903,876.2 1904,876.3 1905,877.2 1906,877.4 1907,877.4 1908,877.1 1909,876.3 1910,877.0 1911,877.1 1912,877.0 1913,877.2 1914,876.6 1915,876.5 1916,877.0 1917,877.2 1918,877.1 1919,876.9 1920,876.5 1921,876.9 1922,877.3 1923,877.0 1924,877.2 1925,877.2 1926,877.1 1927,876.4 1928,876.8 1929,876.4 1930,876.3 1931,876.7 1932,875.6 1933,876.1 1934,872.6 1935,876.4 1936,876.2 1937,876.8 1938,877.0 1939,876.8 1940,876.9 1941,876.6 1942,877.2 1943,877.0 1944,876.3 1945,875.1 1946,876.1 1947,876.1 1948,876.8 1949,875.7 1950,874.9 1951,874.2 1952,875.8 1953,876.2 1954,876.2 1955,875.1 1956,876.5 1957,876.4 1958,875.9 1959,877.1 1960,876.4 1961,875.6 1962,876.3 1963,876.8 1964,876.5 1965,877.1 1966,876.9 1967,877.0 1968,877.0 1969,876.9 1970,877.0 1971,877.0 1972,876.6 1973,875.1 1974,876.7 1975,876.3 1976,876.4 1977,876.6 1978,873.5 1979,876.8 1980,876.1 1981,876.1 1982,876.1 1983,876.3 1984,874.2 1985,876.5 1986,876.6 1987,876.1 1988,876.0 1989,876.8 1990,876.4 1991,876.7 1992,877.2 1993,876.4 1994,877.3 1995,877.3 1996,877.4 1997,877.0 1998,877.3 1999,876.9 2000,877.3 2001,877.5 2002,877.3 2003,877.9 2004,876.5 2005,877.2 2006,876.0 2007,877.8 2008,877.1 2009,876.8 2010,877.0 2011,876.1 2012,876.4 2013,876.1 2014,875.5 2015,876.0 2016,873.8 2017,876.6 2018,876.2 2019,876.5 2020,876.1 2021,876.8 2022,876.9 2023,877.4 2024,877.4 2025,874.5 2026,877.2 2027,874.0 2028,876.3 2029,876.4 2030,876.7 2031,876.7 2032,876.6 2033,875.9 2034,876.2 2035,876.3 2036,877.0 2037,877.4 2038,876.7 2039,875.8 2040,875.5 2041,876.8 2042,877.4 2043,877.1 2044,877.6 2045,877.6 2046,877.1 2047,877.0 2048,877.1 2049,873.7 2050,876.8 2051,877.1 2052,877.2 2053,876.7 2054,875.2 2055,876.6 2056,876.4 2057,875.8 2058,873.1 2059,876.0 2060,876.2 2061,876.0 2062,876.3 2063,876.4 2064,876.0 2065,876.2 2066,876.2 2067,874.7 2068,874.3 2069,875.5 2070,875.7 2071,875.9 2072,875.4 2073,875.7 2074,875.3 2075,877.1 2076,873.5 2077,874.1 2078,871.0 2079,871.9 2080,877.0 2081,861.9 2082,849.1 2083,826.6 2084,800.0 2085,785.9 2086,799.8 2087,826.4 2088,848.5 2089,861.5 2090,867.6 2091,870.3 2092,869.6 2093,870.8 2094,870.8 2095,868.0 2096,862.1 2097,855.0 2098,851.6 2099,855.6 2100,874.0 2101,868.5 2102,875.0 2103,873.8 2104,874.5 2105,871.8 2106,874.0 2107,874.6 2108,874.6 2109,876.2 2110,873.5 2111,873.5 2112,873.4 2113,875.9 2114,872.5 2115,874.8 2116,871.4 2117,871.9 2118,872.1 2119,875.6 2120,876.8 2121,876.7 2122,874.0 2123,876.0 2124,875.6 2125,875.8 2126,876.0 2127,876.4 2128,876.8 2129,876.1 2130,875.2 2131,876.0 2132,875.4 2133,876.6 2134,876.8 2135,877.0 2136,876.3 2137,877.2 2138,877.1 2139,876.2 2140,876.0 2141,876.7 2142,876.5 2143,876.6 2144,877.1 2145,875.0 2146,877.1 2147,877.0 2148,877.1 2149,877.3 2150,876.6 2151,876.3 2152,875.6 2153,876.5 2154,874.1 2155,876.0 2156,877.0 2157,876.2 2158,876.6 2159,876.5 2160,876.6 2161,877.0 2162,876.9 2163,877.0 2164,876.6 2165,875.0 2166,876.7 2167,876.5 2168,877.0 2169,876.0 2170,876.7 2171,875.7 2172,876.7 2173,876.5 2174,876.3 2175,874.7 2176,873.4 2177,876.7 2178,876.5 2179,876.5 2180,876.5" fill="none" stroke="#ff00ff" stroke-width="9.3" stroke-linejoin="round" stroke-linecap="butt"/>
<path d="M196,700.0 197,700.0 198,700.0 199,700.0 200,700.0 201,700.0 202,700.0 203,700.0 204,700.0 205,699.8 206,699.5 207,699.7 208,699.9 209,699.7 210,698.8 211,699.7 212,699.8 213,700.3 214,697.3 215,700.1 216,698.4 217,700.5 218,700.5 219,699.4 220,697.5 221,699.6 222,697.8 223,700.3 224,700.0 225,699.9 226,699.7 227,699.8 228,699.7 229,700.1 230,699.0 231,699.8 232,698.9 233,700.0 234,699.5 235,699.3 236,699.0 237,699.2 238,697.2 239,700.0 240,699.3 241,700.0 242,698.3 243,699.3 244,699.9 245,696.2 246,697.4 247,699.8 248,700.3 249,700.3 250,699.5 251,699.9 252,699.5 253,699.4 254,698.9 255,700.3 256,699.9 257,700.1 258,700.2 259,700.1 260,700.2 261,700.2 262,700.0 263,700.1 264,699.7 265,700.5 266,700.2 267,699.4 268,700.2 269,699.7 270,700.1 271,700.1 272,698.8 273,700.8 274,700.8 275,700.2 276,700.4 277,697.6 278,699.7 279,700.8 280,699.8 281,700.3 282,699.1 283,700.0 284,699.3 285,700.1 286,699.7 287,700.0 288,700.0 289,699.7 290,696.0 291,699.1 292,700.1 293,699.8 294,698.5 295,697.9 296,697.7 297,695.8 298,692.4 299,688.6 300,684.7 301,682.4 301.3,682.4 302,682.3 303,686.0 304,689.9 305,693.3 306,696.0 307,698.2 308,698.8 309,697.9 310,699.0 311,699.6 312,700.0 313,700.1 314,699.6 315,700.1 316,700.1 317,698.7 318,699.9 319,699.0 320,699.7 321,700.0 322,699.7 323,699.2 324,699.9 325,700.1 326,698.7 327,698.9 328,700.0 329,699.3 330,698.9 331,699.2 332,699.8 333,699.5 334,699.3 335,696.5 336,699.5 337,698.2 338,698.4 339,699.6 340,699.2 341,699.2 342,699.3 343,697.6 344,699.3 345,699.8 346,699.9 347,700.3 348,699.4 349,700.0 350,700.2 351,699.5 352,700.2 353,699.7 354,698.2 355,700.0 356,696.5 357,700.2 358,699.1 359,700.2 360,700.1 361,699.2 362,699.7 363,697.8 364,700.4 365,699.6 366,700.4 367,699.7 368,700.4 369,699.3 370,700.2 371,699.7 372,699.2 373,700.0 374,700.2 375,700.0 376,699.6 377,699.6 378,698.7 379,699.5 380,699.2 381,698.0 382,698.1 383,697.1 384,698.8 385,697.6 386,696.8 387,677.8 388,668.0 389,661.7 389.2,661.6 390,664.8 391,674.7 392,684.3 393,699.7 394,695.2 395,697.4 396,697.5 397,698.2 398,698.5 399,697.9 400,698.9 401,699.1 402,697.8 403,698.8 404,698.1 405,697.9 406,699.2 407,699.0 408,698.0 409,699.4 410,696.8 411,694.7 412,693.2 413,691.2 414,690.1 414.4,690.0 415,689.9 416,691.7 417,692.7 418,695.5 419,699.9 420,697.8 421,696.1 422,698.8 423,699.0 424,699.8 425,698.8 426,699.1 427,699.8 428,699.7 429,700.1 430,699.9 431,700.3 432,699.9 433,700.2 434,700.1 435,698.6 436,699.3 437,697.8 438,699.0 439,699.0 440,699.8 441,700.0 442,699.4 443,699.8 444,698.5 445,699.2 446,699.1 447,699.2 448,699.5 449,699.1 450,698.9 451,699.8 452,698.9 453,698.4 454,700.0 455,699.7 456,700.0 457,699.6 458,700.2 459,699.6 460,699.6 461,699.3 462,699.9 463,699.9 464,699.7 465,699.7 466,699.7 467,699.8 468,700.0 469,698.7 470,700.3 471,700.0 472,700.1 473,700.1 474,700.5 475,698.5 476,700.4 477,700.1 478,699.9 479,698.1 480,699.0 481,695.6 482,698.9 483,698.7 484,699.1 485,699.3 486,698.8 487,699.9 488,697.8 489,700.2 490,700.3 491,700.4 492,696.5 493,700.1 494,700.5 495,700.5 496,699.6 497,700.2 498,700.2 499,700.1 500,699.5 501,699.7 502,699.6 503,699.8 504,699.8 505,699.8 506,698.7 507,700.0 508,698.1 509,698.8 510,699.6 511,699.9 512,699.7 513,699.7 514,697.8 515,697.8 516,699.1 517,699.9 518,696.9 519,699.7 520,699.0 521,699.7 522,699.7 523,699.9 524,698.5 525,699.8 526,699.8 527,700.2 528,699.8 529,699.8 530,699.9 531,699.5 532,699.8 533,699.8 534,699.3 535,699.6 536,698.6 537,699.6 538,700.6 539,700.0 540,700.5 541,699.4 542,700.3 543,700.2 544,700.6 545,699.7 546,698.8 547,700.3 548,700.3 549,699.4 550,700.6 551,699.4 552,697.1 553,699.6 554,700.1 555,700.1 556,700.3 557,699.7 558,700.0 559,699.8 560,700.0 561,700.1 562,698.0 563,699.6 564,698.7 565,699.6 566,699.1 567,699.8 568,699.5 569,699.3 570,698.9 571,700.1 572,699.9 573,699.3 574,697.2 575,700.3 576,699.9 577,700.1 578,699.8 579,699.0 580,699.8 581,699.8 582,699.9 583,699.5 584,696.9 585,700.0 586,699.3 587,699.5 588,699.6 589,697.9 590,699.7 591,699.6 592,699.7 593,699.3 594,699.7 595,699.4 596,699.1 597,699.1 598,699.2 599,698.8 600,698.1 601,698.2 602,697.7 603,696.6 604,696.1 605,699.3 606,696.3 607,696.0 608,692.8 609,697.4 610,693.8 611,691.4 612,697.9 613,690.3 614,696.8 615,686.4 616,683.3 617,680.7 618,676.4 619,670.9 620,661.6 621,650.8 622,639.6 622.7,636.4 623,635.5 624,645.9 625,657.8 626,667.7 627,673.4 628,677.7 629,681.2 630,683.5 631,699.4 632,687.3 633,688.7 634,690.7 635,692.1 636,698.8 637,694.1 638,696.4 639,700.5 640,697.3 641,697.6 642,697.7 643,699.1 644,699.7 645,696.9 646,697.4 647,697.5 648,697.7 649,698.4 650,698.3 651,698.9 652,698.7 653,699.4 654,699.3 655,699.3 656,698.3 657,697.7 658,699.3 659,699.8 660,699.0 661,699.5 662,699.8 663,699.9 664,698.9 665,698.5 666,699.4 667,698.9 668,699.7 669,699.5 670,698.4 671,698.5 672,698.6 673,698.9 674,696.3 675,696.4 676,699.0 677,699.3 678,698.4 679,699.5 680,698.8 681,699.6 682,698.6 683,699.6 684,699.0 685,699.3 686,699.1 687,698.2 688,696.7 689,698.3 690,695.3 691,697.1 692,698.2 693,698.7 694,700.3 695,699.5 696,697.3 697,695.4 698,695.8 699,694.4 700,691.5 701,689.5 702,682.7 703,667.7 704,640.2 705,600.2 706,564.2 706.5,558.6 707,564.1 708,600.2 709,639.9 710,667.5 711,682.3 712,689.3 713,692.5 714,694.3 715,699.4 716,694.4 717,695.6 718,697.9 719,698.4 720,698.5 721,698.5 722,698.1 723,698.8 724,698.6 725,699.1 726,698.1 727,699.1 728,698.6 729,698.9 730,699.2 731,699.3 732,698.5 733,695.8 734,698.6 735,698.8 736,698.8 737,699.0 738,698.9 739,699.2 740,699.2 741,699.6 742,696.8 743,699.6 744,699.3 745,699.9 746,698.5 747,699.1 748,698.2 749,699.2 750,699.5 751,698.6 752,699.1 753,698.6 754,698.7 755,698.9 756,698.4 757,699.2 758,699.2 759,698.5 760,695.5 761,697.5 762,696.3 763,692.7 764,691.3 764.6,691.0 765,690.8 766,693.0 767,696.2 768,698.5 769,699.1 770,699.9 771,700.2 772,697.4 773,699.7 774,700.8 775,699.9 776,700.0 777,700.9 778,700.6 779,700.6 780,700.6 781,700.7 782,700.1 783,700.7 784,699.9 785,699.5 786,699.6 787,697.5 788,698.1 789,696.5 790,693.6 791,687.5 792,679.8 793,672.9 793.5,672.6 794,673.5 795,680.0 796,687.6 797,693.0 798,695.7 799,698.1 800,699.2 801,699.2 802,697.5 803,699.8 804,699.8 805,699.3 806,699.6 807,700.5 808,699.7 809,699.8 810,700.3 811,698.9 812,700.3 813,700.4 814,700.6 815,700.1 816,699.6 817,700.2 818,700.3 819,698.1 820,698.9 821,700.0 822,698.9 823,699.9 824,699.8 825,699.8 826,696.8 827,699.2 828,699.5 829,698.8 830,698.7 831,699.0 832,699.4 833,698.8 834,699.1 835,698.1 836,698.9 837,699.0 838,698.8 839,699.8 840,700.1 841,699.5 842,700.1 843,700.0 844,699.9 845,700.6 846,699.7 847,699.0 848,698.7 849,697.0 850,699.4 851,697.9 852,698.8 853,699.1 854,698.4 855,697.9 856,698.6 857,698.2 858,698.5 859,697.8 860,698.1 861,697.6 862,695.1 863,696.6 864,696.4 865,696.6 866,695.6 867,695.9 868,693.0 869,694.3 870,693.9 871,690.1 872,691.7 873,691.5 874,690.9 875,689.9 876,689.6 876.8,690.0 877,689.8 878,690.1 879,690.4 880,691.0 881,697.3 882,692.4 883,697.9 884,694.2 885,693.3 886,695.9 887,696.5 888,698.0 889,697.2 890,697.9 891,697.3 892,698.5 893,698.3 894,695.3 895,699.3 896,699.2 897,699.9 898,700.1 899,700.3 900,700.3 901,699.8 902,700.0 903,699.4 904,700.0 905,696.1 906,699.8 907,699.3 908,700.0 909,699.3 910,699.1 911,699.1 912,700.0 913,699.1 914,699.2 915,697.3 916,699.9 917,699.0 918,697.8 919,697.0 920,695.3 921,693.5 922,691.4 922.6,691.4 923,699.0 924,699.6 925,699.3 926,696.8 927,697.6 928,698.8 929,699.7 930,699.9 931,698.7 932,698.8 933,699.8 934,699.6 935,699.0 936,699.5 937,699.1 938,699.6 939,699.0 940,699.4 941,700.1 942,700.1 943,696.8 944,700.2 945,700.2 946,700.3 947,699.5 948,700.3 949,700.2 950,701.0 951,700.5 952,700.1 953,700.4 954,700.8 955,700.6 956,700.2 957,699.8 958,699.3 959,699.1 960,698.7 961,698.7 962,698.8 963,698.7 964,698.6 965,698.3 966,697.6 967,697.8 968,697.9 969,696.4 970,696.1 971,695.1 972,697.5 973,688.3 974,678.1 975,659.1 976,631.8 977,606.9 977.5,603.0 978,606.7 979,631.8 980,659.3 981,678.0 982,687.7 983,698.9 984,694.8 985,699.0 986,694.5 987,697.6 988,697.9 989,698.1 990,698.6 991,698.8 992,698.4 993,695.5 994,698.8 995,699.4 996,697.6 997,699.8 998,698.9 999,699.5 1000,699.5 1001,699.7 1002,698.8 1003,699.4 1004,696.9 1005,699.4 1006,699.2 1007,699.4 1008,699.5 1009,699.1 1010,696.3 1011,699.1 1012,699.1 1013,699.6 1014,698.2 1015,699.6 1016,698.4 1017,699.9 1018,699.9 1019,699.5 1020,700.0 1021,699.9 1022,699.8 1023,699.4 1024,699.5 1025,699.9 1026,700.0 1027,698.2 1028,700.0 1029,700.3 1030,700.6 1031,700.5 1032,699.8 1033,700.5 1034,700.6 1035,700.7 1036,700.1 1037,700.5 1038,700.4 1039,700.6 1040,699.8 1041,700.8 1042,700.7 1043,700.1 1044,700.7 1045,700.0 1046,700.0 1047,700.2 1048,699.9 1049,699.8 1050,698.6 1051,699.8 1052,698.9 1053,700.0 1054,699.2 1055,699.2 1056,696.9 1057,699.6 1058,699.7 1059,699.8 1060,699.0 1061,699.3 1062,699.8 1063,699.6 1064,697.1 1065,699.5 1066,700.2 1067,700.8 1068,700.5 1069,700.9 1070,700.0 1071,700.8 1072,699.9 1073,700.4 1074,700.0 1075,700.2 1076,699.8 1077,699.7 1078,699.4 1079,699.4 1080,697.2 1081,696.9 1082,697.7 1083,697.0 1084,700.0 1085,693.4 1086,691.4 1087,688.2 1088,684.8 1089,681.7 1089.7,681.9 1090,681.5 1091,682.4 1092,685.8 1093,696.8 1094,689.5 1095,692.3 1096,692.3 1097,692.6 1098,693.0 1099,693.0 1100,693.1 1101,693.6 1102,694.2 1103,694.3 1104,695.6 1105,698.2 1106,699.8 1107,694.6 1108,697.7 1109,698.2 1110,697.5 1111,698.7 1112,698.7 1113,699.2 1114,699.0 1115,698.3 1116,699.5 1117,699.5 1118,698.7 1119,699.0 1120,698.8 1121,699.1 1122,699.3 1123,699.1 1124,698.7 1125,699.2 1126,698.7 1127,699.6 1128,699.6 1129,699.5 1130,698.4 1131,698.5 1132,700.1 1133,699.5 1134,697.8 1135,699.9 1136,700.1 1137,696.5 1138,699.2 1139,699.9 1140,700.1 1141,696.8 1142,700.2 1143,699.5 1144,700.0 1145,699.8 1146,698.9 1147,699.8 1148,699.3 1149,698.9 1150,700.2 1151,700.3 1152,699.9 1153,699.2 1154,700.6 1155,700.1 1156,700.5 1157,700.7 1158,699.9 1159,700.5 1160,700.5 1161,698.8 1162,699.9 1163,699.5 1164,700.1 1165,700.2 1166,700.4 1167,700.3 1168,699.9 1169,700.4 1170,700.3 1171,700.3 1172,699.8 1173,700.0 1174,700.1 1175,699.4 1176,699.8 1177,699.5 1178,699.3 1179,699.6 1180,698.6 1181,699.6 1182,699.5 1183,699.3 1184,697.8 1185,696.7 1186,699.1 1187,699.5 1188,699.2 1189,699.5 1190,699.7 1191,698.0 1192,700.0 1193,699.7 1194,699.7 1195,700.1 1196,699.7 1197,700.1 1198,700.4 1199,699.1 1200,697.2 1201,698.3 1202,700.4 1203,699.9 1204,700.4 1205,700.7 1206,699.5 1207,700.5 1208,700.8 1209,700.2 1210,700.6 1211,697.7 1212,700.5 1213,700.0 1214,700.3 1215,700.5 1216,700.7 1217,700.4 1218,700.5 1219,696.4 1220,699.6 1221,698.8 1222,698.3 1223,700.2 1224,699.8 1225,700.1 1226,700.4 1227,699.5 1228,700.6 1229,700.9 1230,700.3 1231,699.8 1232,700.7 1233,700.8 1234,700.7 1235,697.9 1236,700.4 1237,696.5 1238,699.5 1239,700.0 1240,699.1 1241,700.5 1242,700.5 1243,699.8 1244,699.2 1245,699.8 1246,700.2 1247,700.0 1248,699.9 1249,699.7 1250,699.4 1251,699.2 1252,698.6 1253,696.0 1254,698.9 1255,699.3 1256,699.9 1257,699.0 1258,700.3 1259,696.7 1260,700.3 1261,699.7 1262,698.9 1263,698.9 1264,699.8 1265,699.2 1266,699.4 1267,699.3 1268,698.5 1269,698.2 1270,698.7 1271,694.9 1272,698.1 1273,697.8 1274,696.8 1275,699.1 1276,699.3 1277,689.9 1278,684.1 1279,673.6 1280,660.4 1281,648.6 1281.7,645.6 1282,646.0 1283,655.2 1284,668.6 1285,680.6 1286,688.3 1287,693.1 1288,695.7 1289,697.0 1290,697.9 1291,698.5 1292,698.1 1293,698.6 1294,699.1 1295,697.6 1296,699.2 1297,699.1 1298,699.4 1299,699.2 1300,699.8 1301,696.6 1302,699.7 1303,699.4 1304,700.1 1305,700.0 1306,700.0 1307,699.4 1308,699.1 1309,699.8 1310,699.4 1311,699.9 1312,699.8 1313,699.3 1314,699.5 1315,699.7 1316,697.7 1317,699.0 1318,697.0 1319,700.3 1320,700.3 1321,699.9 1322,699.9 1323,699.9 1324,699.3 1325,699.9 1326,699.1 1327,700.0 1328,699.3 1329,700.3 1330,699.8 1331,699.8 1332,700.4 1333,699.4 1334,700.3 1335,700.2 1336,699.7 1337,700.1 1338,700.4 1339,697.0 1340,699.7 1341,700.3 1342,700.3 1343,699.7 1344,699.7 1345,700.0 1346,699.7 1347,699.1 1348,698.5 1349,696.2 1350,699.8 1351,700.0 1352,700.2 1353,700.1 1354,700.1 1355,699.9 1356,700.8 1357,700.8 1358,701.1 1359,700.7 1360,700.9 1361,700.0 1362,700.8 1363,700.7 1364,700.2 1365,698.2 1366,700.9 1367,701.0 1368,700.7 1369,698.3 1370,699.7 1371,700.9 1372,700.6 1373,700.0 1374,699.9 1375,700.4 1376,701.2 1377,700.7 1378,700.9 1379,701.0 1380,699.2 1381,700.6 1382,699.7 1383,700.2 1384,700.5 1385,700.1 1386,699.2 1387,700.1 1388,700.6 1389,700.5 1390,700.3 1391,700.7 1392,700.7 1393,700.9 1394,700.5 1395,697.7 1396,700.0 1397,700.3 1398,699.0 1399,700.5 1400,700.4 1401,700.1 1402,699.8 1403,699.5 1404,700.3 1405,699.5 1406,699.6 1407,699.8 1408,698.8 1409,700.5 1410,699.8 1411,697.7 1412,700.4 1413,698.2 1414,699.9 1415,699.2 1416,699.7 1417,699.9 1418,698.3 1419,695.8 1420,699.1 1421,698.7 1422,699.3 1423,698.9 1424,699.3 1425,695.9 1426,698.5 1427,699.0 1428,698.0 1429,698.5 1430,693.7 1431,697.7 1432,697.6 1433,697.1 1434,695.5 1435,695.6 1436,698.9 1437,693.0 1438,699.2 1439,688.8 1440,682.7 1441,670.7 1442,646.9 1443,607.7 1444,558.8 1445,525.6 1445.2,525.4 1446,541.3 1447,587.3 1448,630.8 1449,658.8 1450,671.8 1451,674.9 1452,676.2 1453,677.1 1453.2,677.6 1454,679.3 1455,682.7 1456,686.4 1457,689.7 1458,691.3 1459,699.1 1460,693.7 1461,692.6 1462,696.5 1463,697.6 1464,696.9 1465,689.4 1466,688.4 1467,687.8 1468,698.2 1469,695.0 1470,687.4 1471,688.1 1472,689.1 1473,690.3 1474,691.6 1475,692.3 1476,693.6 1477,699.1 1478,695.0 1479,696.9 1480,697.1 1481,698.3 1482,698.3 1483,698.6 1484,698.1 1485,698.4 1486,698.0 1487,699.4 1488,699.2 1489,699.3 1490,699.6 1491,699.2 1492,698.8 1493,699.4 1494,699.5 1495,699.7 1496,700.1 1497,700.2 1498,700.1 1499,700.2 1500,700.2 1501,700.0 1502,699.3 1503,698.8 1504,698.8 1505,696.5 1506,696.8 1507,697.1 1508,700.3 1509,696.9 1510,696.4 1511,698.2 1512,698.9 1513,696.1 1514,699.2 1515,700.0 1516,698.0 1517,699.9 1518,699.4 1519,698.3 1520,697.2 1521,697.0 1522,694.2 1523,699.2 1524,697.3 1525,698.4 1526,699.0 1527,699.1 1528,700.2 1529,700.0 1530,700.2 1531,700.4 1532,700.1 1533,699.8 1534,700.1 1535,699.7 1536,698.4 1537,699.3 1538,696.7 1539,700.0 1540,699.6 1541,699.3 1542,699.9 1543,700.0 1544,700.2 1545,700.4 1546,700.4 1547,697.3 1548,697.7 1549,700.0 1550,697.3 1551,699.5 1552,698.7 1553,699.1 1554,696.7 1555,699.0 1556,698.4 1557,699.3 1558,699.1 1559,699.2 1560,699.0 1561,699.0 1562,698.9 1563,696.0 1564,698.0 1565,694.6 1566,693.6 1567,690.3 1568,683.6 1569,674.7 1570,666.6 1570.8,664.1 1571,663.9 1572,669.4 1573,678.3 1574,685.5 1575,698.8 1576,699.0 1577,696.8 1578,698.3 1579,698.4 1580,699.0 1581,699.3 1582,696.1 1583,699.4 1584,699.7 1585,699.5 1586,698.3 1587,699.9 1588,700.4 1589,699.3 1590,700.5 1591,700.0 1592,700.6 1593,699.8 1594,699.6 1595,699.9 1596,700.3 1597,697.5 1598,699.2 1599,699.4 1600,699.9 1601,699.5 1602,699.7 1603,698.8 1604,699.3 1605,700.8 1606,701.1 1607,700.6 1608,701.0 1609,698.2 1610,701.2 1611,700.9 1612,700.2 1613,700.4 1614,700.4 1615,700.1 1616,698.5 1617,699.5 1618,698.6 1619,699.7 1620,699.2 1621,700.2 1622,700.1 1623,700.4 1624,700.4 1625,700.3 1626,700.4 1627,700.7 1628,700.7 1629,700.7 1630,700.2 1631,697.2 1632,699.2 1633,699.7 1634,698.8 1635,698.6 1636,699.7 1637,699.4 1638,699.8 1639,699.8 1640,700.0 1641,700.4 1642,700.1 1643,700.7 1644,700.4 1645,700.9 1646,700.8 1647,700.4 1648,700.0 1649,699.6 1650,699.3 1651,698.7 1652,699.1 1653,699.7 1654,699.7 1655,700.0 1656,699.8 1657,696.8 1658,699.5 1659,700.0 1660,700.1 1661,699.7 1662,699.6 1663,700.2 1664,698.8 1665,700.2 1666,699.9 1667,700.4 1668,700.1 1669,699.9 1670,700.1 1671,700.4 1672,700.0 1673,699.3 1674,699.9 1675,700.0 1676,699.9 1677,700.4 1678,699.9 1679,700.5 1680,699.8 1681,700.2 1682,700.5 1683,700.7 1684,700.4 1685,699.8 1686,700.3 1687,700.1 1688,700.1 1689,700.1 1690,700.5 1691,700.5 1692,699.4 1693,700.4 1694,699.9 1695,700.0 1696,699.5 1697,699.0 1698,697.0 1699,696.6 1700,694.1 1701,691.8 1702,691.3 1702.6,691.0 1703,691.0 1704,692.1 1705,699.4 1706,699.1 1707,700.1 1708,698.5 1709,699.4 1710,699.8 1711,699.8 1712,700.4 1713,700.2 1714,700.6 1715,700.9 1716,699.7 1717,700.7 1718,700.4 1719,701.0 1720,700.5 1721,699.8 1722,699.9 1723,699.9 1724,699.4 1725,699.6 1726,699.2 1727,699.5 1728,696.7 1729,698.4 1730,698.5 1731,698.5 1732,698.8 1733,698.9 1734,699.0 1735,698.4 1736,697.8 1737,695.9 1738,693.4 1739,688.2 1740,680.0 1741,669.2 1742,659.0 1742.8,656.4 1743,656.1 1744,662.7 1745,672.5 1746,683.8 1747,689.8 1748,694.9 1749,698.6 1750,699.4 1751,698.3 1752,698.7 1753,697.8 1754,699.3 1755,699.5 1756,698.7 1757,699.1 1758,698.7 1759,699.6 1760,698.3 1761,699.1 1762,699.5 1763,699.4 1764,699.2 1765,699.2 1766,698.8 1767,699.5 1768,699.6 1769,699.4 1770,699.1 1771,699.5 1772,699.3 1773,697.3 1774,699.6 1775,697.2 1776,698.7 1777,699.5 1778,700.0 1779,697.9 1780,699.6 1781,699.6 1782,699.1 1783,699.3 1784,699.0 1785,698.5 1786,699.0 1787,698.6 1788,698.7 1789,698.3 1790,697.0 1791,698.1 1792,696.6 1793,695.2 1794,699.8 1795,692.1 1796,696.6 1797,676.6 1798,664.9 1799,653.2 1799.7,651.6 1800,652.0 1801,659.7 1802,672.3 1803,682.6 1804,688.3 1805,697.8 1806,696.0 1807,696.9 1808,697.3 1809,697.0 1810,698.2 1811,699.1 1812,699.3 1813,699.5 1814,699.9 1815,699.3 1816,698.2 1817,699.8 1818,698.0 1819,700.3 1820,697.5 1821,699.7 1822,700.2 1823,699.3 1824,698.0 1825,700.2 1826,699.7 1827,699.6 1828,699.3 1829,700.0 1830,700.7 1831,699.4 1832,700.7 1833,700.3 1834,700.9 1835,700.4 1836,700.7 1837,700.3 1838,700.2 1839,700.9 1840,700.5 1841,700.5 1842,700.6 1843,700.3 1844,700.5 1845,700.4 1846,700.6 1847,699.8 1848,699.9 1849,700.2 1850,699.5 1851,699.4 1852,700.2 1853,700.0 1854,699.5 1855,700.2 1856,700.1 1857,700.4 1858,700.2 1859,699.6 1860,700.5 1861,700.2 1862,700.8 1863,700.5 1864,700.4 1865,698.6 1866,699.3 1867,700.8 1868,700.1 1869,700.7 1870,700.9 1871,699.4 1872,700.6 1873,700.5 1874,700.5 1875,700.6 1876,700.7 1877,700.6 1878,700.8 1879,701.1 1880,699.2 1881,700.3 1882,699.4 1883,700.5 1884,700.9 1885,700.8 1886,700.7 1887,701.2 1888,701.1 1889,701.0 1890,700.8 1891,700.9 1892,700.9 1893,700.8 1894,696.9 1895,699.4 1896,699.8 1897,700.0 1898,700.9 1899,700.6 1900,700.3 1901,699.5 1902,697.4 1903,696.7 1904,699.3 1905,699.9 1906,699.2 1907,698.6 1908,699.5 1909,698.3 1910,699.8 1911,700.1 1912,700.2 1913,700.3 1914,697.6 1915,698.4 1916,700.6 1917,700.4 1918,700.7 1919,700.6 1920,699.9 1921,700.4 1922,700.2 1923,700.1 1924,699.8 1925,699.9 1926,700.0 1927,700.2 1928,700.2 1929,699.4 1930,700.4 1931,700.3 1932,700.2 1933,699.4 1934,699.1 1935,700.6 1936,700.1 1937,700.8 1938,700.3 1939,699.7 1940,700.6 1941,701.0 1942,697.1 1943,701.0 1944,700.3 1945,700.4 1946,700.3 1947,700.4 1948,700.0 1949,698.8 1950,698.8 1951,699.9 1952,699.6 1953,700.0 1954,700.0 1955,700.2 1956,700.5 1957,697.5 1958,700.6 1959,700.7 1960,700.7 1961,699.9 1962,698.4 1963,700.4 1964,700.7 1965,701.4 1966,701.3 1967,701.5 1968,701.4 1969,701.0 1970,700.6 1971,700.4 1972,700.2 1973,700.6 1974,700.5 1975,700.5 1976,700.1 1977,700.4 1978,700.6 1979,700.5 1980,696.3 1981,700.0 1982,699.8 1983,699.7 1984,700.2 1985,699.7 1986,699.9 1987,699.9 1988,700.0 1989,700.3 1990,697.3 1991,700.5 1992,699.9 1993,699.3 1994,700.9 1995,700.7 1996,700.6 1997,701.0 1998,700.9 1999,700.9 2000,700.7 2001,700.1 2002,700.4 2003,700.4 2004,700.5 2005,700.5 2006,700.6 2007,700.4 2008,700.2 2009,700.0 2010,700.7 2011,700.6 2012,700.2 2013,700.8 2014,700.3 2015,699.7 2016,700.8 2017,701.0 2018,700.7 2019,700.9 2020,700.7 2021,700.7 2022,700.9 2023,700.1 2024,700.3 2025,700.1 2026,700.0 2027,700.1 2028,700.0 2029,699.9 2030,699.7 2031,699.5 2032,699.7 2033,699.7 2034,699.7 2035,698.3 2036,699.8 2037,699.4 2038,700.1 2039,700.3 2040,700.5 2041,700.1 2042,700.4 2043,699.7 2044,699.5 2045,699.8 2046,699.8 2047,698.7 2048,698.2 2049,699.0 2050,699.3 2051,699.1 2052,698.7 2053,699.6 2054,699.0 2055,698.4 2056,699.6 2057,699.0 2058,699.4 2059,699.4 2060,698.1 2061,699.4 2062,699.1 2063,699.4 2064,699.5 2065,695.2 2066,698.4 2067,699.6 2068,699.8 2069,699.0 2070,698.9 2071,699.2 2072,697.3 2073,695.4 2074,697.1 2075,698.4 2076,696.7 2077,695.2 2078,694.8 2079,692.0 2080,700.2 2081,681.0 2082,666.2 2083,643.9 2084,620.0 2085,608.3 2086,620.1 2087,644.3 2088,665.9 2089,680.3 2090,688.3 2091,692.0 2092,692.2 2093,692.2 2094,690.2 2095,686.3 2096,681.5 2097,679.2 2098,681.9 2099,699.4 2100,692.0 2101,695.3 2102,700.0 2103,698.0 2104,698.9 2105,699.0 2106,698.6 2107,698.8 2108,699.4 2109,699.3 2110,699.2 2111,698.9 2112,699.4 2113,697.9 2114,699.1 2115,699.6 2116,695.9 2117,696.4 2118,697.3 2119,696.6 2120,695.6 2121,695.4 2122,696.1 2123,696.9 2124,698.9 2125,697.8 2126,699.0 2127,699.6 2128,696.3 2129,698.5 2130,698.3 2131,698.1 2132,698.0 2133,699.1 2134,700.0 2135,699.7 2136,699.3 2137,699.7 2138,699.8 2139,698.9 2140,699.4 2141,699.1 2142,699.8 2143,700.1 2144,698.4 2145,699.4 2146,700.0 2147,700.2 2148,697.4 2149,699.6 2150,697.1 2151,700.0 2152,700.3 2153,700.0 2154,700.0 2155,699.8 2156,700.0 2157,699.8 2158,699.7 2159,699.8 2160,699.3 2161,700.1 2162,699.0 2163,699.3 2164,698.7 2165,699.6 2166,699.9 2167,699.5 2168,699.8 2169,699.8 2170,700.0 2171,700.1 2172,700.2 2173,700.6 2174,700.1 2175,699.9 2176,700.0 2177,700.6 2178,699.9 2179,699.9 2180,699.9" fill="none" stroke="#808000" stroke-width="9.3" stroke-linejoin="round" stroke-linecap="butt"/>
<path d="M196,515.1 197,515.1 198,515.1 199,515.1 200,515.1 201,515.1 202,515.1 203,515.1 204,515.1 205,515.9 206,515.5 207,516.3 208,516.1 209,515.0 210,514.4 211,515.5 212,515.4 213,515.2 214,515.4 215,514.6 216,515.2 217,515.3 218,512.2 219,514.7 220,514.1 221,514.4 222,513.8 223,514.4 224,514.8 225,514.0 226,514.4 227,511.9 228,514.8 229,515.1 230,514.8 231,515.0 232,514.5 233,515.0 234,515.3 235,515.0 236,515.7 237,515.8 238,515.5 239,514.9 240,515.3 241,515.6 242,515.9 243,515.6 244,515.5 245,515.9 246,515.4 247,514.1 248,515.8 249,515.7 250,515.9 251,514.1 252,514.6 253,515.4 254,515.6 255,514.8 256,515.0 257,515.7 258,515.9 259,515.6 260,515.5 261,515.7 262,514.5 263,515.4 264,515.0 265,515.2 266,515.2 267,515.6 268,515.6 269,515.4 270,515.4 271,514.8 272,515.5 273,511.8 274,515.2 275,515.3 276,514.8 277,512.9 278,515.4 279,513.0 280,515.4 281,514.2 282,514.5 283,515.0 284,514.4 285,514.6 286,514.9 287,511.5 288,514.9 289,514.7 290,514.2 291,514.6 292,515.2 293,514.5 294,515.0 295,513.8 296,514.0 297,513.2 298,511.4 299,509.0 300,506.6 300.8,506.1 301,506.0 302,506.1 303,509.9 304,511.3 305,512.2 306,513.7 307,514.3 308,512.1 309,515.2 310,515.3 311,514.6 312,512.4 313,515.7 314,514.9 315,515.3 316,512.6 317,515.7 318,514.9 319,515.0 320,515.9 321,512.7 322,515.1 323,513.1 324,515.7 325,514.8 326,514.8 327,514.7 328,514.5 329,515.0 330,514.1 331,514.7 332,514.8 333,514.5 334,514.1 335,513.9 336,514.7 337,514.8 338,513.7 339,514.1 340,512.8 341,509.4 342,510.5 343,513.2 344,513.3 345,506.9 346,513.7 346.6,506.1 347,506.0 348,506.6 349,507.9 350,508.6 351,509.8 352,511.4 353,512.9 354,514.0 355,514.3 356,514.6 357,515.3 358,512.8 359,515.1 360,515.2 361,512.0 362,515.6 363,516.0 364,516.1 365,515.0 366,513.5 367,514.9 368,516.1 369,515.2 370,515.7 371,516.1 372,515.6 373,515.8 374,515.3 375,511.9 376,515.2 377,511.4 378,515.7 379,515.2 380,512.9 381,514.2 382,514.6 383,514.4 384,514.2 385,513.4 386,512.9 387,513.7 388,507.4 389,503.9 390,501.5 391,503.3 392,508.1 393,511.5 394,513.7 395,514.7 396,515.0 397,513.9 398,515.1 399,514.9 400,514.7 401,514.4 402,514.7 403,514.0 404,514.3 405,514.8 406,514.3 407,513.9 408,514.9 409,514.5 410,515.4 411,514.7 412,513.1 413,515.1 414,511.9 415,513.8 416,512.6 417,513.9 418,513.2 419,514.8 420,515.0 421,515.2 422,514.4 423,514.7 424,514.7 425,514.9 426,514.6 427,515.5 428,515.5 429,514.9 430,515.2 431,514.9 432,515.3 433,515.6 434,515.3 435,515.8 436,515.2 437,515.9 438,516.4 439,515.9 440,516.4 441,516.2 442,514.7 443,514.9 444,514.6 445,514.3 446,514.6 447,514.8 448,512.5 449,514.1 450,514.7 451,515.2 452,514.7 453,515.4 454,514.9 455,515.3 456,514.7 457,514.9 458,515.5 459,514.3 460,514.8 461,514.9 462,513.9 463,515.0 464,514.9 465,514.8 466,515.2 467,511.9 468,514.9 469,513.8 470,514.9 471,515.3 472,515.1 473,514.5 474,514.9 475,514.7 476,515.4 477,515.5 478,515.1 479,515.4 480,514.8 481,515.3 482,513.3 483,515.0 484,515.1 485,515.1 486,515.3 487,515.3 488,514.0 489,515.7 490,515.7 491,515.1 492,515.6 493,515.7 494,515.1 495,515.5 496,515.1 497,515.6 498,515.2 499,514.5 500,515.6 501,514.3 502,513.7 503,514.1 504,515.5 505,515.2 506,513.4 507,514.8 508,515.3 509,515.2 510,515.4 511,515.3 512,515.0 513,515.1 514,515.8 515,515.6 516,515.1 517,514.9 518,515.6 519,514.6 520,511.5 521,515.0 522,515.1 523,515.5 524,513.9 525,514.9 526,512.3 527,514.9 528,512.7 529,515.0 530,514.8 531,514.8 532,514.2 533,514.4 534,515.7 535,515.6 536,515.8 537,515.6 538,516.1 539,515.6 540,515.0 541,515.7 542,512.0 543,515.0 544,513.3 545,514.9 546,514.3 547,515.2 548,514.6 549,515.2 550,514.0 551,514.1 552,514.5 553,514.7 554,513.9 555,514.9 556,514.7 557,514.9 558,514.5 559,514.7 560,514.7 561,515.1 562,513.6 563,513.6 564,514.8 565,514.8 566,512.7 567,514.9 568,513.6 569,514.7 570,514.6 571,515.7 572,515.9 573,515.4 574,515.4 575,515.2 576,515.5 577,514.2 578,515.6 579,515.8 580,515.3 581,515.3 582,515.9 583,515.7 584,515.5 585,515.7 586,515.3 587,514.3 588,514.5 589,515.2 590,513.7 591,514.8 592,515.0 593,513.6 594,512.9 595,515.0 596,514.8 597,514.9 598,514.8 599,514.6 600,513.2 601,514.7 602,514.7 603,514.2 604,514.5 605,514.0 606,512.9 607,513.4 608,513.4 609,513.0 610,512.6 611,511.7 612,514.3 613,510.8 614,508.6 615,508.3 616,506.1 617,512.5 618,512.0 619,498.9 620,494.2 621,486.3 622,475.4 622.7,471.6 623,472.4 624,482.2 625,491.1 626,496.7 627,500.7 628,503.3 629,512.9 630,507.2 631,507.1 632,509.4 633,511.0 634,512.2 635,511.4 636,515.7 637,513.4 638,514.0 639,513.5 640,513.8 641,514.0 642,512.9 643,514.3 644,513.7 645,513.9 646,514.3 647,513.2 648,514.4 649,514.5 650,514.6 651,514.4 652,513.1 653,514.6 654,514.1 655,514.6 656,514.4 657,514.2 658,514.5 659,513.7 660,514.4 661,514.5 662,512.8 663,511.6 664,512.8 665,511.4 666,510.9 667,508.8 668,509.1 668.5,508.9 669,514.6 670,509.0 671,510.5 672,511.2 673,512.6 674,513.3 675,514.0 676,514.5 677,514.2 678,514.9 679,514.9 680,514.7 681,511.5 682,514.8 683,515.3 684,514.4 685,514.1 686,514.7 687,514.7 688,515.4 689,511.6 690,512.0 691,515.5 692,512.7 693,515.0 694,515.3 695,515.0 696,512.1 697,514.4 698,514.5 699,513.9 700,512.9 701,512.9 702,511.1 703,510.0 704,502.0 705,478.8 706,437.5 706.5,427.3 707,437.2 708,479.0 709,512.4 710,510.2 711,512.2 712,510.7 713,514.3 714,513.7 715,514.9 716,515.3 717,514.9 718,515.5 719,515.7 720,514.8 721,515.1 722,515.7 723,515.0 724,515.7 725,514.9 726,514.9 727,515.4 728,515.3 729,515.0 730,515.5 731,515.8 732,515.1 733,514.3 734,516.0 735,515.3 736,515.6 737,515.3 738,514.3 739,515.2 740,514.7 741,515.0 742,515.6 743,514.4 744,515.4 745,515.6 746,515.2 747,514.8 748,515.0 749,515.0 750,513.8 751,514.9 752,515.1 753,514.2 754,514.3 755,515.1 756,514.1 757,514.7 758,513.9 759,513.5 760,511.1 761,513.9 762,510.7 763,510.0 764,508.8 764.6,509.6 765,508.8 766,509.5 767,512.2 768,513.7 769,514.7 770,515.4 771,515.5 772,515.7 773,515.5 774,515.3 775,515.4 776,515.4 777,515.2 778,515.3 779,515.1 780,515.2 781,515.5 782,514.9 783,515.5 784,515.5 785,515.2 786,515.4 787,515.3 788,515.4 789,514.4 790,513.4 791,510.9 792,505.4 793,498.3 793.5,496.9 794,498.0 795,505.2 796,509.9 797,511.9 798,513.8 799,514.2 800,514.1 801,514.0 802,514.8 803,514.6 804,514.0 805,515.0 806,515.0 807,514.0 808,514.8 809,514.9 810,514.6 811,514.3 812,514.9 813,514.9 814,515.4 815,515.0 816,514.7 817,514.9 818,515.0 819,514.9 820,515.1 821,511.2 822,515.0 823,514.8 824,513.5 825,513.9 826,514.9 827,514.7 828,515.1 829,514.7 830,514.6 831,514.8 832,515.2 833,515.5 834,515.6 835,515.9 836,515.2 837,515.7 838,515.8 839,516.2 840,516.0 841,515.0 842,516.0 843,515.9 844,516.1 845,513.5 846,516.1 847,515.0 848,515.0 849,515.3 850,514.9 851,514.8 852,514.8 853,514.9 854,514.2 855,515.1 856,512.3 857,514.9 858,514.9 859,515.2 860,514.6 861,512.9 862,515.8 863,515.6 864,513.6 865,515.5 866,515.9 867,515.3 868,515.1 869,513.3 870,514.8 871,515.4 872,515.2 873,514.3 874,514.1 875,512.7 876,512.7 877,512.0 878,513.3 879,511.2 880,511.6 881,511.8 882,514.9 883,512.3 884,513.0 885,513.2 886,513.7 887,514.3 888,514.3 889,514.5 890,514.9 891,514.7 892,515.3 893,514.2 894,515.4 895,514.5 896,515.1 897,514.8 898,513.8 899,513.4 900,513.6 901,513.4 902,516.0 903,509.2 904,513.2 905,513.7 906,513.0 907,513.8 908,514.7 909,514.5 910,515.2 911,515.2 912,514.2 913,514.1 914,514.0 915,514.8 916,511.5 917,514.8 918,513.2 919,514.6 920,514.5 921,515.0 922,514.4 923,514.9 924,514.2 925,514.6 926,515.2 927,514.7 928,515.0 929,514.4 930,515.1 931,515.2 932,515.4 933,515.5 934,515.6 935,514.7 936,515.1 937,515.9 938,515.6 939,515.7 940,515.6 941,515.3 942,515.2 943,515.9 944,515.4 945,515.8 946,514.4 947,514.4 948,514.7 949,514.9 950,514.2 951,512.5 952,514.6 953,514.3 954,514.9 955,515.0 956,513.7 957,515.2 958,515.2 959,513.8 960,514.8 961,515.0 962,514.5 963,514.5 964,512.5 965,514.6 966,514.5 967,514.6 968,511.8 969,513.0 970,513.5 971,512.6 972,510.4 973,512.6 974,511.6 975,504.5 976,486.2 977,457.6 977.5,451.1 978,457.7 979,486.1 980,504.1 981,511.0 982,515.1 983,512.2 984,513.4 985,513.7 986,514.0 987,514.7 988,514.4 989,514.9 990,515.0 991,514.9 992,515.0 993,514.5 994,515.4 995,514.7 996,512.9 997,515.6 998,514.7 999,515.0 1000,515.6 1001,514.9 1002,515.8 1003,515.7 1004,515.4 1005,515.2 1006,515.5 1007,515.6 1008,515.6 1009,514.1 1010,514.4 1011,514.3 1012,514.1 1013,514.9 1014,513.3 1015,513.2 1016,515.0 1017,512.6 1018,512.2 1019,512.2 1020,512.7 1021,512.8 1022,512.3 1023,513.2 1024,513.3 1025,515.3 1026,513.8 1027,513.9 1028,514.0 1029,513.9 1030,514.7 1031,515.4 1032,514.8 1033,515.1 1034,515.3 1035,515.3 1036,515.7 1037,515.5 1038,515.7 1039,516.0 1040,515.3 1041,515.9 1042,516.1 1043,515.3 1044,515.5 1045,515.9 1046,515.2 1047,515.4 1048,515.7 1049,515.5 1050,514.8 1051,514.5 1052,515.0 1053,515.3 1054,515.1 1055,515.5 1056,513.8 1057,514.9 1058,515.2 1059,514.7 1060,514.4 1061,514.9 1062,514.2 1063,512.2 1064,510.8 1065,514.4 1066,514.9 1067,514.3 1068,514.7 1069,514.8 1070,512.9 1071,515.2 1072,514.5 1073,515.0 1074,514.6 1075,515.3 1076,515.0 1077,515.8 1078,514.9 1079,515.2 1080,515.1 1081,511.7 1082,514.8 1083,512.0 1084,513.7 1085,514.0 1086,513.0 1087,510.5 1088,510.1 1089,507.9 1090,507.5 1091,506.5 1092,504.8 1093,505.1 1094,507.2 1095,509.1 1096,510.4 1097,510.4 1098,511.5 1099,513.5 1100,513.9 1101,514.3 1102,511.2 1103,515.3 1104,515.1 1105,515.2 1106,515.1 1107,513.3 1108,512.5 1109,516.1 1110,515.1 1111,516.4 1112,516.4 1113,516.5 1114,516.2 1115,516.3 1116,516.4 1117,516.2 1118,516.5 1119,515.7 1120,515.9 1121,515.2 1122,514.0 1123,515.0 1124,515.6 1125,515.4 1126,515.5 1127,515.7 1128,515.1 1129,514.9 1130,515.4 1131,515.4 1132,515.4 1133,513.0 1134,514.0 1135,516.0 1136,512.4 1137,515.4 1138,515.4 1139,515.8 1140,515.5 1141,515.9 1142,515.9 1143,515.5 1144,515.6 1145,514.9 1146,511.9 1147,514.7 1148,514.8 1149,515.4 1150,515.1 1151,514.7 1152,514.7 1153,514.8 1154,515.7 1155,515.9 1156,515.2 1157,513.7 1158,515.9 1159,516.2 1160,516.3 1161,516.3 1162,515.8 1163,516.1 1164,512.7 1165,515.9 1166,515.1 1167,514.6 1168,515.8 1169,515.8 1170,516.0 1171,516.1 1172,515.9 1173,515.5 1174,513.2 1175,515.6 1176,515.8 1177,515.9 1178,515.1 1179,515.8 1180,513.2 1181,515.2 1182,515.3 1183,514.7 1184,513.7 1185,512.4 1186,514.8 1187,515.0 1188,515.2 1189,514.9 1190,512.5 1191,515.7 1192,513.1 1193,515.9 1194,516.0 1195,512.8 1196,515.8 1197,515.5 1198,515.6 1199,516.1 1200,516.0 1201,514.9 1202,515.8 1203,515.1 1204,515.8 1205,515.6 1206,514.1 1207,515.6 1208,515.8 1209,515.5 1210,515.7 1211,515.2 1212,515.1 1213,515.7 1214,515.5 1215,514.8 1216,515.1 1217,515.0 1218,511.5 1219,514.0 1220,513.6 1221,514.4 1222,514.2 1223,513.9 1224,514.7 1225,513.4 1226,514.3 1227,514.6 1228,515.2 1229,515.1 1230,514.8 1231,515.0 1232,515.0 1233,515.4 1234,515.1 1235,514.7 1236,514.9 1237,513.4 1238,514.9 1239,512.7 1240,514.8 1241,513.8 1242,514.1 1243,514.4 1244,514.7 1245,514.7 1246,515.2 1247,515.5 1248,515.5 1249,514.5 1250,515.2 1251,511.8 1252,515.2 1253,515.4 1254,515.5 1255,514.2 1256,511.2 1257,514.7 1258,515.1 1259,515.0 1260,515.4 1261,514.6 1262,514.3 1263,513.9 1264,514.5 1265,515.2 1266,514.9 1267,514.5 1268,514.3 1269,514.3 1270,515.1 1271,515.2 1272,515.3 1273,515.2 1274,514.8 1275,515.0 1276,514.8 1277,515.6 1278,512.5 1279,508.5 1280,498.2 1281,483.5 1281.7,478.0 1282,478.6 1283,492.5 1284,505.1 1285,509.8 1286,513.1 1287,512.8 1288,514.2 1289,515.1 1290,515.0 1291,515.5 1292,513.8 1293,514.3 1294,515.9 1295,515.8 1296,515.1 1297,515.8 1298,513.0 1299,514.8 1300,515.2 1301,515.1 1302,512.1 1303,514.5 1304,514.3 1305,515.3 1306,514.5 1307,514.6 1308,515.2 1309,515.3 1310,512.3 1311,515.2 1312,515.7 1313,515.4 1314,514.7 1315,514.8 1316,515.6 1317,515.6 1318,515.9 1319,515.0 1320,515.9 1321,515.6 1322,515.6 1323,515.7 1324,516.1 1325,515.3 1326,515.6 1327,516.1 1328,513.5 1329,515.5 1330,515.6 1331,515.6 1332,515.0 1333,515.8 1334,514.9 1335,515.6 1336,515.2 1337,515.2 1338,514.9 1339,514.7 1340,514.5 1341,513.4 1342,515.2 1343,513.0 1344,514.0 1345,514.2 1346,514.7 1347,512.2 1348,514.4 1349,515.2 1350,515.3 1351,515.1 1352,515.3 1353,514.2 1354,515.1 1355,515.2 1356,514.2 1357,515.0 1358,515.3 1359,514.6 1360,515.5 1361,514.6 1362,514.9 1363,515.7 1364,515.1 1365,514.8 1366,515.5 1367,515.5 1368,515.1 1369,515.3 1370,513.1 1371,515.8 1372,516.0 1373,515.8 1374,515.6 1375,515.8 1376,515.3 1377,515.7 1378,516.0 1379,516.0 1380,514.8 1381,514.9 1382,515.4 1383,515.5 1384,515.1 1385,515.3 1386,515.2 1387,514.1 1388,514.2 1389,515.4 1390,516.0 1391,515.4 1392,515.7 1393,515.5 1394,516.0 1395,515.6 1396,515.0 1397,515.5 1398,516.0 1399,516.1 1400,515.8 1401,515.7 1402,515.5 1403,514.4 1404,515.6 1405,515.7 1406,515.9 1407,515.9 1408,514.6 1409,514.8 1410,515.4 1411,515.1 1412,515.1 1413,515.0 1414,515.6 1415,515.5 1416,514.6 1417,516.0 1418,515.8 1419,514.7 1420,515.6 1421,515.4 1422,515.2 1423,515.3 1424,515.7 1425,515.2 1426,515.4 1427,515.0 1428,515.2 1429,515.4 1430,515.1 1431,515.2 1432,511.6 1433,514.4 1434,514.8 1435,512.9 1436,513.6 1437,513.7 1438,514.9 1439,514.1 1440,510.7 1441,508.6 1442,504.0 1443,487.3 1444,438.2 1445,377.4 1445.2,374.6 1446,409.9 1447,472.3 1448,499.6 1449,507.5 1450,509.3 1451,511.6 1452,511.8 1453,515.2 1454,513.3 1455,515.3 1456,513.1 1457,511.8 1458,512.4 1459,510.2 1460,510.4 1461,509.7 1462,508.4 1463,506.9 1464,505.5 1465,504.1 1466,502.8 1466.7,503.1 1467,503.0 1468,513.1 1469,514.9 1470,506.3 1471,507.4 1472,514.5 1473,510.3 1474,511.4 1475,511.0 1476,512.5 1477,514.9 1478,511.8 1479,512.7 1480,512.5 1481,508.8 1482,511.1 1483,511.0 1484,510.8 1485,510.8 1486,514.8 1487,511.6 1488,512.8 1489,513.4 1490,514.2 1491,514.0 1492,513.0 1493,514.3 1494,514.5 1495,515.3 1496,515.3 1497,515.0 1498,514.0 1499,515.4 1500,515.1 1501,515.5 1502,515.4 1503,515.3 1504,515.3 1505,514.3 1506,514.2 1507,514.1 1508,511.4 1509,509.5 1510,510.3 1511,512.7 1512,514.2 1513,514.7 1514,514.4 1515,513.8 1516,515.2 1517,515.0 1518,515.3 1519,515.6 1520,514.6 1521,515.2 1522,514.9 1523,514.8 1524,514.2 1525,514.3 1526,513.7 1527,515.4 1528,513.9 1529,515.0 1530,510.8 1531,512.0 1532,512.3 1533,514.5 1534,514.6 1535,514.9 1536,514.8 1537,514.6 1538,515.2 1539,515.3 1540,515.3 1541,515.1 1542,515.2 1543,515.3 1544,515.7 1545,515.6 1546,515.4 1547,515.7 1548,515.0 1549,515.6 1550,514.6 1551,514.9 1552,515.4 1553,514.7 1554,515.1 1555,515.1 1556,514.9 1557,514.6 1558,514.7 1559,511.1 1560,514.8 1561,514.6 1562,515.2 1563,515.1 1564,514.8 1565,514.7 1566,514.6 1567,513.3 1568,511.9 1569,507.0 1570,498.1 1571,490.5 1571.2,490.1 1572,493.7 1573,503.8 1574,510.3 1575,510.3 1576,513.6 1577,514.2 1578,514.7 1579,515.4 1580,515.4 1581,515.6 1582,515.7 1583,514.4 1584,515.6 1585,515.6 1586,515.1 1587,515.3 1588,515.7 1589,514.7 1590,514.9 1591,515.4 1592,515.4 1593,515.4 1594,515.2 1595,515.0 1596,514.1 1597,514.8 1598,514.8 1599,515.0 1600,514.8 1601,515.3 1602,513.2 1603,515.3 1604,514.7 1605,515.8 1606,515.6 1607,516.0 1608,513.9 1609,515.0 1610,515.2 1611,515.2 1612,515.3 1613,513.7 1614,514.6 1615,515.5 1616,516.3 1617,516.7 1618,516.0 1619,516.6 1620,515.9 1621,513.2 1622,515.8 1623,515.0 1624,514.4 1625,511.4 1626,512.9 1627,514.7 1628,513.7 1629,514.9 1630,511.8 1631,514.3 1632,515.6 1633,515.7 1634,514.1 1635,516.2 1636,516.3 1637,516.0 1638,515.5 1639,515.9 1640,515.3 1641,515.3 1642,514.9 1643,512.6 1644,515.5 1645,515.7 1646,515.9 1647,515.8 1648,515.5 1649,515.7 1650,515.4 1651,513.8 1652,515.3 1653,515.7 1654,515.8 1655,516.1 1656,515.3 1657,516.0 1658,515.7 1659,515.8 1660,515.9 1661,516.1 1662,516.0 1663,516.3 1664,516.2 1665,515.9 1666,515.9 1667,515.4 1668,515.6 1669,514.9 1670,514.5 1671,514.6 1672,515.1 1673,515.2 1674,515.5 1675,515.3 1676,515.7 1677,514.8 1678,516.1 1679,515.2 1680,516.3 1681,515.9 1682,516.5 1683,516.3 1684,516.1 1685,516.0 1686,514.8 1687,515.6 1688,515.3 1689,511.7 1690,514.9 1691,515.1 1692,514.3 1693,515.1 1694,515.3 1695,514.5 1696,515.4 1697,515.3 1698,514.9 1699,514.6 1700,514.4 1701,512.7 1702,512.7 1703,510.7 1704,511.2 1705,512.3 1706,509.5 1707,510.8 1708,512.7 1709,513.7 1710,514.1 1711,514.8 1712,515.6 1713,514.8 1714,515.5 1715,514.9 1716,515.6 1717,515.4 1718,514.9 1719,515.5 1720,515.4 1721,515.3 1722,515.5 1723,515.5 1724,514.9 1725,515.1 1726,515.7 1727,515.1 1728,512.9 1729,515.5 1730,514.6 1731,515.1 1732,514.9 1733,514.2 1734,512.0 1735,514.3 1736,514.0 1737,513.7 1738,512.2 1739,512.0 1740,507.0 1741,497.3 1742,482.2 1742.8,476.6 1743,475.3 1744,488.2 1745,502.0 1746,508.7 1747,509.5 1748,513.8 1749,513.2 1750,511.9 1751,514.1 1752,515.2 1753,514.4 1754,514.8 1755,515.2 1756,513.6 1757,515.1 1758,514.6 1759,514.6 1760,512.5 1761,514.6 1762,514.0 1763,514.4 1764,514.4 1765,515.0 1766,515.3 1767,515.6 1768,515.0 1769,514.0 1770,516.1 1771,515.7 1772,516.1 1773,514.3 1774,516.0 1775,514.9 1776,515.7 1777,515.4 1778,515.3 1779,515.1 1780,514.7 1781,515.4 1782,515.4 1783,515.3 1784,514.8 1785,515.4 1786,515.2 1787,514.9 1788,515.6 1789,515.4 1790,514.3 1791,515.0 1792,514.8 1793,513.7 1794,513.0 1795,512.0 1796,509.6 1797,512.7 1798,490.9 1799,475.3 1799.7,470.2 1800,470.6 1801,484.4 1802,499.0 1803,507.1 1804,513.3 1805,512.1 1806,512.4 1807,512.9 1808,513.3 1809,513.4 1810,513.9 1811,513.6 1812,514.2 1813,513.8 1814,514.3 1815,513.8 1816,513.6 1817,514.5 1818,514.0 1819,514.7 1820,512.5 1821,514.1 1822,514.0 1823,515.3 1824,514.7 1825,515.2 1826,515.3 1827,514.7 1828,515.3 1829,515.2 1830,514.9 1831,514.1 1832,514.3 1833,514.5 1834,515.1 1835,514.7 1836,515.2 1837,514.8 1838,515.2 1839,515.0 1840,515.1 1841,512.9 1842,514.4 1843,512.1 1844,515.7 1845,514.7 1846,515.5 1847,515.0 1848,514.5 1849,514.4 1850,514.6 1851,513.4 1852,514.8 1853,515.1 1854,515.1 1855,514.2 1856,515.1 1857,514.6 1858,513.5 1859,515.1 1860,515.1 1861,513.7 1862,515.2 1863,514.8 1864,514.9 1865,514.6 1866,514.5 1867,513.5 1868,514.1 1869,514.5 1870,515.3 1871,515.4 1872,515.9 1873,515.2 1874,515.6 1875,515.7 1876,515.2 1877,515.6 1878,514.8 1879,515.5 1880,515.6 1881,515.5 1882,514.1 1883,513.0 1884,514.9 1885,515.2 1886,515.8 1887,515.6 1888,515.8 1889,514.9 1890,516.0 1891,515.6 1892,515.4 1893,515.2 1894,515.5 1895,513.0 1896,516.1 1897,515.6 1898,516.1 1899,516.1 1900,516.0 1901,515.8 1902,515.8 1903,515.7 1904,515.9 1905,514.9 1906,515.4 1907,514.9 1908,515.0 1909,515.1 1910,515.6 1911,515.5 1912,515.1 1913,514.5 1914,512.4 1915,515.0 1916,515.1 1917,514.0 1918,515.2 1919,515.0 1920,514.8 1921,513.0 1922,512.5 1923,515.0 1924,514.7 1925,515.3 1926,515.5 1927,513.1 1928,515.8 1929,516.0 1930,516.4 1931,514.9 1932,515.6 1933,516.8 1934,514.0 1935,516.5 1936,516.3 1937,515.5 1938,515.8 1939,515.7 1940,513.8 1941,515.5 1942,514.8 1943,514.7 1944,514.6 1945,513.6 1946,515.0 1947,515.3 1948,512.2 1949,515.6 1950,513.0 1951,514.6 1952,515.6 1953,515.0 1954,515.8 1955,515.4 1956,512.7 1957,515.0 1958,515.2 1959,515.3 1960,515.5 1961,515.8 1962,515.7 1963,515.6 1964,515.5 1965,515.1 1966,515.2 1967,515.4 1968,515.4 1969,515.1 1970,515.1 1971,515.3 1972,514.3 1973,515.7 1974,515.0 1975,515.6 1976,515.5 1977,514.2 1978,515.5 1979,515.6 1980,514.3 1981,515.4 1982,515.6 1983,515.4 1984,515.1 1985,514.6 1986,515.2 1987,515.2 1988,511.8 1989,515.5 1990,515.5 1991,515.1 1992,515.3 1993,515.0 1994,514.9 1995,515.2 1996,515.0 1997,515.2 1998,514.3 1999,514.5 2000,514.3 2001,513.9 2002,512.9 2003,514.5 2004,514.8 2005,514.9 2006,514.9 2007,514.4 2008,514.7 2009,514.4 2010,515.1 2011,515.9 2012,516.1 2013,515.7 2014,515.6 2015,515.5 2016,515.4 2017,514.1 2018,513.3 2019,516.0 2020,515.9 2021,515.5 2022,515.0 2023,512.3 2024,515.0 2025,514.6 2026,514.6 2027,511.1 2028,515.3 2029,514.7 2030,514.8 2031,514.1 2032,514.0 2033,514.7 2034,514.7 2035,514.7 2036,515.5 2037,515.3 2038,515.4 2039,515.5 2040,515.4 2041,514.8 2042,515.9 2043,515.7 2044,513.6 2045,515.8 2046,515.6 2047,513.5 2048,515.9 2049,515.6 2050,515.2 2051,515.6 2052,515.7 2053,515.1 2054,514.8 2055,514.2 2056,514.3 2057,514.7 2058,513.6 2059,514.5 2060,514.8 2061,514.4 2062,514.7 2063,514.2 2064,514.4 2065,514.8 2066,514.3 2067,514.3 2068,514.7 2069,514.2 2070,513.6 2071,514.0 2072,515.1 2073,515.1 2074,514.3 2075,514.8 2076,512.0 2077,513.7 2078,515.7 2079,515.4 2080,510.2 2081,506.3 2082,493.9 2083,468.2 2084,440.1 2084.3,438.8 2085,449.3 2086,479.7 2087,500.2 2088,508.4 2089,510.3 2090,512.9 2091,513.3 2092,513.9 2093,514.1 2094,513.9 2095,511.8 2096,507.5 2097,500.1 2098,490.8 2099,500.3 2100,510.1 2101,512.6 2102,513.8 2103,514.7 2104,512.4 2105,515.7 2106,515.7 2107,515.3 2108,515.6 2109,515.5 2110,513.9 2111,515.1 2112,514.4 2113,515.2 2114,515.3 2115,515.3 2116,514.3 2117,515.3 2118,512.7 2119,515.4 2120,515.1 2121,515.3 2122,515.0 2123,515.2 2124,514.4 2125,515.7 2126,515.9 2127,515.2 2128,515.8 2129,516.1 2130,516.1 2131,514.6 2132,515.1 2133,513.2 2134,515.9 2135,516.0 2136,514.8 2137,514.3 2138,515.4 2139,515.6 2140,515.2 2141,515.7 2142,515.0 2143,512.0 2144,514.7 2145,515.5 2146,515.4 2147,515.2 2148,515.0 2149,515.2 2150,514.6 2151,515.6 2152,514.9 2153,515.9 2154,515.4 2155,516.0 2156,515.8 2157,515.4 2158,515.9 2159,516.0 2160,515.6 2161,515.8 2162,515.3 2163,515.7 2164,513.4 2165,515.7 2166,515.6 2167,515.4 2168,515.0 2169,514.6 2170,514.8 2171,515.4 2172,515.3 2173,514.5 2174,514.8 2175,514.8 2176,515.0 2177,514.3 2178,515.1 2179,515.1 2180,515.1" fill="none" stroke="#000080" stroke-width="9.3" stroke-linejoin="round" stroke-linecap="butt"/>
</g>
<rect x="2175" y="29" width="10" height="1473" shape-rendering="crispEdges"/>
<g id="markers">
<text transform="matrix(0.4097 0 0 0.4288 287.26 495.65)" class="sym">♥</text>
<text transform="matrix(0.5086 0 0 0.4452 325.61 495.95)" class="sym">♠</text>
<text transform="matrix(0.4793 0 0 0.4717 372.55 487.60)" class="sym">♦</text>
<text transform="matrix(0.4097 0 0 0.4288 606.76 454.35)" class="sym">♥</text>
<text transform="matrix(0.5086 0 0 0.4452 649.11 488.25)" class="sym">♠</text>
<text transform="matrix(0.4793 0 0 0.4717 685.55 405.90)" class="sym">♦</text>
<text transform="matrix(0.4793 0 0 0.4717 773.45 478.40)" class="sym">♦</text>
<text transform="matrix(0.4097 0 0 0.4288 866.36 498.05)" class="sym">♥</text>
<text transform="matrix(0.4793 0 0 0.4717 955.55 434.60)" class="sym">♦</text>
<text transform="matrix(0.4097 0 0 0.4288 1072.86 485.05)" class="sym">♥</text>
<text transform="matrix(0.4793 0 0 0.4717 1260.25 466.10)" class="sym">♦</text>
<text transform="matrix(0.4793 0 0 0.4717 1423.15 356.90)" class="sym">♦</text>
<text transform="matrix(0.4097 0 0 0.4288 1453.76 490.45)" class="sym">♥</text>
<text transform="matrix(0.4793 0 0 0.4717 1550.65 476.10)" class="sym">♦</text>
<text transform="matrix(0.4793 0 0 0.4717 1724.15 461.10)" class="sym">♦</text>
<text transform="matrix(0.4793 0 0 0.4717 1777.45 453.30)" class="sym">♦</text>
<text transform="matrix(0.4793 0 0 0.4717 2065.05 427.10)" class="sym">♦</text>
<text transform="matrix(0.4793 0 0 0.4717 2079.65 481.10)" class="sym">♦</text>
<text transform="matrix(0.4963 0 0 0.4384 396.19 681.30)" class="sym">♣</text>
<text transform="matrix(0.5225 0 0 0.5103 1819.12 104.00)" class="sym">♦</text>
<text transform="matrix(0.4583 0 0 0.4932 1821.88 210.00)" class="sym">♥</text>
<text transform="matrix(0.5481 0 0 0.4932 1817.97 298.00)" class="sym">♣</text>
<text transform="matrix(0.5690 0 0 0.5000 1816.90 403.55)" class="sym">♠</text>
</g>
<g id="labels">
<clipPath id="foot1"><path clip-rule="evenodd" d="M-20,-90 H320 V30 H-20 Z M4.1,-7.7 H17.3 V3 H4.1 Z M27.5,-7.7 H38.9 V3 H27.5 Z"/></clipPath>
<text transform="matrix(0.9780 0 0 1.0580 213.00 433.00)" class="lab" x="1.64 38.22 76.59 114.96" clip-path="url(#foot1)">1300<tspan class="sup" x="152.56" y="-36.86" textLength="26.7" lengthAdjust="spacingAndGlyphs">o</tspan><tspan x="179.45" y="0" textLength="50.9" lengthAdjust="spacingAndGlyphs">C</tspan></text>
<text transform="matrix(0.9780 0 0 1.0580 216.00 632.00)" class="lab" x="1.64 38.22 76.59 114.96" clip-path="url(#foot1)">1200<tspan class="sup" x="152.56" y="-35.92" textLength="26.7" lengthAdjust="spacingAndGlyphs">o</tspan><tspan x="179.45" y="0" textLength="50.9" lengthAdjust="spacingAndGlyphs">C</tspan></text>
<clipPath id="foot2"><path clip-rule="evenodd" d="M-20,-90 H320 V30 H-20 Z M4.1,-7.7 H17.3 V3 H4.1 Z M27.5,-7.7 H38.9 V3 H27.5 Z M42.0,-7.7 H55.2 V3 H42.0 Z M65.4,-7.7 H76.8 V3 H65.4 Z"/></clipPath>
<text transform="matrix(0.9780 0 0 1.0580 216.00 808.20)" class="lab" x="1.64 39.54 76.23 114.60" clip-path="url(#foot2)">1100<tspan class="sup" x="152.76" y="-36.11" textLength="26.7" lengthAdjust="spacingAndGlyphs">o</tspan><tspan x="179.14" y="0" textLength="50.9" lengthAdjust="spacingAndGlyphs">C</tspan></text>
<text transform="matrix(0.9780 0 0 1.0580 216.00 962.20)" class="lab" x="1.64 38.22 76.59 114.96" clip-path="url(#foot1)">1000<tspan class="sup" x="152.76" y="-35.92" textLength="26.7" lengthAdjust="spacingAndGlyphs">o</tspan><tspan x="179.14" y="0" textLength="50.9" lengthAdjust="spacingAndGlyphs">C</tspan></text>
<text transform="matrix(0.9780 0 0 1.0580 223.90 1122.60)" class="lab" x="0.00 38.65 77.30">900<tspan class="sup" x="115.13" y="-36.86" textLength="26.7" lengthAdjust="spacingAndGlyphs">o</tspan><tspan x="140.29" y="0" textLength="50.9" lengthAdjust="spacingAndGlyphs">C</tspan></text>
<text transform="matrix(0.9780 0 0 1.0580 217.70 1255.80)" class="lab" x="0.00 38.65 77.30">800<tspan class="sup" x="115.34" y="-36.39" textLength="26.7" lengthAdjust="spacingAndGlyphs">o</tspan><tspan x="141.92" y="0" textLength="50.9" lengthAdjust="spacingAndGlyphs">C</tspan></text>
<text transform="matrix(0.9940 0 0 1.0000 214.80 1394.60)" class="lab">As-deposited</text>
</g>
<g id="legend">
<text transform="matrix(1 0 0 1.0670 1881.00 102.70)" class="leg"><tspan class="serA" x="0" y="0">A</tspan><tspan x="41.90" y="0" textLength="18.3" lengthAdjust="spacingAndGlyphs">l</tspan><tspan class="sub" x="59.00" y="21.84" textLength="20.0" lengthAdjust="spacingAndGlyphs">2</tspan><tspan class="bigO" x="79.80" y="0.19" textLength="47.45" lengthAdjust="spacingAndGlyphs">O</tspan><tspan class="sub" x="126.00" y="21.84" textLength="20.0" lengthAdjust="spacingAndGlyphs">3</tspan></text>
<text transform="matrix(1.0000 0 0 1.0670 1881.50 209.30)" class="leg">0.2LSCO</text>
<text transform="matrix(1 0 0 1.0670 1882.80 296.30)" class="leg">SrCr<tspan class="sub" x="130.20" y="21.09" textLength="20.0" lengthAdjust="spacingAndGlyphs">2</tspan><tspan x="151.10" y="0">O</tspan><tspan class="sub" x="197.20" y="21.09" textLength="20.0" lengthAdjust="spacingAndGlyphs">7</tspan></text>
<text transform="matrix(1 0 0 1.0670 1882.00 402.00)" class="leg">Cr<tspan class="sub" x="66.50" y="22.59" textLength="20.0" lengthAdjust="spacingAndGlyphs">2</tspan><tspan x="87.70" y="0">O</tspan><tspan class="sub" x="134.00" y="22.59" textLength="20.0" lengthAdjust="spacingAndGlyphs">3</tspan></text>
</g>
<g id="ticklabels">
<text transform="matrix(0.9780 0 0 1.0430 196.30 1586.80)" class="tick">20</text>
<text transform="matrix(0.9780 0 0 1.0430 856.60 1586.80)" class="tick">40</text>
<text transform="matrix(0.9780 0 0 1.0430 1518.50 1586.80)" class="tick">60</text>
<text transform="matrix(0.9780 0 0 1.0430 2180.00 1586.80)" class="tick">80</text>
</g>
<g id="titles">
<text transform="translate(978.5 1698)" class="ttl"><tspan style="font-size:89.2px" x="0" y="0" textLength="46.95" lengthAdjust="spacingAndGlyphs">2</tspan><tspan class="ser" style="font-size:83.1px" x="46.5" y="0.6" textLength="44.7" lengthAdjust="spacingAndGlyphs">θ</tspan> <tspan style="font-size:85.7px" x="113.5" y="0" textLength="307.9" lengthAdjust="spacingAndGlyphs">/degree</tspan></text>
<text class="ytl" text-anchor="middle" transform="matrix(0 -1 1.02 0 92.0 795.7)">Intensity/a.u.</text>
</g>
</svg></body></html>
